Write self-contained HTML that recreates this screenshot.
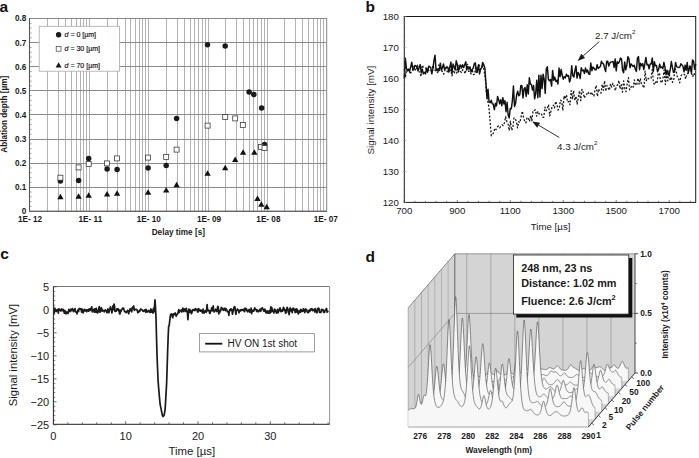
<!DOCTYPE html>
<html><head><meta charset="utf-8"><style>
html,body{margin:0;padding:0;background:#fff;overflow:hidden;}
svg{display:block;}
text{font-family:"Liberation Sans",sans-serif;}
</style></head><body>
<svg width="699" height="458" viewBox="0 0 699 458" font-family="Liberation Sans, sans-serif">
<rect width="699" height="458" fill="#fff"/>
<text x="-0.5" y="12.3" font-size="15.5" text-anchor="start" font-weight="bold" fill="#111" >a</text>
<text x="365.5" y="12.3" font-size="15.5" text-anchor="start" font-weight="bold" fill="#111" >b</text>
<text x="0.3" y="258.8" font-size="15.5" text-anchor="start" font-weight="bold" fill="#111" >c</text>
<text x="365.5" y="262.4" font-size="15.5" text-anchor="start" font-weight="bold" fill="#111" >d</text>
<line x1="47.5" y1="18.5" x2="47.5" y2="211.3" stroke="#b2b2b2" stroke-width="1" />
<line x1="58.5" y1="18.5" x2="58.5" y2="211.3" stroke="#b2b2b2" stroke-width="1" />
<line x1="65.5" y1="18.5" x2="65.5" y2="211.3" stroke="#b2b2b2" stroke-width="1" />
<line x1="71.5" y1="18.5" x2="71.5" y2="211.3" stroke="#b2b2b2" stroke-width="1" />
<line x1="76.5" y1="18.5" x2="76.5" y2="211.3" stroke="#b2b2b2" stroke-width="1" />
<line x1="80.5" y1="18.5" x2="80.5" y2="211.3" stroke="#b2b2b2" stroke-width="1" />
<line x1="83.5" y1="18.5" x2="83.5" y2="211.3" stroke="#b2b2b2" stroke-width="1" />
<line x1="86.5" y1="18.5" x2="86.5" y2="211.3" stroke="#b2b2b2" stroke-width="1" />
<line x1="107.5" y1="18.5" x2="107.5" y2="211.3" stroke="#b2b2b2" stroke-width="1" />
<line x1="117.5" y1="18.5" x2="117.5" y2="211.3" stroke="#b2b2b2" stroke-width="1" />
<line x1="125.5" y1="18.5" x2="125.5" y2="211.3" stroke="#b2b2b2" stroke-width="1" />
<line x1="130.5" y1="18.5" x2="130.5" y2="211.3" stroke="#b2b2b2" stroke-width="1" />
<line x1="135.5" y1="18.5" x2="135.5" y2="211.3" stroke="#b2b2b2" stroke-width="1" />
<line x1="139.5" y1="18.5" x2="139.5" y2="211.3" stroke="#b2b2b2" stroke-width="1" />
<line x1="142.5" y1="18.5" x2="142.5" y2="211.3" stroke="#b2b2b2" stroke-width="1" />
<line x1="145.5" y1="18.5" x2="145.5" y2="211.3" stroke="#b2b2b2" stroke-width="1" />
<line x1="89.5" y1="18.5" x2="89.5" y2="211.3" stroke="#b2b2b2" stroke-width="1" />
<line x1="166.5" y1="18.5" x2="166.5" y2="211.3" stroke="#b2b2b2" stroke-width="1" />
<line x1="177.5" y1="18.5" x2="177.5" y2="211.3" stroke="#b2b2b2" stroke-width="1" />
<line x1="184.5" y1="18.5" x2="184.5" y2="211.3" stroke="#b2b2b2" stroke-width="1" />
<line x1="190.5" y1="18.5" x2="190.5" y2="211.3" stroke="#b2b2b2" stroke-width="1" />
<line x1="194.5" y1="18.5" x2="194.5" y2="211.3" stroke="#b2b2b2" stroke-width="1" />
<line x1="198.5" y1="18.5" x2="198.5" y2="211.3" stroke="#b2b2b2" stroke-width="1" />
<line x1="202.5" y1="18.5" x2="202.5" y2="211.3" stroke="#b2b2b2" stroke-width="1" />
<line x1="205.5" y1="18.5" x2="205.5" y2="211.3" stroke="#b2b2b2" stroke-width="1" />
<line x1="148.5" y1="18.5" x2="148.5" y2="211.3" stroke="#b2b2b2" stroke-width="1" />
<line x1="225.5" y1="18.5" x2="225.5" y2="211.3" stroke="#b2b2b2" stroke-width="1" />
<line x1="236.5" y1="18.5" x2="236.5" y2="211.3" stroke="#b2b2b2" stroke-width="1" />
<line x1="243.5" y1="18.5" x2="243.5" y2="211.3" stroke="#b2b2b2" stroke-width="1" />
<line x1="249.5" y1="18.5" x2="249.5" y2="211.3" stroke="#b2b2b2" stroke-width="1" />
<line x1="253.5" y1="18.5" x2="253.5" y2="211.3" stroke="#b2b2b2" stroke-width="1" />
<line x1="257.5" y1="18.5" x2="257.5" y2="211.3" stroke="#b2b2b2" stroke-width="1" />
<line x1="261.5" y1="18.5" x2="261.5" y2="211.3" stroke="#b2b2b2" stroke-width="1" />
<line x1="264.5" y1="18.5" x2="264.5" y2="211.3" stroke="#b2b2b2" stroke-width="1" />
<line x1="208.5" y1="18.5" x2="208.5" y2="211.3" stroke="#b2b2b2" stroke-width="1" />
<line x1="284.5" y1="18.5" x2="284.5" y2="211.3" stroke="#b2b2b2" stroke-width="1" />
<line x1="295.5" y1="18.5" x2="295.5" y2="211.3" stroke="#b2b2b2" stroke-width="1" />
<line x1="302.5" y1="18.5" x2="302.5" y2="211.3" stroke="#b2b2b2" stroke-width="1" />
<line x1="308.5" y1="18.5" x2="308.5" y2="211.3" stroke="#b2b2b2" stroke-width="1" />
<line x1="313.5" y1="18.5" x2="313.5" y2="211.3" stroke="#b2b2b2" stroke-width="1" />
<line x1="317.5" y1="18.5" x2="317.5" y2="211.3" stroke="#b2b2b2" stroke-width="1" />
<line x1="320.5" y1="18.5" x2="320.5" y2="211.3" stroke="#b2b2b2" stroke-width="1" />
<line x1="323.5" y1="18.5" x2="323.5" y2="211.3" stroke="#b2b2b2" stroke-width="1" />
<line x1="267.5" y1="18.5" x2="267.5" y2="211.3" stroke="#b2b2b2" stroke-width="1" />
<line x1="29.5" y1="187.5" x2="326.7" y2="187.5" stroke="#8c8c8c" stroke-width="1" />
<line x1="29.5" y1="163.5" x2="326.7" y2="163.5" stroke="#8c8c8c" stroke-width="1" />
<line x1="29.5" y1="139.5" x2="326.7" y2="139.5" stroke="#8c8c8c" stroke-width="1" />
<line x1="29.5" y1="114.5" x2="326.7" y2="114.5" stroke="#8c8c8c" stroke-width="1" />
<line x1="29.5" y1="90.5" x2="326.7" y2="90.5" stroke="#8c8c8c" stroke-width="1" />
<line x1="29.5" y1="66.5" x2="326.7" y2="66.5" stroke="#8c8c8c" stroke-width="1" />
<line x1="29.5" y1="42.5" x2="326.7" y2="42.5" stroke="#8c8c8c" stroke-width="1" />
<line x1="29.5" y1="206.48" x2="31.7" y2="206.48" stroke="#888" stroke-width="0.7" />
<line x1="29.5" y1="201.66" x2="31.7" y2="201.66" stroke="#888" stroke-width="0.7" />
<line x1="29.5" y1="196.84" x2="31.7" y2="196.84" stroke="#888" stroke-width="0.7" />
<line x1="29.5" y1="192.02" x2="31.7" y2="192.02" stroke="#888" stroke-width="0.7" />
<line x1="29.5" y1="182.38" x2="31.7" y2="182.38" stroke="#888" stroke-width="0.7" />
<line x1="29.5" y1="177.56" x2="31.7" y2="177.56" stroke="#888" stroke-width="0.7" />
<line x1="29.5" y1="172.74" x2="31.7" y2="172.74" stroke="#888" stroke-width="0.7" />
<line x1="29.5" y1="167.92" x2="31.7" y2="167.92" stroke="#888" stroke-width="0.7" />
<line x1="29.5" y1="158.28" x2="31.7" y2="158.28" stroke="#888" stroke-width="0.7" />
<line x1="29.5" y1="153.46" x2="31.7" y2="153.46" stroke="#888" stroke-width="0.7" />
<line x1="29.5" y1="148.64" x2="31.7" y2="148.64" stroke="#888" stroke-width="0.7" />
<line x1="29.5" y1="143.82" x2="31.7" y2="143.82" stroke="#888" stroke-width="0.7" />
<line x1="29.5" y1="134.18" x2="31.7" y2="134.18" stroke="#888" stroke-width="0.7" />
<line x1="29.5" y1="129.36" x2="31.7" y2="129.36" stroke="#888" stroke-width="0.7" />
<line x1="29.5" y1="124.54" x2="31.7" y2="124.54" stroke="#888" stroke-width="0.7" />
<line x1="29.5" y1="119.72" x2="31.7" y2="119.72" stroke="#888" stroke-width="0.7" />
<line x1="29.5" y1="110.08" x2="31.7" y2="110.08" stroke="#888" stroke-width="0.7" />
<line x1="29.5" y1="105.26" x2="31.7" y2="105.26" stroke="#888" stroke-width="0.7" />
<line x1="29.5" y1="100.44" x2="31.7" y2="100.44" stroke="#888" stroke-width="0.7" />
<line x1="29.5" y1="95.62" x2="31.7" y2="95.62" stroke="#888" stroke-width="0.7" />
<line x1="29.5" y1="85.98" x2="31.7" y2="85.98" stroke="#888" stroke-width="0.7" />
<line x1="29.5" y1="81.16" x2="31.7" y2="81.16" stroke="#888" stroke-width="0.7" />
<line x1="29.5" y1="76.34" x2="31.7" y2="76.34" stroke="#888" stroke-width="0.7" />
<line x1="29.5" y1="71.52" x2="31.7" y2="71.52" stroke="#888" stroke-width="0.7" />
<line x1="29.5" y1="61.88" x2="31.7" y2="61.88" stroke="#888" stroke-width="0.7" />
<line x1="29.5" y1="57.06" x2="31.7" y2="57.06" stroke="#888" stroke-width="0.7" />
<line x1="29.5" y1="52.24" x2="31.7" y2="52.24" stroke="#888" stroke-width="0.7" />
<line x1="29.5" y1="47.42" x2="31.7" y2="47.42" stroke="#888" stroke-width="0.7" />
<line x1="29.5" y1="37.78" x2="31.7" y2="37.78" stroke="#888" stroke-width="0.7" />
<line x1="29.5" y1="32.96" x2="31.7" y2="32.96" stroke="#888" stroke-width="0.7" />
<line x1="29.5" y1="28.14" x2="31.7" y2="28.14" stroke="#888" stroke-width="0.7" />
<line x1="29.5" y1="23.32" x2="31.7" y2="23.32" stroke="#888" stroke-width="0.7" />
<rect x="29.5" y="18.5" width="297.2" height="192.8" fill="none" stroke="#888" stroke-width="1"/>
<line x1="29.5" y1="18.5" x2="29.5" y2="211.3" stroke="#555" stroke-width="1.1" />
<line x1="29.5" y1="211.3" x2="326.7" y2="211.3" stroke="#555" stroke-width="1.1" />
<rect x="39.2" y="26.3" width="80.3" height="44.9" fill="#fff" stroke="#aaa" stroke-width="0.8"/>
<circle cx="58.6" cy="34.7" r="2.7" fill="#1a1a1a"/>
<rect x="56.2" y="46.4" width="4.8" height="4.8" fill="#fff" stroke="#444" stroke-width="0.7"/>
<path d="M55.6,67.4 L61.6,67.4 L58.6,62.2 Z" fill="#1a1a1a"/>
<text x="64.6" y="37.2" font-size="7" fill="#111" stroke="#111" stroke-width="0.18"><tspan font-style="italic">d</tspan> = 0 [µm]</text>
<text x="64.6" y="51.3" font-size="7" fill="#111" stroke="#111" stroke-width="0.18"><tspan font-style="italic">d</tspan> = 30 [µm]</text>
<text x="64.6" y="67.5" font-size="7" fill="#111" stroke="#111" stroke-width="0.18"><tspan font-style="italic">d</tspan> = 70 [µm]</text>
<circle cx="60.4" cy="181.1" r="2.75" fill="#1a1a1a"/>
<circle cx="78.6" cy="180.5" r="2.75" fill="#1a1a1a"/>
<circle cx="88.7" cy="158.4" r="2.75" fill="#1a1a1a"/>
<circle cx="107.1" cy="169.0" r="2.75" fill="#1a1a1a"/>
<circle cx="117.1" cy="169.6" r="2.75" fill="#1a1a1a"/>
<circle cx="148.1" cy="168.0" r="2.75" fill="#1a1a1a"/>
<circle cx="166.2" cy="165.4" r="2.75" fill="#1a1a1a"/>
<circle cx="176.6" cy="118.4" r="2.75" fill="#1a1a1a"/>
<circle cx="207.5" cy="44.8" r="2.75" fill="#1a1a1a"/>
<circle cx="225.2" cy="45.9" r="2.75" fill="#1a1a1a"/>
<circle cx="249.1" cy="92.1" r="2.75" fill="#1a1a1a"/>
<circle cx="253.8" cy="94.6" r="2.75" fill="#1a1a1a"/>
<circle cx="261.6" cy="108" r="2.75" fill="#1a1a1a"/>
<circle cx="264.5" cy="144.6" r="2.75" fill="#1a1a1a"/>
<rect x="57.9" y="175.2" width="5" height="5" fill="#fff" stroke="#333" stroke-width="0.75"/>
<rect x="76.1" y="164.9" width="5" height="5" fill="#fff" stroke="#333" stroke-width="0.75"/>
<rect x="86.2" y="161.5" width="5" height="5" fill="#fff" stroke="#333" stroke-width="0.75"/>
<rect x="104.6" y="160.9" width="5" height="5" fill="#fff" stroke="#333" stroke-width="0.75"/>
<rect x="114.6" y="155.9" width="5" height="5" fill="#fff" stroke="#333" stroke-width="0.75"/>
<rect x="145.6" y="155.1" width="5" height="5" fill="#fff" stroke="#333" stroke-width="0.75"/>
<rect x="163.7" y="154.5" width="5" height="5" fill="#fff" stroke="#333" stroke-width="0.75"/>
<rect x="174.1" y="147.1" width="5" height="5" fill="#fff" stroke="#333" stroke-width="0.75"/>
<rect x="205.1" y="123.1" width="5" height="5" fill="#fff" stroke="#333" stroke-width="0.75"/>
<rect x="222.7" y="114.6" width="5" height="5" fill="#fff" stroke="#333" stroke-width="0.75"/>
<rect x="232.7" y="115.9" width="5" height="5" fill="#fff" stroke="#333" stroke-width="0.75"/>
<rect x="240.3" y="122.6" width="5" height="5" fill="#fff" stroke="#333" stroke-width="0.75"/>
<rect x="258.5" y="144.4" width="5" height="5" fill="#fff" stroke="#333" stroke-width="0.75"/>
<rect x="262" y="145.6" width="5" height="5" fill="#fff" stroke="#333" stroke-width="0.75"/>
<path d="M57.25,199.25 L63.55,199.25 L60.4,193.75 Z" fill="#111"/>
<path d="M75.45,198.85 L81.75,198.85 L78.6,193.35 Z" fill="#111"/>
<path d="M85.55,197.85 L91.85,197.85 L88.7,192.35 Z" fill="#111"/>
<path d="M103.95,196.45 L110.25,196.45 L107.1,190.95 Z" fill="#111"/>
<path d="M113.95,195.85 L120.25,195.85 L117.1,190.35 Z" fill="#111"/>
<path d="M144.95,194.85 L151.25,194.85 L148.1,189.35 Z" fill="#111"/>
<path d="M163.05,192.45 L169.35,192.45 L166.2,186.95 Z" fill="#111"/>
<path d="M173.45,187.25 L179.75,187.25 L176.6,181.75 Z" fill="#111"/>
<path d="M204.45,175.65 L210.75,175.65 L207.6,170.15 Z" fill="#111"/>
<path d="M222.05,170.15 L228.35,170.15 L225.2,164.65 Z" fill="#111"/>
<path d="M232.05,162.05 L238.35,162.05 L235.2,156.55 Z" fill="#111"/>
<path d="M239.95,154.85 L246.25,154.85 L243.1,149.35 Z" fill="#111"/>
<path d="M251.15,154.85 L257.45,154.85 L254.3,149.35 Z" fill="#111"/>
<path d="M254.35,200.95 L260.65,200.95 L257.5,195.45 Z" fill="#111"/>
<path d="M258.15,206.75 L264.45,206.75 L261.3,201.25 Z" fill="#111"/>
<path d="M263.55,209.35 L269.85,209.35 L266.7,203.85 Z" fill="#111"/>
<text x="26.4" y="214.2" font-size="8.2" text-anchor="end" font-weight="bold" fill="#1a1a1a" >0</text>
<text x="26.4" y="190.1" font-size="8.2" text-anchor="end" font-weight="bold" fill="#1a1a1a" >0.1</text>
<text x="26.4" y="166" font-size="8.2" text-anchor="end" font-weight="bold" fill="#1a1a1a" >0.2</text>
<text x="26.4" y="141.9" font-size="8.2" text-anchor="end" font-weight="bold" fill="#1a1a1a" >0.3</text>
<text x="26.4" y="117.8" font-size="8.2" text-anchor="end" font-weight="bold" fill="#1a1a1a" >0.4</text>
<text x="26.4" y="93.7" font-size="8.2" text-anchor="end" font-weight="bold" fill="#1a1a1a" >0.5</text>
<text x="26.4" y="69.6" font-size="8.2" text-anchor="end" font-weight="bold" fill="#1a1a1a" >0.6</text>
<text x="26.4" y="45.5" font-size="8.2" text-anchor="end" font-weight="bold" fill="#1a1a1a" >0.7</text>
<text x="26.4" y="21.4" font-size="8.2" text-anchor="end" font-weight="bold" fill="#1a1a1a" >0.8</text>
<text x="30" y="221.8" font-size="8.2" text-anchor="middle" font-weight="bold" fill="#1a1a1a" >1E- 12</text>
<text x="90.4" y="221.8" font-size="8.2" text-anchor="middle" font-weight="bold" fill="#1a1a1a" >1E- 11</text>
<text x="148.8" y="221.8" font-size="8.2" text-anchor="middle" font-weight="bold" fill="#1a1a1a" >1E- 10</text>
<text x="209" y="221.8" font-size="8.2" text-anchor="middle" font-weight="bold" fill="#1a1a1a" >1E- 09</text>
<text x="268.4" y="221.8" font-size="8.2" text-anchor="middle" font-weight="bold" fill="#1a1a1a" >1E- 08</text>
<text x="325.8" y="221.8" font-size="8.2" text-anchor="middle" font-weight="bold" fill="#1a1a1a" >1E- 07</text>
<text x="178.3" y="234.6" font-size="8.2" text-anchor="middle" font-weight="bold" fill="#1a1a1a" >Delay time [s]</text>
<text transform="translate(6.6,114.2) rotate(-90)" font-size="8.2" font-weight="bold" text-anchor="middle" fill="#1a1a1a">Ablation depth [µm]</text>
<path d="M404.3,69.12 L405.49,76.55 L406.68,69.56 L407.88,70.62 L409.07,70.13 L410.26,74.08 L411.45,71.33 L412.64,71.02 L413.84,66.36 L415.03,69.27 L416.22,70.43 L417.41,65.2 L418.61,72.3 L419.8,71.74 L420.99,76.55 L422.18,65.06 L423.37,67.12 L424.57,67.29 L425.76,68.13 L426.95,70.04 L428.14,69.68 L429.33,71.27 L430.53,71.1 L431.72,70.23 L432.91,65.26 L434.1,68.52 L435.29,70.61 L436.49,72.39 L437.68,72.58 L438.87,64.95 L440.06,68.68 L441.25,70.18 L442.45,71.59 L443.64,74.19 L444.83,70.64 L446.02,67.43 L447.22,71.75 L448.41,71.19 L449.6,71.16 L450.79,70.04 L451.98,75.84 L453.18,71.21 L454.37,73.32 L455.56,67.4 L456.75,73.04 L457.94,68.44 L459.14,65.22 L460.33,71.48 L461.52,72.46 L462.71,69.76 L463.9,70.42 L465.1,73.8 L466.29,68.84 L467.48,64.28 L468.67,71.29 L469.87,71.1 L471.06,73.97 L472.25,69.32 L473.44,74.66 L474.63,74.18 L475.83,66.05 L477.02,73.5 L478.21,66.73 L479.4,65.22 L480.59,69.53 L481.79,68.52 L482.98,64.28 L484.17,71.08 L485.36,78.59 L486.55,94.5 L487.75,101.06 L488.94,107.44 L490.13,122.3 L491.32,135.74 L492.51,134.63 L493.71,132.37 L494.9,128.18 L496.09,129.6 L497.28,127.04 L498.48,125.94 L499.67,127.79 L500.86,126.27 L502.05,124.8 L503.24,125.66 L504.44,122.71 L505.63,116.69 L506.82,121.53 L508.01,123.46 L509.2,130.62 L510.4,121.22 L511.59,130.32 L512.78,128.22 L513.97,118 L515.16,118.25 L516.36,121.56 L517.55,127.93 L518.74,121.73 L519.93,122.66 L521.12,116.56 L522.32,111.11 L523.51,117.58 L524.7,121.51 L525.89,122.8 L527.09,117.57 L528.28,117.7 L529.47,121.53 L530.66,115.63 L531.85,120.73 L533.05,110.51 L534.24,110.33 L535.43,109.83 L536.62,116.2 L537.81,111.4 L539.01,113.68 L540.2,114.27 L541.39,113.54 L542.58,117.18 L543.77,117.28 L544.97,107.05 L546.16,110.8 L547.35,108.51 L548.54,104.58 L549.74,115.92 L550.93,111.28 L552.12,106.6 L553.31,105.14 L554.5,107.95 L555.7,101.33 L556.89,104.35 L558.08,110.01 L559.27,108.26 L560.46,100.2 L561.66,101.16 L562.85,110.46 L564.04,95.87 L565.23,98.83 L566.42,94.84 L567.62,102.34 L568.81,101.41 L570,104.75 L571.19,90.63 L572.38,99.29 L573.58,90.57 L574.77,100.43 L575.96,96.14 L577.15,104.15 L578.35,97.64 L579.54,90.76 L580.73,100.63 L581.92,89.3 L583.11,92.2 L584.31,98.09 L585.5,95.05 L586.69,94.33 L587.88,91.9 L589.07,93.64 L590.27,94.6 L591.46,91.92 L592.65,95.03 L593.84,96.01 L595.03,89.99 L596.23,85.42 L597.42,96.39 L598.61,89.02 L599.8,91.81 L601,93.08 L602.19,84.33 L603.38,90.46 L604.57,80.84 L605.76,91.19 L606.96,85.52 L608.15,88.13 L609.34,90.33 L610.53,83.85 L611.72,87.05 L612.92,83.29 L614.11,86.06 L615.3,90.64 L616.49,85.83 L617.68,84.87 L618.88,80.41 L620.07,88.83 L621.26,84.55 L622.45,92.13 L623.64,80.85 L624.84,88.66 L626.03,91.75 L627.22,83.42 L628.41,77.76 L629.61,89.74 L630.8,87.46 L631.99,85.62 L633.18,87.17 L634.37,79.91 L635.57,85.18 L636.76,84.53 L637.95,78.22 L639.14,84.2 L640.33,78.43 L641.53,84.71 L642.72,85.59 L643.91,88.07 L645.1,71.1 L646.29,80.71 L647.49,77.84 L648.68,78.87 L649.87,77.74 L651.06,78.01 L652.25,69.63 L653.45,82.57 L654.64,84.74 L655.83,81.96 L657.02,83.31 L658.22,73.49 L659.41,73.01 L660.6,81.15 L661.79,83.01 L662.98,78.06 L664.18,69.8 L665.37,84.49 L666.56,73.54 L667.75,80.85 L668.94,70.87 L670.14,80.58 L671.33,76.76 L672.52,82.29 L673.71,79.69 L674.9,68.57 L676.1,71.06 L677.29,76.6 L678.48,78.64 L679.67,82.82 L680.87,76.14 L682.06,74.32 L683.25,74.43 L684.44,74.33 L685.63,78.97 L686.83,73.93 L688.02,73.66 L689.21,67.34 L690.4,64.83 L691.59,73.7 L692.79,76.48 L693.98,73.08 L695.17,75.47" stroke="#1a1a1a" stroke-width="1.3" fill="none" stroke-linejoin="round" stroke-dasharray="2 1.7"/>
<path d="M404.3,78.47 L405.36,58.33 L406.42,68.37 L407.48,70.76 L408.54,69.07 L409.6,71.15 L410.66,67.08 L411.72,62.12 L412.78,69.22 L413.84,69.72 L414.9,65.42 L415.96,65.93 L417.02,66.9 L418.08,70.92 L419.13,67.43 L420.19,64.62 L421.25,72.52 L422.31,69.08 L423.37,73.9 L424.43,72.31 L425.49,73.9 L426.55,68.22 L427.61,72.22 L428.67,66.26 L429.73,66.71 L430.79,68.04 L431.85,73.89 L432.91,68.82 L433.97,60.44 L435.03,55.23 L436.09,70.64 L437.15,69.08 L438.21,71.1 L439.27,70.45 L440.33,63.2 L441.39,70.44 L442.45,67.44 L443.51,63.89 L444.57,69.57 L445.63,67.75 L446.69,66.88 L447.75,67.07 L448.8,72.06 L449.86,67.02 L450.92,62.05 L451.98,73.3 L453.04,63.98 L454.1,66.85 L455.16,69.8 L456.22,60.73 L457.28,64.36 L458.34,71.96 L459.4,67.02 L460.46,65.08 L461.52,68.04 L462.58,64.67 L463.64,67.57 L464.7,64.73 L465.76,61.74 L466.82,69.93 L467.88,66.53 L468.94,69.11 L470,66.82 L471.06,71.91 L472.12,69.56 L473.18,68.07 L474.24,63.83 L475.3,62.88 L476.36,72.44 L477.41,70.39 L478.47,64.81 L479.53,73.9 L480.59,69.11 L481.65,67.69 L482.71,62.44 L483.77,64.64 L484.83,67.92 L485.89,82.71 L486.95,98.22 L488.01,89.16 L489.07,102.02 L490.13,102.67 L491.19,100.18 L492.25,103.7 L493.31,104.24 L494.37,109.72 L495.43,103.32 L496.49,105.95 L497.55,96.57 L498.61,99.67 L499.67,103.75 L500.73,99.76 L501.79,105.79 L502.85,97.68 L503.91,103.99 L504.97,100.62 L506.03,111.74 L507.08,102.21 L508.14,115.03 L509.2,117.9 L510.26,108.4 L511.32,108.68 L512.38,100.95 L513.44,85.88 L514.5,106.55 L515.56,103.46 L516.62,94.98 L517.68,91.19 L518.74,95.71 L519.8,94.68 L520.86,85.51 L521.92,85.8 L522.98,97.99 L524.04,88.87 L525.1,87.47 L526.16,96.52 L527.22,84.71 L528.28,94 L529.34,77.72 L530.4,84.07 L531.46,84.56 L532.52,90.06 L533.58,85.56 L534.64,98.87 L535.69,93.53 L536.75,80.16 L537.81,97.65 L538.87,75.16 L539.93,96.84 L540.99,75.12 L542.05,88.62 L543.11,74.12 L544.17,79.34 L545.23,93.4 L546.29,68.82 L547.35,66.75 L548.41,79.42 L549.47,80.82 L550.53,79.43 L551.59,86.09 L552.65,70.42 L553.71,80.36 L554.77,77.07 L555.83,81.44 L556.89,80.17 L557.95,83.97 L559.01,68.03 L560.07,76.54 L561.13,69.36 L562.19,75.03 L563.25,79.18 L564.31,76.67 L565.36,77.88 L566.42,74.13 L567.48,76.27 L568.54,75.56 L569.6,82.01 L570.66,78.24 L571.72,65.83 L572.78,75.68 L573.84,77.1 L574.9,70.83 L575.96,65.96 L577.02,78.13 L578.08,72.5 L579.14,74.1 L580.2,78.5 L581.26,67.7 L582.32,70.75 L583.38,70.11 L584.44,73.45 L585.5,67.98 L586.56,72.05 L587.62,70.1 L588.68,74.05 L589.74,74.28 L590.8,62.98 L591.86,70.74 L592.92,67.04 L593.97,68.22 L595.03,69.75 L596.09,69.8 L597.15,64.63 L598.21,68.44 L599.27,67.55 L600.33,66.56 L601.39,61.32 L602.45,63.24 L603.51,63.79 L604.57,67.9 L605.63,71.45 L606.69,61.33 L607.75,61.26 L608.81,66.06 L609.87,63.1 L610.93,62.06 L611.99,61.85 L613.05,61.46 L614.11,67.43 L615.17,58.88 L616.23,70.86 L617.29,61.72 L618.35,63.31 L619.41,61.66 L620.47,58.08 L621.53,59.01 L622.59,70.42 L623.64,72.78 L624.7,61.91 L625.76,69.85 L626.82,65.25 L627.88,56.68 L628.94,58.64 L630,67.7 L631.06,64.07 L632.12,65.26 L633.18,66.52 L634.24,65.29 L635.3,69.18 L636.36,71.37 L637.42,58.23 L638.48,56.57 L639.54,69.66 L640.6,63.17 L641.66,65.72 L642.72,63.69 L643.78,69.52 L644.84,63.75 L645.9,57.39 L646.96,64.74 L648.02,64.38 L649.08,68.85 L650.14,63.91 L651.2,63.98 L652.25,58.08 L653.31,71.5 L654.37,61.6 L655.43,65.84 L656.49,65.51 L657.55,71.74 L658.61,69.31 L659.67,64.09 L660.73,67.67 L661.79,66.96 L662.85,68.57 L663.91,62.3 L664.97,67.41 L666.03,74.69 L667.09,70.31 L668.15,74.69 L669.21,74.69 L670.27,69.61 L671.33,61.53 L672.39,67.11 L673.45,72.4 L674.51,71.39 L675.57,62.41 L676.63,66.63 L677.69,67.1 L678.75,67.54 L679.81,67.15 L680.87,63.82 L681.92,64.92 L682.98,66.38 L684.04,71.84 L685.1,65.1 L686.16,70.28 L687.22,62.57 L688.28,72.83 L689.34,67.91 L690.4,67.34 L691.46,73.06 L692.52,59.94 L693.58,60.98 L694.64,69.32 L695.7,63.97" stroke="#111" stroke-width="1.45" fill="none" stroke-linejoin="round" />
<rect x="404.3" y="16.5" width="291.4" height="185.9" fill="none" stroke="#1a1a1a" stroke-width="1"/>
<line x1="403.3" y1="202.4" x2="406.5" y2="202.4" stroke="#888" stroke-width="0.5" />
<line x1="403.3" y1="196.2" x2="405.5" y2="196.2" stroke="#888" stroke-width="0.5" />
<line x1="403.3" y1="190.01" x2="405.5" y2="190.01" stroke="#888" stroke-width="0.5" />
<line x1="403.3" y1="183.81" x2="405.5" y2="183.81" stroke="#888" stroke-width="0.5" />
<line x1="403.3" y1="177.61" x2="405.5" y2="177.61" stroke="#888" stroke-width="0.5" />
<line x1="403.3" y1="171.42" x2="406.5" y2="171.42" stroke="#888" stroke-width="0.5" />
<line x1="403.3" y1="165.22" x2="405.5" y2="165.22" stroke="#888" stroke-width="0.5" />
<line x1="403.3" y1="159.02" x2="405.5" y2="159.02" stroke="#888" stroke-width="0.5" />
<line x1="403.3" y1="152.83" x2="405.5" y2="152.83" stroke="#888" stroke-width="0.5" />
<line x1="403.3" y1="146.63" x2="405.5" y2="146.63" stroke="#888" stroke-width="0.5" />
<line x1="403.3" y1="140.43" x2="406.5" y2="140.43" stroke="#888" stroke-width="0.5" />
<line x1="403.3" y1="134.24" x2="405.5" y2="134.24" stroke="#888" stroke-width="0.5" />
<line x1="403.3" y1="128.04" x2="405.5" y2="128.04" stroke="#888" stroke-width="0.5" />
<line x1="403.3" y1="121.84" x2="405.5" y2="121.84" stroke="#888" stroke-width="0.5" />
<line x1="403.3" y1="115.65" x2="405.5" y2="115.65" stroke="#888" stroke-width="0.5" />
<line x1="403.3" y1="109.45" x2="406.5" y2="109.45" stroke="#888" stroke-width="0.5" />
<line x1="403.3" y1="103.25" x2="405.5" y2="103.25" stroke="#888" stroke-width="0.5" />
<line x1="403.3" y1="97.06" x2="405.5" y2="97.06" stroke="#888" stroke-width="0.5" />
<line x1="403.3" y1="90.86" x2="405.5" y2="90.86" stroke="#888" stroke-width="0.5" />
<line x1="403.3" y1="84.66" x2="405.5" y2="84.66" stroke="#888" stroke-width="0.5" />
<line x1="403.3" y1="78.47" x2="406.5" y2="78.47" stroke="#888" stroke-width="0.5" />
<line x1="403.3" y1="72.27" x2="405.5" y2="72.27" stroke="#888" stroke-width="0.5" />
<line x1="403.3" y1="66.07" x2="405.5" y2="66.07" stroke="#888" stroke-width="0.5" />
<line x1="403.3" y1="59.88" x2="405.5" y2="59.88" stroke="#888" stroke-width="0.5" />
<line x1="403.3" y1="53.68" x2="405.5" y2="53.68" stroke="#888" stroke-width="0.5" />
<line x1="403.3" y1="47.48" x2="406.5" y2="47.48" stroke="#888" stroke-width="0.5" />
<line x1="403.3" y1="41.29" x2="405.5" y2="41.29" stroke="#888" stroke-width="0.5" />
<line x1="403.3" y1="35.09" x2="405.5" y2="35.09" stroke="#888" stroke-width="0.5" />
<line x1="403.3" y1="28.89" x2="405.5" y2="28.89" stroke="#888" stroke-width="0.5" />
<line x1="403.3" y1="22.7" x2="405.5" y2="22.7" stroke="#888" stroke-width="0.5" />
<line x1="403.3" y1="16.5" x2="406.5" y2="16.5" stroke="#888" stroke-width="0.5" />
<line x1="404.3" y1="202.4" x2="404.3" y2="200" stroke="#333" stroke-width="0.6" />
<line x1="414.9" y1="202.4" x2="414.9" y2="200.8" stroke="#333" stroke-width="0.6" />
<line x1="425.49" y1="202.4" x2="425.49" y2="200.8" stroke="#333" stroke-width="0.6" />
<line x1="436.09" y1="202.4" x2="436.09" y2="200.8" stroke="#333" stroke-width="0.6" />
<line x1="446.69" y1="202.4" x2="446.69" y2="200.8" stroke="#333" stroke-width="0.6" />
<line x1="457.28" y1="202.4" x2="457.28" y2="200" stroke="#333" stroke-width="0.6" />
<line x1="467.88" y1="202.4" x2="467.88" y2="200.8" stroke="#333" stroke-width="0.6" />
<line x1="478.47" y1="202.4" x2="478.47" y2="200.8" stroke="#333" stroke-width="0.6" />
<line x1="489.07" y1="202.4" x2="489.07" y2="200.8" stroke="#333" stroke-width="0.6" />
<line x1="499.67" y1="202.4" x2="499.67" y2="200.8" stroke="#333" stroke-width="0.6" />
<line x1="510.26" y1="202.4" x2="510.26" y2="200" stroke="#333" stroke-width="0.6" />
<line x1="520.86" y1="202.4" x2="520.86" y2="200.8" stroke="#333" stroke-width="0.6" />
<line x1="531.46" y1="202.4" x2="531.46" y2="200.8" stroke="#333" stroke-width="0.6" />
<line x1="542.05" y1="202.4" x2="542.05" y2="200.8" stroke="#333" stroke-width="0.6" />
<line x1="552.65" y1="202.4" x2="552.65" y2="200.8" stroke="#333" stroke-width="0.6" />
<line x1="563.25" y1="202.4" x2="563.25" y2="200" stroke="#333" stroke-width="0.6" />
<line x1="573.84" y1="202.4" x2="573.84" y2="200.8" stroke="#333" stroke-width="0.6" />
<line x1="584.44" y1="202.4" x2="584.44" y2="200.8" stroke="#333" stroke-width="0.6" />
<line x1="595.03" y1="202.4" x2="595.03" y2="200.8" stroke="#333" stroke-width="0.6" />
<line x1="605.63" y1="202.4" x2="605.63" y2="200.8" stroke="#333" stroke-width="0.6" />
<line x1="616.23" y1="202.4" x2="616.23" y2="200" stroke="#333" stroke-width="0.6" />
<line x1="626.82" y1="202.4" x2="626.82" y2="200.8" stroke="#333" stroke-width="0.6" />
<line x1="637.42" y1="202.4" x2="637.42" y2="200.8" stroke="#333" stroke-width="0.6" />
<line x1="648.02" y1="202.4" x2="648.02" y2="200.8" stroke="#333" stroke-width="0.6" />
<line x1="658.61" y1="202.4" x2="658.61" y2="200.8" stroke="#333" stroke-width="0.6" />
<line x1="669.21" y1="202.4" x2="669.21" y2="200" stroke="#333" stroke-width="0.6" />
<line x1="679.81" y1="202.4" x2="679.81" y2="200.8" stroke="#333" stroke-width="0.6" />
<line x1="690.4" y1="202.4" x2="690.4" y2="200.8" stroke="#333" stroke-width="0.6" />
<text x="398.8" y="206" font-size="9.7" text-anchor="end" font-weight="normal" fill="#1a1a1a" >120</text>
<text x="398.8" y="175.02" font-size="9.7" text-anchor="end" font-weight="normal" fill="#1a1a1a" >130</text>
<text x="398.8" y="144.03" font-size="9.7" text-anchor="end" font-weight="normal" fill="#1a1a1a" >140</text>
<text x="398.8" y="113.05" font-size="9.7" text-anchor="end" font-weight="normal" fill="#1a1a1a" >150</text>
<text x="398.8" y="82.07" font-size="9.7" text-anchor="end" font-weight="normal" fill="#1a1a1a" >160</text>
<text x="398.8" y="51.08" font-size="9.7" text-anchor="end" font-weight="normal" fill="#1a1a1a" >170</text>
<text x="398.8" y="20.1" font-size="9.7" text-anchor="end" font-weight="normal" fill="#1a1a1a" >180</text>
<text x="404.3" y="214" font-size="9.7" text-anchor="middle" font-weight="normal" fill="#1a1a1a" >700</text>
<text x="457.28" y="214" font-size="9.7" text-anchor="middle" font-weight="normal" fill="#1a1a1a" >900</text>
<text x="510.26" y="214" font-size="9.7" text-anchor="middle" font-weight="normal" fill="#1a1a1a" >1100</text>
<text x="563.25" y="214" font-size="9.7" text-anchor="middle" font-weight="normal" fill="#1a1a1a" >1300</text>
<text x="616.23" y="214" font-size="9.7" text-anchor="middle" font-weight="normal" fill="#1a1a1a" >1500</text>
<text x="669.21" y="214" font-size="9.7" text-anchor="middle" font-weight="normal" fill="#1a1a1a" >1700</text>
<text x="550.6" y="229.7" font-size="9.7" text-anchor="middle" font-weight="normal" fill="#1a1a1a" >Time [µs]</text>
<text transform="translate(374.2,110.1) rotate(-90)" font-size="9.8" text-anchor="middle" fill="#1a1a1a">Signal intensity [mV]</text>
<text x="595" y="39.1" font-size="9.8" text-anchor="start" font-weight="normal" fill="#1a1a1a" >2.7 J/cm<tspan font-size="6.2" dy="-5.0">2</tspan></text>
<text x="557" y="150" font-size="9.8" text-anchor="start" font-weight="normal" fill="#1a1a1a" >4.3 J/cm<tspan font-size="6.2" dy="-5.0">2</tspan></text>
<line x1="599.3" y1="41.6" x2="583.2" y2="55.92" stroke="#1a1a1a" stroke-width="0.9" />
<path d="M577.6,60.9 L581.28,53.75 L585.13,58.08 Z" fill="#1a1a1a"/>
<line x1="559.3" y1="137.5" x2="538.65" y2="125.23" stroke="#1a1a1a" stroke-width="0.9" />
<path d="M532.2,121.4 L540.13,122.74 L537.17,127.72 Z" fill="#1a1a1a"/>
<line x1="53.4" y1="286.5" x2="329.6" y2="286.5" stroke="#555" stroke-width="0.8" />
<line x1="329.6" y1="286.5" x2="329.6" y2="424.3" stroke="#777" stroke-width="0.8" />
<line x1="53.4" y1="286.5" x2="53.4" y2="424.3" stroke="#222" stroke-width="1.0" />
<line x1="53.4" y1="424.3" x2="329.6" y2="424.3" stroke="#222" stroke-width="1.0" />
<line x1="53.4" y1="424.8" x2="56.6" y2="424.8" stroke="#333" stroke-width="0.7" />
<line x1="53.4" y1="420.2" x2="55.2" y2="420.2" stroke="#333" stroke-width="0.7" />
<line x1="53.4" y1="415.6" x2="55.2" y2="415.6" stroke="#333" stroke-width="0.7" />
<line x1="53.4" y1="411" x2="55.2" y2="411" stroke="#333" stroke-width="0.7" />
<line x1="53.4" y1="406.4" x2="55.2" y2="406.4" stroke="#333" stroke-width="0.7" />
<line x1="53.4" y1="401.8" x2="56.6" y2="401.8" stroke="#333" stroke-width="0.7" />
<line x1="53.4" y1="397.2" x2="55.2" y2="397.2" stroke="#333" stroke-width="0.7" />
<line x1="53.4" y1="392.6" x2="55.2" y2="392.6" stroke="#333" stroke-width="0.7" />
<line x1="53.4" y1="388" x2="55.2" y2="388" stroke="#333" stroke-width="0.7" />
<line x1="53.4" y1="383.4" x2="55.2" y2="383.4" stroke="#333" stroke-width="0.7" />
<line x1="53.4" y1="378.8" x2="56.6" y2="378.8" stroke="#333" stroke-width="0.7" />
<line x1="53.4" y1="374.2" x2="55.2" y2="374.2" stroke="#333" stroke-width="0.7" />
<line x1="53.4" y1="369.6" x2="55.2" y2="369.6" stroke="#333" stroke-width="0.7" />
<line x1="53.4" y1="365" x2="55.2" y2="365" stroke="#333" stroke-width="0.7" />
<line x1="53.4" y1="360.4" x2="55.2" y2="360.4" stroke="#333" stroke-width="0.7" />
<line x1="53.4" y1="355.8" x2="56.6" y2="355.8" stroke="#333" stroke-width="0.7" />
<line x1="53.4" y1="351.2" x2="55.2" y2="351.2" stroke="#333" stroke-width="0.7" />
<line x1="53.4" y1="346.6" x2="55.2" y2="346.6" stroke="#333" stroke-width="0.7" />
<line x1="53.4" y1="342" x2="55.2" y2="342" stroke="#333" stroke-width="0.7" />
<line x1="53.4" y1="337.4" x2="55.2" y2="337.4" stroke="#333" stroke-width="0.7" />
<line x1="53.4" y1="332.8" x2="56.6" y2="332.8" stroke="#333" stroke-width="0.7" />
<line x1="53.4" y1="328.2" x2="55.2" y2="328.2" stroke="#333" stroke-width="0.7" />
<line x1="53.4" y1="323.6" x2="55.2" y2="323.6" stroke="#333" stroke-width="0.7" />
<line x1="53.4" y1="319" x2="55.2" y2="319" stroke="#333" stroke-width="0.7" />
<line x1="53.4" y1="314.4" x2="55.2" y2="314.4" stroke="#333" stroke-width="0.7" />
<line x1="53.4" y1="309.8" x2="56.6" y2="309.8" stroke="#333" stroke-width="0.7" />
<line x1="53.4" y1="305.2" x2="55.2" y2="305.2" stroke="#333" stroke-width="0.7" />
<line x1="53.4" y1="300.6" x2="55.2" y2="300.6" stroke="#333" stroke-width="0.7" />
<line x1="53.4" y1="296" x2="55.2" y2="296" stroke="#333" stroke-width="0.7" />
<line x1="53.4" y1="291.4" x2="55.2" y2="291.4" stroke="#333" stroke-width="0.7" />
<line x1="53.4" y1="286.8" x2="56.6" y2="286.8" stroke="#333" stroke-width="0.7" />
<line x1="53.4" y1="424.3" x2="53.4" y2="421.1" stroke="#333" stroke-width="0.7" />
<line x1="67.86" y1="424.3" x2="67.86" y2="422.3" stroke="#333" stroke-width="0.7" />
<line x1="82.32" y1="424.3" x2="82.32" y2="422.3" stroke="#333" stroke-width="0.7" />
<line x1="96.78" y1="424.3" x2="96.78" y2="422.3" stroke="#333" stroke-width="0.7" />
<line x1="111.24" y1="424.3" x2="111.24" y2="422.3" stroke="#333" stroke-width="0.7" />
<line x1="125.7" y1="424.3" x2="125.7" y2="421.1" stroke="#333" stroke-width="0.7" />
<line x1="140.16" y1="424.3" x2="140.16" y2="422.3" stroke="#333" stroke-width="0.7" />
<line x1="154.62" y1="424.3" x2="154.62" y2="422.3" stroke="#333" stroke-width="0.7" />
<line x1="169.08" y1="424.3" x2="169.08" y2="422.3" stroke="#333" stroke-width="0.7" />
<line x1="183.54" y1="424.3" x2="183.54" y2="422.3" stroke="#333" stroke-width="0.7" />
<line x1="198" y1="424.3" x2="198" y2="421.1" stroke="#333" stroke-width="0.7" />
<line x1="212.46" y1="424.3" x2="212.46" y2="422.3" stroke="#333" stroke-width="0.7" />
<line x1="226.92" y1="424.3" x2="226.92" y2="422.3" stroke="#333" stroke-width="0.7" />
<line x1="241.38" y1="424.3" x2="241.38" y2="422.3" stroke="#333" stroke-width="0.7" />
<line x1="255.84" y1="424.3" x2="255.84" y2="422.3" stroke="#333" stroke-width="0.7" />
<line x1="270.3" y1="424.3" x2="270.3" y2="421.1" stroke="#333" stroke-width="0.7" />
<line x1="284.76" y1="424.3" x2="284.76" y2="422.3" stroke="#333" stroke-width="0.7" />
<line x1="299.22" y1="424.3" x2="299.22" y2="422.3" stroke="#333" stroke-width="0.7" />
<line x1="313.68" y1="424.3" x2="313.68" y2="422.3" stroke="#333" stroke-width="0.7" />
<line x1="328.14" y1="424.3" x2="328.14" y2="422.3" stroke="#333" stroke-width="0.7" />
<text x="49.2" y="290.6" font-size="11" text-anchor="end" font-weight="normal" fill="#1a1a1a" >5</text>
<text x="49.2" y="313.6" font-size="11" text-anchor="end" font-weight="normal" fill="#1a1a1a" >0</text>
<text x="49.2" y="336.6" font-size="11" text-anchor="end" font-weight="normal" fill="#1a1a1a" >−5</text>
<text x="49.2" y="359.6" font-size="11" text-anchor="end" font-weight="normal" fill="#1a1a1a" >−10</text>
<text x="49.2" y="382.6" font-size="11" text-anchor="end" font-weight="normal" fill="#1a1a1a" >−15</text>
<text x="49.2" y="405.6" font-size="11" text-anchor="end" font-weight="normal" fill="#1a1a1a" >−20</text>
<text x="49.2" y="428.6" font-size="11" text-anchor="end" font-weight="normal" fill="#1a1a1a" >−25</text>
<text x="53.4" y="439.5" font-size="11" text-anchor="middle" font-weight="normal" fill="#1a1a1a" >0</text>
<text x="125.7" y="439.5" font-size="11" text-anchor="middle" font-weight="normal" fill="#1a1a1a" >10</text>
<text x="198" y="439.5" font-size="11" text-anchor="middle" font-weight="normal" fill="#1a1a1a" >20</text>
<text x="270.3" y="439.5" font-size="11" text-anchor="middle" font-weight="normal" fill="#1a1a1a" >30</text>
<text x="191.8" y="455" font-size="11.4" text-anchor="middle" font-weight="normal" fill="#1a1a1a" >Time [µs]</text>
<text transform="translate(16.6,355) rotate(-90)" font-size="11.3" text-anchor="middle" fill="#1a1a1a">Signal intensity [mV]</text>
<rect x="199.5" y="333.6" width="114.9" height="18.3" fill="#fff" stroke="#888" stroke-width="0.8"/>
<line x1="205.2" y1="343.7" x2="222.3" y2="343.7" stroke="#111" stroke-width="1.8" />
<text x="227.6" y="347.4" font-size="10" text-anchor="start" font-weight="normal" fill="#1a1a1a" >HV ON 1st shot</text>
<path d="M53.76,312.47 L54.27,312.99 L54.77,308.07 L55.28,310.52 L55.79,310.98 L56.29,311.49 L56.8,309.87 L57.3,310.39 L57.81,309.26 L58.32,313.09 L58.82,308.75 L59.33,310.12 L59.83,309.28 L60.34,310.35 L60.85,311.06 L61.35,309.91 L61.86,308.99 L62.37,310.37 L62.87,310.7 L63.38,309.45 L63.88,311.58 L64.39,313.25 L64.9,310.68 L65.4,311.63 L65.91,313.92 L66.41,312.83 L66.92,311.94 L67.43,312.85 L67.93,313.6 L68.44,311.36 L68.94,309.31 L69.45,310.51 L69.96,311.69 L70.46,310.23 L70.97,309.26 L71.47,310.6 L71.98,309.65 L72.49,308.56 L72.99,310.24 L73.5,311.73 L74.01,310.3 L74.51,310.03 L75.02,308.58 L75.52,311.99 L76.03,312 L76.54,312.29 L77.04,313.82 L77.55,311.29 L78.05,309.88 L78.56,311.5 L79.07,308.56 L79.57,308.59 L80.08,308.91 L80.58,309.37 L81.09,308.62 L81.6,312.07 L82.1,309.98 L82.61,309.37 L83.12,313 L83.62,310.68 L84.13,310.95 L84.63,309.37 L85.14,310.86 L85.65,310.63 L86.15,309.98 L86.66,311.75 L87.16,309.9 L87.67,310.48 L88.18,309.7 L88.68,311.09 L89.19,308.92 L89.69,309.05 L90.2,310.34 L90.71,309.43 L91.21,308.14 L91.72,306.9 L92.23,311.95 L92.73,309.51 L93.24,309.45 L93.74,310.33 L94.25,312.06 L94.76,308.94 L95.26,312.06 L95.77,310.05 L96.27,308.26 L96.78,312.4 L97.29,311.55 L97.79,312.92 L98.3,310.82 L98.8,308.15 L99.31,306.53 L99.82,312.16 L100.32,311.92 L100.83,309.79 L101.33,307.74 L101.84,308.99 L102.35,311.24 L102.85,310.24 L103.36,310.44 L103.87,310.8 L104.37,311.77 L104.88,310.25 L105.38,309.92 L105.89,310.47 L106.4,310.84 L106.9,312.66 L107.41,311.92 L107.91,308.98 L108.42,310.34 L108.93,312.76 L109.43,309.02 L109.94,309.2 L110.44,306.71 L110.95,309.25 L111.46,310.86 L111.96,312.93 L112.47,309.09 L112.98,305.93 L113.48,309.57 L113.99,304.11 L114.49,305.7 L115,311.48 L115.51,311.27 L116.01,311.29 L116.52,310.42 L117.02,308.71 L117.53,309.92 L118.04,308.84 L118.54,310.67 L119.05,310.02 L119.55,313.79 L120.06,313.81 L120.57,310.21 L121.07,311.35 L121.58,309.82 L122.09,309.41 L122.59,308.04 L123.1,308.45 L123.6,308.24 L124.11,309.99 L124.62,311.47 L125.12,311.96 L125.63,311.72 L126.13,312.68 L126.64,312.03 L127.15,311.1 L127.65,310.27 L128.16,310.97 L128.66,313.73 L129.17,311.58 L129.68,310.45 L130.18,308.73 L130.69,309.03 L131.19,311.09 L131.7,311.83 L132.21,307.66 L132.71,308.42 L133.22,306.92 L133.73,305.99 L134.23,310.46 L134.74,309.86 L135.24,309.56 L135.75,309.31 L136.26,309.26 L136.76,309.8 L137.27,310 L137.77,312.76 L138.28,311.44 L138.79,311.98 L139.29,310.73 L139.8,311.32 L140.3,309.74 L140.81,308.95 L141.32,309.53 L141.82,309.69 L142.33,310.1 L142.84,311.09 L143.34,310.94 L143.85,311.42 L144.35,310.14 L144.86,310.36 L145.37,309.52 L145.87,312.34 L146.38,309.61 L146.88,311.46 L147.39,311.96 L147.9,311.25 L148.4,311.62 L148.91,310.36 L149.41,311.38 L149.92,312.48 L150.43,312.45 L150.93,308.97 L151.44,309.96 L151.94,312.21 L152.45,310.99 L152.96,313.15 L153.46,308.41 L153.97,311.86 L154.48,306.59 L154.98,299.89 L155.49,307.41 L155.99,317.28 L156.5,336.43 L157.01,354.69 L157.51,367.26 L158.02,379.61 L158.52,386.53 L159.03,392.36 L159.54,398.29 L160.04,403.49 L160.55,406.38 L161.05,408.62 L161.56,411.39 L162.07,414.15 L162.57,415.6 L163.08,416.58 L163.59,415.94 L164.09,415.32 L164.6,412.32 L165.1,409.73 L165.61,401.43 L166.12,392.17 L166.62,383.54 L167.13,367.77 L167.63,351.59 L168.14,337.34 L168.65,326.27 L169.15,325.95 L169.66,321.36 L170.16,317.21 L170.67,314.32 L171.18,315.74 L171.68,313.94 L172.19,315.16 L172.7,317.74 L173.2,315.17 L173.71,313.83 L174.21,314.73 L174.72,313.72 L175.23,312.87 L175.73,314.83 L176.24,316.29 L176.74,314.61 L177.25,313.98 L177.76,313.91 L178.26,311.63 L178.77,309.65 L179.27,312.4 L179.78,311.34 L180.29,310.53 L180.79,310.55 L181.3,309.92 L181.8,311.95 L182.31,310.64 L182.82,308.08 L183.32,309.18 L183.83,311.7 L184.34,310.38 L184.84,308.84 L185.35,309.71 L185.85,311.37 L186.36,308.38 L186.87,311.89 L187.37,311.37 L187.88,319.59 L188.38,313.68 L188.89,309.1 L189.4,309.51 L189.9,312.07 L190.41,310 L190.91,311.04 L191.42,313.72 L191.93,312.57 L192.43,310.69 L192.94,309.53 L193.45,309.93 L193.95,310.25 L194.46,309.66 L194.96,310.58 L195.47,308.62 L195.98,309.69 L196.48,309.78 L196.99,309.41 L197.49,311.87 L198,312.04 L198.51,308.5 L199.01,309.35 L199.52,310.6 L200.02,309.97 L200.53,311.11 L201.04,310.23 L201.54,311.48 L202.05,310.34 L202.55,312.99 L203.06,309.1 L203.57,310.9 L204.07,313.16 L204.58,311.65 L205.09,311.44 L205.59,310.53 L206.1,312.35 L206.6,310.41 L207.11,304.63 L207.62,310.79 L208.12,310.04 L208.63,310.85 L209.13,310.29 L209.64,313.35 L210.15,313.2 L210.65,310.56 L211.16,310.57 L211.66,307.88 L212.17,310.84 L212.68,310.31 L213.18,305.75 L213.69,310.3 L214.2,311.89 L214.7,310.97 L215.21,310.7 L215.71,309.2 L216.22,309.89 L216.73,311.53 L217.23,310.46 L217.74,306.23 L218.24,307.17 L218.75,313.97 L219.26,311.76 L219.76,312.28 L220.27,310.03 L220.77,310.63 L221.28,307.42 L221.79,308.07 L222.29,308.33 L222.8,309.54 L223.31,310.27 L223.81,309.88 L224.32,308.22 L224.82,308.95 L225.33,310.59 L225.84,308.47 L226.34,309.57 L226.85,310.34 L227.35,311.72 L227.86,311.77 L228.37,311.9 L228.87,315.41 L229.38,310.33 L229.88,309.53 L230.39,310.55 L230.9,308.82 L231.4,309.28 L231.91,309.53 L232.41,314.19 L232.92,311.97 L233.43,310.08 L233.93,307.77 L234.44,306.71 L234.95,307.06 L235.45,311.33 L235.96,314.28 L236.46,310.71 L236.97,310.51 L237.48,308.95 L237.98,310.23 L238.49,310.06 L238.99,312.78 L239.5,310.45 L240.01,311.2 L240.51,310.14 L241.02,309.64 L241.52,310.43 L242.03,309.96 L242.54,310.35 L243.04,309.23 L243.55,309.3 L244.06,311.01 L244.56,311.59 L245.07,308.01 L245.57,309.91 L246.08,308.72 L246.59,309.33 L247.09,311.05 L247.6,311.86 L248.1,310.71 L248.61,310.14 L249.12,309.4 L249.62,312.2 L250.13,311.96 L250.63,311.08 L251.14,308.09 L251.65,313.57 L252.15,310.71 L252.66,311.42 L253.16,310.08 L253.67,311.16 L254.18,310.1 L254.68,307.85 L255.19,309.13 L255.7,309.38 L256.2,309.56 L256.71,311.42 L257.21,309.89 L257.72,310.65 L258.23,311.84 L258.73,310.96 L259.24,311 L259.74,309.43 L260.25,310.24 L260.76,311.27 L261.26,308.38 L261.77,308.27 L262.27,307.78 L262.78,308.7 L263.29,310.13 L263.79,311.06 L264.3,311.11 L264.81,309.15 L265.31,309.91 L265.82,312.7 L266.32,311.22 L266.83,312.99 L267.34,310.97 L267.84,312.57 L268.35,313.15 L268.85,311.1 L269.36,310.8 L269.87,313.26 L270.37,310.12 L270.88,306.9 L271.38,311.8 L271.89,307.95 L272.4,310.84 L272.9,311.39 L273.41,311.05 L273.92,312.98 L274.42,309.15 L274.93,309.29 L275.43,311.34 L275.94,311.19 L276.45,313.14 L276.95,311.85 L277.46,309.39 L277.96,312.92 L278.47,311.92 L278.98,310.68 L279.48,308.86 L279.99,307.83 L280.49,310.43 L281,311.66 L281.51,310.12 L282.01,310.96 L282.52,311.13 L283.02,308.94 L283.53,307.31 L284.04,309.11 L284.54,310.38 L285.05,309.54 L285.56,313.24 L286.06,311.35 L286.57,312.45 L287.07,307.23 L287.58,308.35 L288.09,309.62 L288.59,310.54 L289.1,314.55 L289.6,310.56 L290.11,307.89 L290.62,310.88 L291.12,309.51 L291.63,309.03 L292.13,312.55 L292.64,309.6 L293.15,308.04 L293.65,309.39 L294.16,310.26 L294.67,309.15 L295.17,312.57 L295.68,310.96 L296.18,308.93 L296.69,312.02 L297.2,309.35 L297.7,310.82 L298.21,313.94 L298.71,311.7 L299.22,312.42 L299.73,310.55 L300.23,312.4 L300.74,309.37 L301.24,311.34 L301.75,310.17 L302.26,311.35 L302.76,311.27 L303.27,308.8 L303.77,309.64 L304.28,310.87 L304.79,312.62 L305.29,309.26 L305.8,308.94 L306.31,310.55 L306.81,310.12 L307.32,312.04 L307.82,312.59 L308.33,312.45 L308.84,310.51 L309.34,310.02 L309.85,311.55 L310.35,309.62 L310.86,308.97 L311.37,309.75 L311.87,308.6 L312.38,310.38 L312.88,310.64 L313.39,309.77 L313.9,310.33 L314.4,309.16 L314.91,312.11 L315.42,308.68 L315.92,311.2 L316.43,310.97 L316.93,312.85 L317.44,310.23 L317.95,308.36 L318.45,308.13 L318.96,308.44 L319.46,312.38 L319.97,312.32 L320.48,311.78 L320.98,312.38 L321.49,309.25 L321.99,309.82 L322.5,310.33 L323.01,309.66 L323.51,311.77 L324.02,312.34 L324.52,312.46 L325.03,310.28 L325.54,309.88 L326.04,309.38 L326.55,308.42 L327.06,312.05 L327.56,311.86 L328.07,310.66" stroke="#1a1a1a" stroke-width="1.7" fill="none" stroke-linejoin="round" />
<path d="M454.8,253.8 L408.2,307.8 L408.2,427 L454.8,373" stroke="none" stroke-width="0" fill="#d4d4d4" stroke-linejoin="round" />
<rect x="454.8" y="253.8" width="180.2" height="119.2" fill="#d4d4d4"/>
<path d="M408.2,427 L588.4,427 L635,373 L454.8,373" stroke="none" stroke-width="0" fill="#d4d4d4" stroke-linejoin="round" />
<line x1="466.81" y1="253.8" x2="466.81" y2="373" stroke="#a2a2a2" stroke-width="0.9" />
<line x1="490.84" y1="253.8" x2="490.84" y2="373" stroke="#a2a2a2" stroke-width="0.9" />
<line x1="514.87" y1="253.8" x2="514.87" y2="373" stroke="#a2a2a2" stroke-width="0.9" />
<line x1="538.89" y1="253.8" x2="538.89" y2="373" stroke="#a2a2a2" stroke-width="0.9" />
<line x1="562.92" y1="253.8" x2="562.92" y2="373" stroke="#a2a2a2" stroke-width="0.9" />
<line x1="586.95" y1="253.8" x2="586.95" y2="373" stroke="#a2a2a2" stroke-width="0.9" />
<line x1="610.97" y1="253.8" x2="610.97" y2="373" stroke="#a2a2a2" stroke-width="0.9" />
<line x1="414.86" y1="300.09" x2="414.86" y2="419.29" stroke="#a8a8a8" stroke-width="0.8" />
<line x1="421.51" y1="292.37" x2="421.51" y2="411.57" stroke="#a8a8a8" stroke-width="0.8" />
<line x1="428.17" y1="284.66" x2="428.17" y2="403.86" stroke="#a8a8a8" stroke-width="0.8" />
<line x1="434.83" y1="276.94" x2="434.83" y2="396.14" stroke="#a8a8a8" stroke-width="0.8" />
<line x1="441.49" y1="269.23" x2="441.49" y2="388.43" stroke="#a8a8a8" stroke-width="0.8" />
<line x1="448.14" y1="261.51" x2="448.14" y2="380.71" stroke="#a8a8a8" stroke-width="0.8" />
<line x1="454.8" y1="313.4" x2="635" y2="313.4" stroke="#777" stroke-width="0.6" />
<line x1="454.8" y1="313.4" x2="408.2" y2="367.4" stroke="#777" stroke-width="0.6" />
<line x1="454.8" y1="253.8" x2="635" y2="253.8" stroke="#808080" stroke-width="0.8" />
<line x1="454.8" y1="253.8" x2="408.2" y2="307.8" stroke="#707070" stroke-width="0.8" />
<line x1="408.2" y1="307.8" x2="408.2" y2="427" stroke="#888" stroke-width="0.6" />
<line x1="454.8" y1="253.8" x2="454.8" y2="373" stroke="#444" stroke-width="0.8" />
<line x1="635" y1="253.8" x2="635" y2="373" stroke="#333" stroke-width="0.9" />
<path d="M448.14,380.51 L448.44,380.38 L448.74,380.17 L449.04,379.87 L449.34,379.45 L449.64,378.94 L449.94,378.39 L450.25,377.91 L450.55,377.58 L450.85,377.49 L451.15,377.65 L451.45,378.01 L451.75,378.47 L452.05,378.94 L452.35,379.33 L452.65,379.61 L452.95,379.79 L453.25,379.87 L453.55,379.89 L453.85,379.87 L454.15,379.82 L454.45,379.76 L454.75,379.68 L455.05,379.59 L455.35,379.47 L455.65,379.32 L455.95,379.14 L456.25,378.93 L456.55,378.68 L456.85,378.39 L457.15,378.09 L457.45,377.77 L457.75,377.48 L458.05,377.26 L458.35,377.16 L458.65,377.18 L458.95,377.31 L459.26,377.5 L459.56,377.72 L459.86,377.93 L460.16,378.1 L460.46,378.23 L460.76,378.3 L461.06,378.3 L461.36,378.25 L461.66,378.12 L461.96,377.93 L462.26,377.69 L462.56,377.39 L462.86,377.08 L463.16,376.78 L463.46,376.54 L463.76,376.43 L464.06,376.45 L464.36,376.6 L464.66,376.81 L464.96,377.04 L465.26,377.24 L465.56,377.39 L465.86,377.48 L466.16,377.5 L466.46,377.46 L466.76,377.36 L467.06,377.21 L467.36,377.01 L467.66,376.75 L467.96,376.47 L468.27,376.15 L468.57,375.82 L468.87,375.48 L469.17,375.17 L469.47,374.91 L469.77,374.72 L470.07,374.62 L470.37,374.63 L470.67,374.72 L470.97,374.87 L471.27,375.06 L471.57,375.25 L471.87,375.44 L472.17,375.59 L472.47,375.71 L472.77,375.8 L473.07,375.84 L473.37,375.85 L473.67,375.82 L473.97,375.77 L474.27,375.69 L474.57,375.61 L474.87,375.53 L475.17,375.46 L475.47,375.42 L475.77,375.41 L476.07,375.43 L476.37,375.49 L476.67,375.57 L476.97,375.68 L477.28,375.81 L477.58,375.94 L477.88,376.08 L478.18,376.21 L478.48,376.34 L478.78,376.45 L479.08,376.56 L479.38,376.65 L479.68,376.73 L479.98,376.8 L480.28,376.85 L480.58,376.9 L480.88,376.93 L481.18,376.95 L481.48,376.95 L481.78,376.95 L482.08,376.94 L482.38,376.92 L482.68,376.89 L482.98,376.85 L483.28,376.8 L483.58,376.73 L483.88,376.65 L484.18,376.55 L484.48,376.43 L484.78,376.28 L485.08,376.09 L485.38,375.87 L485.68,375.6 L485.98,375.29 L486.29,374.93 L486.59,374.51 L486.89,374.05 L487.19,373.55 L487.49,373.02 L487.79,372.48 L488.09,371.97 L488.39,371.52 L488.69,371.18 L488.99,370.96 L489.29,370.9 L489.59,370.98 L489.89,371.18 L490.19,371.47 L490.49,371.81 L490.79,372.17 L491.09,372.53 L491.39,372.89 L491.69,373.23 L491.99,373.53 L492.29,373.8 L492.59,374.03 L492.89,374.21 L493.19,374.36 L493.49,374.45 L493.79,374.51 L494.09,374.51 L494.39,374.46 L494.69,374.33 L494.99,374.12 L495.3,373.78 L495.6,373.31 L495.9,372.72 L496.2,372.07 L496.5,371.45 L496.8,370.99 L497.1,370.78 L497.4,370.85 L497.7,371.15 L498,371.6 L498.3,372.09 L498.6,372.53 L498.9,372.89 L499.2,373.17 L499.5,373.39 L499.8,373.58 L500.1,373.76 L500.4,373.94 L500.7,374.12 L501,374.3 L501.3,374.46 L501.6,374.61 L501.9,374.74 L502.2,374.85 L502.5,374.92 L502.8,374.98 L503.1,375.01 L503.4,375.02 L503.7,375.01 L504,374.99 L504.31,374.95 L504.61,374.89 L504.91,374.81 L505.21,374.71 L505.51,374.59 L505.81,374.45 L506.11,374.27 L506.41,374.07 L506.71,373.83 L507.01,373.57 L507.31,373.28 L507.61,372.96 L507.91,372.63 L508.21,372.31 L508.51,372.01 L508.81,371.76 L509.11,371.58 L509.41,371.5 L509.71,371.53 L510.01,371.66 L510.31,371.87 L510.61,372.12 L510.91,372.4 L511.21,372.68 L511.51,372.95 L511.81,373.2 L512.11,373.42 L512.41,373.61 L512.71,373.77 L513.01,373.9 L513.32,374.01 L513.62,374.09 L513.92,374.15 L514.22,374.2 L514.52,374.23 L514.82,374.24 L515.12,374.25 L515.42,374.25 L515.72,374.25 L516.02,374.23 L516.32,374.22 L516.62,374.2 L516.92,374.18 L517.22,374.15 L517.52,374.12 L517.82,374.09 L518.12,374.05 L518.42,374 L518.72,373.95 L519.02,373.88 L519.32,373.79 L519.62,373.68 L519.92,373.52 L520.22,373.3 L520.52,373.03 L520.82,372.71 L521.12,372.36 L521.42,371.99 L521.72,371.65 L522.02,371.34 L522.33,371.07 L522.63,370.8 L522.93,370.53 L523.23,370.24 L523.53,369.96 L523.83,369.69 L524.13,369.45 L524.43,369.24 L524.73,369.07 L525.03,368.92 L525.33,368.79 L525.63,368.68 L525.93,368.61 L526.23,368.59 L526.53,368.62 L526.83,368.73 L527.13,368.91 L527.43,369.15 L527.73,369.45 L528.03,369.79 L528.33,370.14 L528.63,370.49 L528.93,370.82 L529.23,371.12 L529.53,371.38 L529.83,371.6 L530.13,371.77 L530.43,371.9 L530.73,371.99 L531.03,372.03 L531.34,372.03 L531.64,371.99 L531.94,371.91 L532.24,371.78 L532.54,371.61 L532.84,371.4 L533.14,371.16 L533.44,370.87 L533.74,370.56 L534.04,370.22 L534.34,369.89 L534.64,369.56 L534.94,369.28 L535.24,369.06 L535.54,368.93 L535.84,368.89 L536.14,368.95 L536.44,369.06 L536.74,369.19 L537.04,369.31 L537.34,369.38 L537.64,369.39 L537.94,369.33 L538.24,369.21 L538.54,369.04 L538.84,368.86 L539.14,368.71 L539.44,368.6 L539.74,368.56 L540.04,368.59 L540.35,368.68 L540.65,368.79 L540.95,368.91 L541.25,369.01 L541.55,369.08 L541.85,369.13 L542.15,369.16 L542.45,369.18 L542.75,369.21 L543.05,369.25 L543.35,369.3 L543.65,369.36 L543.95,369.42 L544.25,369.47 L544.55,369.52 L544.85,369.55 L545.15,369.56 L545.45,369.55 L545.75,369.51 L546.05,369.44 L546.35,369.34 L546.65,369.21 L546.95,369.05 L547.25,368.88 L547.55,368.68 L547.85,368.47 L548.15,368.26 L548.45,368.06 L548.75,367.87 L549.05,367.72 L549.36,367.62 L549.66,367.57 L549.96,367.58 L550.26,367.64 L550.56,367.74 L550.86,367.88 L551.16,368.05 L551.46,368.22 L551.76,368.38 L552.06,368.54 L552.36,368.67 L552.66,368.77 L552.96,368.84 L553.26,368.87 L553.56,368.86 L553.86,368.79 L554.16,368.68 L554.46,368.52 L554.76,368.3 L555.06,368.03 L555.36,367.73 L555.66,367.39 L555.96,367.03 L556.26,366.67 L556.56,366.36 L556.86,366.11 L557.16,365.96 L557.46,365.92 L557.76,366 L558.06,366.21 L558.37,366.5 L558.67,366.86 L558.97,367.25 L559.27,367.65 L559.57,368.04 L559.87,368.4 L560.17,368.74 L560.47,369.04 L560.77,369.3 L561.07,369.52 L561.37,369.71 L561.67,369.87 L561.97,369.99 L562.27,370.1 L562.57,370.18 L562.87,370.24 L563.17,370.29 L563.47,370.33 L563.77,370.35 L564.07,370.36 L564.37,370.36 L564.67,370.35 L564.97,370.33 L565.27,370.29 L565.57,370.24 L565.87,370.17 L566.17,370.09 L566.47,369.97 L566.77,369.83 L567.07,369.66 L567.38,369.44 L567.68,369.16 L567.98,368.81 L568.28,368.39 L568.58,367.88 L568.88,367.31 L569.18,366.69 L569.48,366.06 L569.78,365.49 L570.08,365.03 L570.38,364.74 L570.68,364.65 L570.98,364.75 L571.28,365.02 L571.58,365.4 L571.88,365.83 L572.18,366.26 L572.48,366.65 L572.78,366.98 L573.08,367.23 L573.38,367.43 L573.68,367.58 L573.98,367.71 L574.28,367.83 L574.58,367.95 L574.88,368.09 L575.18,368.24 L575.48,368.41 L575.78,368.61 L576.08,368.81 L576.39,369.03 L576.69,369.25 L576.99,369.46 L577.29,369.66 L577.59,369.84 L577.89,369.99 L578.19,370.12 L578.49,370.23 L578.79,370.3 L579.09,370.34 L579.39,370.35 L579.69,370.33 L579.99,370.28 L580.29,370.21 L580.59,370.11 L580.89,369.98 L581.19,369.82 L581.49,369.64 L581.79,369.44 L582.09,369.23 L582.39,369.02 L582.69,368.83 L582.99,368.67 L583.29,368.57 L583.59,368.55 L583.89,368.61 L584.19,368.73 L584.49,368.91 L584.79,369.11 L585.09,369.33 L585.4,369.54 L585.7,369.73 L586,369.91 L586.3,370.07 L586.6,370.2 L586.9,370.31 L587.2,370.4 L587.5,370.47 L587.8,370.52 L588.1,370.55 L588.4,370.56 L588.7,370.55 L589,370.52 L589.3,370.46 L589.6,370.37 L589.9,370.24 L590.2,370.07 L590.5,369.85 L590.8,369.57 L591.1,369.23 L591.4,368.83 L591.7,368.37 L592,367.88 L592.3,367.38 L592.6,366.91 L592.9,366.53 L593.2,366.27 L593.5,366.17 L593.8,366.22 L594.1,366.41 L594.41,366.67 L594.71,366.97 L595.01,367.25 L595.31,367.47 L595.61,367.63 L595.91,367.71 L596.21,367.73 L596.51,367.69 L596.81,367.62 L597.11,367.52 L597.41,367.41 L597.71,367.29 L598.01,367.17 L598.31,367.04 L598.61,366.93 L598.91,366.82 L599.21,366.75 L599.51,366.71 L599.81,366.71 L600.11,366.77 L600.41,366.88 L600.71,367.06 L601.01,367.29 L601.31,367.56 L601.61,367.86 L601.91,368.18 L602.21,368.5 L602.51,368.81 L602.81,369.1 L603.11,369.36 L603.42,369.59 L603.72,369.79 L604.02,369.96 L604.32,370.1 L604.62,370.21 L604.92,370.3 L605.22,370.37 L605.52,370.42 L605.82,370.45 L606.12,370.48 L606.42,370.48 L606.72,370.47 L607.02,370.43 L607.32,370.33 L607.62,370.16 L607.92,369.86 L608.22,369.41 L608.52,368.84 L608.82,368.22 L609.12,367.66 L609.42,367.31 L609.72,367.23 L610.02,367.38 L610.32,367.67 L610.62,367.94 L610.92,368.08 L611.22,368.04 L611.52,367.82 L611.82,367.46 L612.12,367 L612.43,366.5 L612.73,365.98 L613.03,365.5 L613.33,365.1 L613.63,364.82 L613.93,364.71 L614.23,364.77 L614.53,364.99 L614.83,365.34 L615.13,365.76 L615.43,366.22 L615.73,366.67 L616.03,367.1 L616.33,367.47 L616.63,367.79 L616.93,368.03 L617.23,368.2 L617.53,368.29 L617.83,368.29 L618.13,368.22 L618.43,368.05 L618.73,367.79 L619.03,367.45 L619.33,367.01 L619.63,366.49 L619.93,365.89 L620.23,365.22 L620.53,364.5 L620.83,363.75 L621.13,363.02 L621.44,362.35 L621.74,361.81 L622.04,361.46 L622.34,361.35 L622.64,361.5 L622.94,361.88 L623.24,362.46 L623.54,363.16 L623.84,363.93 L624.14,364.71 L624.44,365.47 L624.74,366.17 L625.04,366.79 L625.34,367.32 L625.64,367.74 L625.94,368.03 L626.24,368.21 L626.54,368.27 L626.84,368.24 L627.14,368.15 L627.44,368.05 L627.74,367.98 L628.04,367.98 L628.34,368.08 L628.34,380.71 L448.14,380.71" stroke="none" stroke-width="0" fill="#f7f7f7" stroke-linejoin="round" />
<line x1="628.34" y1="368.08" x2="628.34" y2="380.71" stroke="#777" stroke-width="0.5" />
<path d="M448.14,380.51 L448.44,380.38 L448.74,380.17 L449.04,379.87 L449.34,379.45 L449.64,378.94 L449.94,378.39 L450.25,377.91 L450.55,377.58 L450.85,377.49 L451.15,377.65 L451.45,378.01 L451.75,378.47 L452.05,378.94 L452.35,379.33 L452.65,379.61 L452.95,379.79 L453.25,379.87 L453.55,379.89 L453.85,379.87 L454.15,379.82 L454.45,379.76 L454.75,379.68 L455.05,379.59 L455.35,379.47 L455.65,379.32 L455.95,379.14 L456.25,378.93 L456.55,378.68 L456.85,378.39 L457.15,378.09 L457.45,377.77 L457.75,377.48 L458.05,377.26 L458.35,377.16 L458.65,377.18 L458.95,377.31 L459.26,377.5 L459.56,377.72 L459.86,377.93 L460.16,378.1 L460.46,378.23 L460.76,378.3 L461.06,378.3 L461.36,378.25 L461.66,378.12 L461.96,377.93 L462.26,377.69 L462.56,377.39 L462.86,377.08 L463.16,376.78 L463.46,376.54 L463.76,376.43 L464.06,376.45 L464.36,376.6 L464.66,376.81 L464.96,377.04 L465.26,377.24 L465.56,377.39 L465.86,377.48 L466.16,377.5 L466.46,377.46 L466.76,377.36 L467.06,377.21 L467.36,377.01 L467.66,376.75 L467.96,376.47 L468.27,376.15 L468.57,375.82 L468.87,375.48 L469.17,375.17 L469.47,374.91 L469.77,374.72 L470.07,374.62 L470.37,374.63 L470.67,374.72 L470.97,374.87 L471.27,375.06 L471.57,375.25 L471.87,375.44 L472.17,375.59 L472.47,375.71 L472.77,375.8 L473.07,375.84 L473.37,375.85 L473.67,375.82 L473.97,375.77 L474.27,375.69 L474.57,375.61 L474.87,375.53 L475.17,375.46 L475.47,375.42 L475.77,375.41 L476.07,375.43 L476.37,375.49 L476.67,375.57 L476.97,375.68 L477.28,375.81 L477.58,375.94 L477.88,376.08 L478.18,376.21 L478.48,376.34 L478.78,376.45 L479.08,376.56 L479.38,376.65 L479.68,376.73 L479.98,376.8 L480.28,376.85 L480.58,376.9 L480.88,376.93 L481.18,376.95 L481.48,376.95 L481.78,376.95 L482.08,376.94 L482.38,376.92 L482.68,376.89 L482.98,376.85 L483.28,376.8 L483.58,376.73 L483.88,376.65 L484.18,376.55 L484.48,376.43 L484.78,376.28 L485.08,376.09 L485.38,375.87 L485.68,375.6 L485.98,375.29 L486.29,374.93 L486.59,374.51 L486.89,374.05 L487.19,373.55 L487.49,373.02 L487.79,372.48 L488.09,371.97 L488.39,371.52 L488.69,371.18 L488.99,370.96 L489.29,370.9 L489.59,370.98 L489.89,371.18 L490.19,371.47 L490.49,371.81 L490.79,372.17 L491.09,372.53 L491.39,372.89 L491.69,373.23 L491.99,373.53 L492.29,373.8 L492.59,374.03 L492.89,374.21 L493.19,374.36 L493.49,374.45 L493.79,374.51 L494.09,374.51 L494.39,374.46 L494.69,374.33 L494.99,374.12 L495.3,373.78 L495.6,373.31 L495.9,372.72 L496.2,372.07 L496.5,371.45 L496.8,370.99 L497.1,370.78 L497.4,370.85 L497.7,371.15 L498,371.6 L498.3,372.09 L498.6,372.53 L498.9,372.89 L499.2,373.17 L499.5,373.39 L499.8,373.58 L500.1,373.76 L500.4,373.94 L500.7,374.12 L501,374.3 L501.3,374.46 L501.6,374.61 L501.9,374.74 L502.2,374.85 L502.5,374.92 L502.8,374.98 L503.1,375.01 L503.4,375.02 L503.7,375.01 L504,374.99 L504.31,374.95 L504.61,374.89 L504.91,374.81 L505.21,374.71 L505.51,374.59 L505.81,374.45 L506.11,374.27 L506.41,374.07 L506.71,373.83 L507.01,373.57 L507.31,373.28 L507.61,372.96 L507.91,372.63 L508.21,372.31 L508.51,372.01 L508.81,371.76 L509.11,371.58 L509.41,371.5 L509.71,371.53 L510.01,371.66 L510.31,371.87 L510.61,372.12 L510.91,372.4 L511.21,372.68 L511.51,372.95 L511.81,373.2 L512.11,373.42 L512.41,373.61 L512.71,373.77 L513.01,373.9 L513.32,374.01 L513.62,374.09 L513.92,374.15 L514.22,374.2 L514.52,374.23 L514.82,374.24 L515.12,374.25 L515.42,374.25 L515.72,374.25 L516.02,374.23 L516.32,374.22 L516.62,374.2 L516.92,374.18 L517.22,374.15 L517.52,374.12 L517.82,374.09 L518.12,374.05 L518.42,374 L518.72,373.95 L519.02,373.88 L519.32,373.79 L519.62,373.68 L519.92,373.52 L520.22,373.3 L520.52,373.03 L520.82,372.71 L521.12,372.36 L521.42,371.99 L521.72,371.65 L522.02,371.34 L522.33,371.07 L522.63,370.8 L522.93,370.53 L523.23,370.24 L523.53,369.96 L523.83,369.69 L524.13,369.45 L524.43,369.24 L524.73,369.07 L525.03,368.92 L525.33,368.79 L525.63,368.68 L525.93,368.61 L526.23,368.59 L526.53,368.62 L526.83,368.73 L527.13,368.91 L527.43,369.15 L527.73,369.45 L528.03,369.79 L528.33,370.14 L528.63,370.49 L528.93,370.82 L529.23,371.12 L529.53,371.38 L529.83,371.6 L530.13,371.77 L530.43,371.9 L530.73,371.99 L531.03,372.03 L531.34,372.03 L531.64,371.99 L531.94,371.91 L532.24,371.78 L532.54,371.61 L532.84,371.4 L533.14,371.16 L533.44,370.87 L533.74,370.56 L534.04,370.22 L534.34,369.89 L534.64,369.56 L534.94,369.28 L535.24,369.06 L535.54,368.93 L535.84,368.89 L536.14,368.95 L536.44,369.06 L536.74,369.19 L537.04,369.31 L537.34,369.38 L537.64,369.39 L537.94,369.33 L538.24,369.21 L538.54,369.04 L538.84,368.86 L539.14,368.71 L539.44,368.6 L539.74,368.56 L540.04,368.59 L540.35,368.68 L540.65,368.79 L540.95,368.91 L541.25,369.01 L541.55,369.08 L541.85,369.13 L542.15,369.16 L542.45,369.18 L542.75,369.21 L543.05,369.25 L543.35,369.3 L543.65,369.36 L543.95,369.42 L544.25,369.47 L544.55,369.52 L544.85,369.55 L545.15,369.56 L545.45,369.55 L545.75,369.51 L546.05,369.44 L546.35,369.34 L546.65,369.21 L546.95,369.05 L547.25,368.88 L547.55,368.68 L547.85,368.47 L548.15,368.26 L548.45,368.06 L548.75,367.87 L549.05,367.72 L549.36,367.62 L549.66,367.57 L549.96,367.58 L550.26,367.64 L550.56,367.74 L550.86,367.88 L551.16,368.05 L551.46,368.22 L551.76,368.38 L552.06,368.54 L552.36,368.67 L552.66,368.77 L552.96,368.84 L553.26,368.87 L553.56,368.86 L553.86,368.79 L554.16,368.68 L554.46,368.52 L554.76,368.3 L555.06,368.03 L555.36,367.73 L555.66,367.39 L555.96,367.03 L556.26,366.67 L556.56,366.36 L556.86,366.11 L557.16,365.96 L557.46,365.92 L557.76,366 L558.06,366.21 L558.37,366.5 L558.67,366.86 L558.97,367.25 L559.27,367.65 L559.57,368.04 L559.87,368.4 L560.17,368.74 L560.47,369.04 L560.77,369.3 L561.07,369.52 L561.37,369.71 L561.67,369.87 L561.97,369.99 L562.27,370.1 L562.57,370.18 L562.87,370.24 L563.17,370.29 L563.47,370.33 L563.77,370.35 L564.07,370.36 L564.37,370.36 L564.67,370.35 L564.97,370.33 L565.27,370.29 L565.57,370.24 L565.87,370.17 L566.17,370.09 L566.47,369.97 L566.77,369.83 L567.07,369.66 L567.38,369.44 L567.68,369.16 L567.98,368.81 L568.28,368.39 L568.58,367.88 L568.88,367.31 L569.18,366.69 L569.48,366.06 L569.78,365.49 L570.08,365.03 L570.38,364.74 L570.68,364.65 L570.98,364.75 L571.28,365.02 L571.58,365.4 L571.88,365.83 L572.18,366.26 L572.48,366.65 L572.78,366.98 L573.08,367.23 L573.38,367.43 L573.68,367.58 L573.98,367.71 L574.28,367.83 L574.58,367.95 L574.88,368.09 L575.18,368.24 L575.48,368.41 L575.78,368.61 L576.08,368.81 L576.39,369.03 L576.69,369.25 L576.99,369.46 L577.29,369.66 L577.59,369.84 L577.89,369.99 L578.19,370.12 L578.49,370.23 L578.79,370.3 L579.09,370.34 L579.39,370.35 L579.69,370.33 L579.99,370.28 L580.29,370.21 L580.59,370.11 L580.89,369.98 L581.19,369.82 L581.49,369.64 L581.79,369.44 L582.09,369.23 L582.39,369.02 L582.69,368.83 L582.99,368.67 L583.29,368.57 L583.59,368.55 L583.89,368.61 L584.19,368.73 L584.49,368.91 L584.79,369.11 L585.09,369.33 L585.4,369.54 L585.7,369.73 L586,369.91 L586.3,370.07 L586.6,370.2 L586.9,370.31 L587.2,370.4 L587.5,370.47 L587.8,370.52 L588.1,370.55 L588.4,370.56 L588.7,370.55 L589,370.52 L589.3,370.46 L589.6,370.37 L589.9,370.24 L590.2,370.07 L590.5,369.85 L590.8,369.57 L591.1,369.23 L591.4,368.83 L591.7,368.37 L592,367.88 L592.3,367.38 L592.6,366.91 L592.9,366.53 L593.2,366.27 L593.5,366.17 L593.8,366.22 L594.1,366.41 L594.41,366.67 L594.71,366.97 L595.01,367.25 L595.31,367.47 L595.61,367.63 L595.91,367.71 L596.21,367.73 L596.51,367.69 L596.81,367.62 L597.11,367.52 L597.41,367.41 L597.71,367.29 L598.01,367.17 L598.31,367.04 L598.61,366.93 L598.91,366.82 L599.21,366.75 L599.51,366.71 L599.81,366.71 L600.11,366.77 L600.41,366.88 L600.71,367.06 L601.01,367.29 L601.31,367.56 L601.61,367.86 L601.91,368.18 L602.21,368.5 L602.51,368.81 L602.81,369.1 L603.11,369.36 L603.42,369.59 L603.72,369.79 L604.02,369.96 L604.32,370.1 L604.62,370.21 L604.92,370.3 L605.22,370.37 L605.52,370.42 L605.82,370.45 L606.12,370.48 L606.42,370.48 L606.72,370.47 L607.02,370.43 L607.32,370.33 L607.62,370.16 L607.92,369.86 L608.22,369.41 L608.52,368.84 L608.82,368.22 L609.12,367.66 L609.42,367.31 L609.72,367.23 L610.02,367.38 L610.32,367.67 L610.62,367.94 L610.92,368.08 L611.22,368.04 L611.52,367.82 L611.82,367.46 L612.12,367 L612.43,366.5 L612.73,365.98 L613.03,365.5 L613.33,365.1 L613.63,364.82 L613.93,364.71 L614.23,364.77 L614.53,364.99 L614.83,365.34 L615.13,365.76 L615.43,366.22 L615.73,366.67 L616.03,367.1 L616.33,367.47 L616.63,367.79 L616.93,368.03 L617.23,368.2 L617.53,368.29 L617.83,368.29 L618.13,368.22 L618.43,368.05 L618.73,367.79 L619.03,367.45 L619.33,367.01 L619.63,366.49 L619.93,365.89 L620.23,365.22 L620.53,364.5 L620.83,363.75 L621.13,363.02 L621.44,362.35 L621.74,361.81 L622.04,361.46 L622.34,361.35 L622.64,361.5 L622.94,361.88 L623.24,362.46 L623.54,363.16 L623.84,363.93 L624.14,364.71 L624.44,365.47 L624.74,366.17 L625.04,366.79 L625.34,367.32 L625.64,367.74 L625.94,368.03 L626.24,368.21 L626.54,368.27 L626.84,368.24 L627.14,368.15 L627.44,368.05 L627.74,367.98 L628.04,367.98 L628.34,368.08" stroke="#444" stroke-width="0.6" fill="none" stroke-linejoin="round" />
<path d="M441.49,388.3 L441.79,388.27 L442.09,388.24 L442.39,388.2 L442.69,388.17 L442.99,388.14 L443.29,388.1 L443.59,388.07 L443.89,388.03 L444.19,388 L444.49,387.96 L444.79,387.92 L445.09,387.89 L445.39,387.85 L445.69,387.8 L445.99,387.76 L446.29,387.72 L446.59,387.67 L446.89,387.62 L447.19,387.56 L447.49,387.49 L447.79,387.41 L448.09,387.32 L448.39,387.2 L448.69,387.06 L448.99,386.88 L449.29,386.66 L449.59,386.39 L449.9,386.07 L450.2,385.7 L450.5,385.28 L450.8,384.84 L451.1,384.41 L451.4,384.02 L451.7,383.73 L452,383.55 L452.3,383.47 L452.6,383.45 L452.9,383.46 L453.2,383.47 L453.5,383.46 L453.8,383.44 L454.1,383.39 L454.4,383.32 L454.7,383.23 L455,383.13 L455.3,383 L455.6,382.86 L455.9,382.71 L456.2,382.57 L456.5,382.46 L456.8,382.43 L457.1,382.53 L457.4,382.76 L457.7,383.11 L458,383.5 L458.3,383.9 L458.6,384.24 L458.91,384.51 L459.21,384.71 L459.51,384.82 L459.81,384.85 L460.11,384.81 L460.41,384.69 L460.71,384.52 L461.01,384.29 L461.31,384.02 L461.61,383.71 L461.91,383.38 L462.21,383.05 L462.51,382.73 L462.81,382.46 L463.11,382.25 L463.41,382.12 L463.71,382.07 L464.01,382.07 L464.31,382.1 L464.61,382.11 L464.91,382.09 L465.21,382.03 L465.51,381.92 L465.81,381.79 L466.11,381.67 L466.41,381.58 L466.71,381.55 L467.01,381.58 L467.31,381.67 L467.61,381.82 L467.92,381.99 L468.22,382.16 L468.52,382.33 L468.82,382.49 L469.12,382.63 L469.42,382.76 L469.72,382.88 L470.02,383.01 L470.32,383.14 L470.62,383.26 L470.92,383.38 L471.22,383.49 L471.52,383.59 L471.82,383.67 L472.12,383.73 L472.42,383.77 L472.72,383.78 L473.02,383.77 L473.32,383.73 L473.62,383.66 L473.92,383.58 L474.22,383.48 L474.52,383.37 L474.82,383.25 L475.12,383.13 L475.42,383.02 L475.72,382.91 L476.02,382.82 L476.32,382.75 L476.62,382.69 L476.93,382.64 L477.23,382.6 L477.53,382.56 L477.83,382.52 L478.13,382.46 L478.43,382.37 L478.73,382.24 L479.03,382.06 L479.33,381.82 L479.63,381.51 L479.93,381.14 L480.23,380.69 L480.53,380.17 L480.83,379.6 L481.13,379.01 L481.43,378.41 L481.73,377.87 L482.03,377.42 L482.33,377.12 L482.63,376.97 L482.93,376.98 L483.23,377.12 L483.53,377.35 L483.83,377.64 L484.13,377.98 L484.43,378.33 L484.73,378.69 L485.03,379.06 L485.33,379.42 L485.63,379.76 L485.94,380.1 L486.24,380.4 L486.54,380.68 L486.84,380.91 L487.14,381.11 L487.44,381.26 L487.74,381.36 L488.04,381.42 L488.34,381.43 L488.64,381.41 L488.94,381.35 L489.24,381.28 L489.54,381.19 L489.84,381.1 L490.14,381.03 L490.44,380.98 L490.74,380.95 L491.04,380.97 L491.34,381.02 L491.64,381.09 L491.94,381.19 L492.24,381.31 L492.54,381.44 L492.84,381.57 L493.14,381.7 L493.44,381.82 L493.74,381.93 L494.04,382.03 L494.34,382.11 L494.64,382.19 L494.95,382.25 L495.25,382.29 L495.55,382.33 L495.85,382.35 L496.15,382.35 L496.45,382.34 L496.75,382.31 L497.05,382.26 L497.35,382.17 L497.65,382.03 L497.95,381.82 L498.25,381.52 L498.55,381.11 L498.85,380.59 L499.15,379.97 L499.45,379.28 L499.75,378.59 L500.05,377.95 L500.35,377.43 L500.65,377.06 L500.95,376.85 L501.25,376.77 L501.55,376.77 L501.85,376.83 L502.15,376.92 L502.45,377.04 L502.75,377.21 L503.05,377.44 L503.35,377.73 L503.65,378.07 L503.96,378.45 L504.26,378.84 L504.56,379.22 L504.86,379.57 L505.16,379.88 L505.46,380.14 L505.76,380.34 L506.06,380.49 L506.36,380.58 L506.66,380.61 L506.96,380.58 L507.26,380.49 L507.56,380.36 L507.86,380.18 L508.16,379.98 L508.46,379.75 L508.76,379.52 L509.06,379.28 L509.36,379.06 L509.66,378.85 L509.96,378.65 L510.26,378.47 L510.56,378.3 L510.86,378.14 L511.16,377.97 L511.46,377.79 L511.76,377.61 L512.06,377.43 L512.36,377.25 L512.66,377.08 L512.97,376.94 L513.27,376.83 L513.57,376.77 L513.87,376.75 L514.17,376.77 L514.47,376.82 L514.77,376.89 L515.07,376.95 L515.37,377 L515.67,377.02 L515.97,377 L516.27,376.97 L516.57,376.95 L516.87,376.96 L517.17,377.04 L517.47,377.19 L517.77,377.42 L518.07,377.7 L518.37,378.02 L518.67,378.34 L518.97,378.64 L519.27,378.92 L519.57,379.17 L519.87,379.38 L520.17,379.56 L520.47,379.7 L520.77,379.81 L521.07,379.9 L521.37,379.95 L521.67,379.99 L521.98,380 L522.28,380 L522.58,379.99 L522.88,379.96 L523.18,379.92 L523.48,379.86 L523.78,379.78 L524.08,379.68 L524.38,379.53 L524.68,379.34 L524.98,379.09 L525.28,378.76 L525.58,378.35 L525.88,377.84 L526.18,377.26 L526.48,376.61 L526.78,375.92 L527.08,375.24 L527.38,374.59 L527.68,374.02 L527.98,373.55 L528.28,373.2 L528.58,372.95 L528.88,372.82 L529.18,372.81 L529.48,372.93 L529.78,373.19 L530.08,373.59 L530.38,374.1 L530.68,374.7 L530.99,375.31 L531.29,375.87 L531.59,376.33 L531.89,376.66 L532.19,376.85 L532.49,376.93 L532.79,376.9 L533.09,376.8 L533.39,376.65 L533.69,376.46 L533.99,376.25 L534.29,376.03 L534.59,375.81 L534.89,375.62 L535.19,375.45 L535.49,375.33 L535.79,375.26 L536.09,375.24 L536.39,375.27 L536.69,375.35 L536.99,375.46 L537.29,375.58 L537.59,375.71 L537.89,375.83 L538.19,375.94 L538.49,376.02 L538.79,376.08 L539.09,376.1 L539.39,376.08 L539.69,376.04 L540,375.95 L540.3,375.84 L540.6,375.69 L540.9,375.53 L541.2,375.34 L541.5,375.15 L541.8,374.97 L542.1,374.8 L542.4,374.66 L542.7,374.56 L543,374.52 L543.3,374.53 L543.6,374.59 L543.9,374.69 L544.2,374.83 L544.5,374.99 L544.8,375.15 L545.1,375.3 L545.4,375.45 L545.7,375.56 L546,375.64 L546.3,375.69 L546.6,375.68 L546.9,375.62 L547.2,375.51 L547.5,375.33 L547.8,375.09 L548.1,374.79 L548.4,374.43 L548.7,374 L549.01,373.54 L549.31,373.04 L549.61,372.52 L549.91,372.06 L550.21,371.65 L550.51,371.34 L550.81,371.15 L551.11,371.08 L551.41,371.13 L551.71,371.27 L552.01,371.45 L552.31,371.64 L552.61,371.81 L552.91,371.95 L553.21,372.04 L553.51,372.09 L553.81,372.09 L554.11,372.07 L554.41,372.02 L554.71,371.98 L555.01,371.94 L555.31,371.94 L555.61,371.98 L555.91,372.06 L556.21,372.2 L556.51,372.4 L556.81,372.64 L557.11,372.94 L557.41,373.27 L557.71,373.62 L558.02,373.98 L558.32,374.34 L558.62,374.68 L558.92,374.98 L559.22,375.25 L559.52,375.46 L559.82,375.62 L560.12,375.73 L560.42,375.77 L560.72,375.77 L561.02,375.7 L561.32,375.59 L561.62,375.43 L561.92,375.21 L562.22,374.95 L562.52,374.65 L562.82,374.3 L563.12,373.93 L563.42,373.57 L563.72,373.24 L564.02,372.98 L564.32,372.84 L564.62,372.83 L564.92,372.97 L565.22,373.26 L565.52,373.65 L565.82,374.1 L566.12,374.59 L566.42,375.06 L566.72,375.49 L567.03,375.87 L567.33,376.19 L567.63,376.45 L567.93,376.66 L568.23,376.83 L568.53,376.97 L568.83,377.09 L569.13,377.19 L569.43,377.26 L569.73,377.33 L570.03,377.38 L570.33,377.41 L570.63,377.44 L570.93,377.46 L571.23,377.46 L571.53,377.46 L571.83,377.44 L572.13,377.41 L572.43,377.36 L572.73,377.29 L573.03,377.2 L573.33,377.08 L573.63,376.94 L573.93,376.76 L574.23,376.55 L574.53,376.3 L574.83,376.02 L575.13,375.72 L575.43,375.4 L575.73,375.08 L576.04,374.79 L576.34,374.56 L576.64,374.41 L576.94,374.38 L577.24,374.46 L577.54,374.65 L577.84,374.91 L578.14,375.22 L578.44,375.54 L578.74,375.85 L579.04,376.15 L579.34,376.42 L579.64,376.65 L579.94,376.85 L580.24,377.02 L580.54,377.15 L580.84,377.26 L581.14,377.34 L581.44,377.4 L581.74,377.44 L582.04,377.46 L582.34,377.46 L582.64,377.45 L582.94,377.43 L583.24,377.38 L583.54,377.32 L583.84,377.24 L584.14,377.15 L584.44,377.03 L584.74,376.9 L585.05,376.75 L585.35,376.58 L585.65,376.39 L585.95,376.19 L586.25,375.97 L586.55,375.74 L586.85,375.49 L587.15,375.23 L587.45,374.96 L587.75,374.68 L588.05,374.39 L588.35,374.1 L588.65,373.82 L588.95,373.56 L589.25,373.34 L589.55,373.17 L589.85,373.07 L590.15,373.03 L590.45,373.07 L590.75,373.17 L591.05,373.33 L591.35,373.52 L591.65,373.72 L591.95,373.92 L592.25,374.1 L592.55,374.27 L592.85,374.41 L593.15,374.54 L593.45,374.67 L593.75,374.8 L594.06,374.95 L594.36,375.11 L594.66,375.3 L594.96,375.5 L595.26,375.72 L595.56,375.94 L595.86,376.17 L596.16,376.39 L596.46,376.59 L596.76,376.76 L597.06,376.92 L597.36,377.04 L597.66,377.14 L597.96,377.21 L598.26,377.26 L598.56,377.29 L598.86,377.3 L599.16,377.3 L599.46,377.28 L599.76,377.25 L600.06,377.21 L600.36,377.16 L600.66,377.1 L600.96,377.03 L601.26,376.93 L601.56,376.82 L601.86,376.68 L602.16,376.5 L602.46,376.29 L602.76,376.02 L603.07,375.69 L603.37,375.28 L603.67,374.79 L603.97,374.19 L604.27,373.49 L604.57,372.68 L604.87,371.76 L605.17,370.73 L605.47,369.61 L605.77,368.44 L606.07,367.27 L606.37,366.16 L606.67,365.22 L606.97,364.53 L607.27,364.19 L607.57,364.2 L607.87,364.55 L608.17,365.15 L608.47,365.9 L608.77,366.73 L609.07,367.55 L609.37,368.33 L609.67,369.04 L609.97,369.66 L610.27,370.2 L610.57,370.66 L610.87,371.04 L611.17,371.36 L611.47,371.63 L611.77,371.83 L612.08,371.98 L612.38,372.07 L612.68,372.1 L612.98,372.05 L613.28,371.94 L613.58,371.76 L613.88,371.51 L614.18,371.22 L614.48,370.91 L614.78,370.61 L615.08,370.38 L615.38,370.26 L615.68,370.29 L615.98,370.5 L616.28,370.86 L616.58,371.35 L616.88,371.92 L617.18,372.54 L617.48,373.16 L617.78,373.76 L618.08,374.32 L618.38,374.83 L618.68,375.29 L618.98,375.7 L619.28,376.05 L619.58,376.35 L619.88,376.6 L620.18,376.81 L620.48,376.98 L620.78,377.13 L621.09,377.25 L621.39,377.35 L621.69,377.43 L621.69,388.43 L441.49,388.43" stroke="none" stroke-width="0" fill="#f7f7f7" stroke-linejoin="round" />
<line x1="621.69" y1="377.43" x2="621.69" y2="388.43" stroke="#777" stroke-width="0.5" />
<path d="M441.49,388.3 L441.79,388.27 L442.09,388.24 L442.39,388.2 L442.69,388.17 L442.99,388.14 L443.29,388.1 L443.59,388.07 L443.89,388.03 L444.19,388 L444.49,387.96 L444.79,387.92 L445.09,387.89 L445.39,387.85 L445.69,387.8 L445.99,387.76 L446.29,387.72 L446.59,387.67 L446.89,387.62 L447.19,387.56 L447.49,387.49 L447.79,387.41 L448.09,387.32 L448.39,387.2 L448.69,387.06 L448.99,386.88 L449.29,386.66 L449.59,386.39 L449.9,386.07 L450.2,385.7 L450.5,385.28 L450.8,384.84 L451.1,384.41 L451.4,384.02 L451.7,383.73 L452,383.55 L452.3,383.47 L452.6,383.45 L452.9,383.46 L453.2,383.47 L453.5,383.46 L453.8,383.44 L454.1,383.39 L454.4,383.32 L454.7,383.23 L455,383.13 L455.3,383 L455.6,382.86 L455.9,382.71 L456.2,382.57 L456.5,382.46 L456.8,382.43 L457.1,382.53 L457.4,382.76 L457.7,383.11 L458,383.5 L458.3,383.9 L458.6,384.24 L458.91,384.51 L459.21,384.71 L459.51,384.82 L459.81,384.85 L460.11,384.81 L460.41,384.69 L460.71,384.52 L461.01,384.29 L461.31,384.02 L461.61,383.71 L461.91,383.38 L462.21,383.05 L462.51,382.73 L462.81,382.46 L463.11,382.25 L463.41,382.12 L463.71,382.07 L464.01,382.07 L464.31,382.1 L464.61,382.11 L464.91,382.09 L465.21,382.03 L465.51,381.92 L465.81,381.79 L466.11,381.67 L466.41,381.58 L466.71,381.55 L467.01,381.58 L467.31,381.67 L467.61,381.82 L467.92,381.99 L468.22,382.16 L468.52,382.33 L468.82,382.49 L469.12,382.63 L469.42,382.76 L469.72,382.88 L470.02,383.01 L470.32,383.14 L470.62,383.26 L470.92,383.38 L471.22,383.49 L471.52,383.59 L471.82,383.67 L472.12,383.73 L472.42,383.77 L472.72,383.78 L473.02,383.77 L473.32,383.73 L473.62,383.66 L473.92,383.58 L474.22,383.48 L474.52,383.37 L474.82,383.25 L475.12,383.13 L475.42,383.02 L475.72,382.91 L476.02,382.82 L476.32,382.75 L476.62,382.69 L476.93,382.64 L477.23,382.6 L477.53,382.56 L477.83,382.52 L478.13,382.46 L478.43,382.37 L478.73,382.24 L479.03,382.06 L479.33,381.82 L479.63,381.51 L479.93,381.14 L480.23,380.69 L480.53,380.17 L480.83,379.6 L481.13,379.01 L481.43,378.41 L481.73,377.87 L482.03,377.42 L482.33,377.12 L482.63,376.97 L482.93,376.98 L483.23,377.12 L483.53,377.35 L483.83,377.64 L484.13,377.98 L484.43,378.33 L484.73,378.69 L485.03,379.06 L485.33,379.42 L485.63,379.76 L485.94,380.1 L486.24,380.4 L486.54,380.68 L486.84,380.91 L487.14,381.11 L487.44,381.26 L487.74,381.36 L488.04,381.42 L488.34,381.43 L488.64,381.41 L488.94,381.35 L489.24,381.28 L489.54,381.19 L489.84,381.1 L490.14,381.03 L490.44,380.98 L490.74,380.95 L491.04,380.97 L491.34,381.02 L491.64,381.09 L491.94,381.19 L492.24,381.31 L492.54,381.44 L492.84,381.57 L493.14,381.7 L493.44,381.82 L493.74,381.93 L494.04,382.03 L494.34,382.11 L494.64,382.19 L494.95,382.25 L495.25,382.29 L495.55,382.33 L495.85,382.35 L496.15,382.35 L496.45,382.34 L496.75,382.31 L497.05,382.26 L497.35,382.17 L497.65,382.03 L497.95,381.82 L498.25,381.52 L498.55,381.11 L498.85,380.59 L499.15,379.97 L499.45,379.28 L499.75,378.59 L500.05,377.95 L500.35,377.43 L500.65,377.06 L500.95,376.85 L501.25,376.77 L501.55,376.77 L501.85,376.83 L502.15,376.92 L502.45,377.04 L502.75,377.21 L503.05,377.44 L503.35,377.73 L503.65,378.07 L503.96,378.45 L504.26,378.84 L504.56,379.22 L504.86,379.57 L505.16,379.88 L505.46,380.14 L505.76,380.34 L506.06,380.49 L506.36,380.58 L506.66,380.61 L506.96,380.58 L507.26,380.49 L507.56,380.36 L507.86,380.18 L508.16,379.98 L508.46,379.75 L508.76,379.52 L509.06,379.28 L509.36,379.06 L509.66,378.85 L509.96,378.65 L510.26,378.47 L510.56,378.3 L510.86,378.14 L511.16,377.97 L511.46,377.79 L511.76,377.61 L512.06,377.43 L512.36,377.25 L512.66,377.08 L512.97,376.94 L513.27,376.83 L513.57,376.77 L513.87,376.75 L514.17,376.77 L514.47,376.82 L514.77,376.89 L515.07,376.95 L515.37,377 L515.67,377.02 L515.97,377 L516.27,376.97 L516.57,376.95 L516.87,376.96 L517.17,377.04 L517.47,377.19 L517.77,377.42 L518.07,377.7 L518.37,378.02 L518.67,378.34 L518.97,378.64 L519.27,378.92 L519.57,379.17 L519.87,379.38 L520.17,379.56 L520.47,379.7 L520.77,379.81 L521.07,379.9 L521.37,379.95 L521.67,379.99 L521.98,380 L522.28,380 L522.58,379.99 L522.88,379.96 L523.18,379.92 L523.48,379.86 L523.78,379.78 L524.08,379.68 L524.38,379.53 L524.68,379.34 L524.98,379.09 L525.28,378.76 L525.58,378.35 L525.88,377.84 L526.18,377.26 L526.48,376.61 L526.78,375.92 L527.08,375.24 L527.38,374.59 L527.68,374.02 L527.98,373.55 L528.28,373.2 L528.58,372.95 L528.88,372.82 L529.18,372.81 L529.48,372.93 L529.78,373.19 L530.08,373.59 L530.38,374.1 L530.68,374.7 L530.99,375.31 L531.29,375.87 L531.59,376.33 L531.89,376.66 L532.19,376.85 L532.49,376.93 L532.79,376.9 L533.09,376.8 L533.39,376.65 L533.69,376.46 L533.99,376.25 L534.29,376.03 L534.59,375.81 L534.89,375.62 L535.19,375.45 L535.49,375.33 L535.79,375.26 L536.09,375.24 L536.39,375.27 L536.69,375.35 L536.99,375.46 L537.29,375.58 L537.59,375.71 L537.89,375.83 L538.19,375.94 L538.49,376.02 L538.79,376.08 L539.09,376.1 L539.39,376.08 L539.69,376.04 L540,375.95 L540.3,375.84 L540.6,375.69 L540.9,375.53 L541.2,375.34 L541.5,375.15 L541.8,374.97 L542.1,374.8 L542.4,374.66 L542.7,374.56 L543,374.52 L543.3,374.53 L543.6,374.59 L543.9,374.69 L544.2,374.83 L544.5,374.99 L544.8,375.15 L545.1,375.3 L545.4,375.45 L545.7,375.56 L546,375.64 L546.3,375.69 L546.6,375.68 L546.9,375.62 L547.2,375.51 L547.5,375.33 L547.8,375.09 L548.1,374.79 L548.4,374.43 L548.7,374 L549.01,373.54 L549.31,373.04 L549.61,372.52 L549.91,372.06 L550.21,371.65 L550.51,371.34 L550.81,371.15 L551.11,371.08 L551.41,371.13 L551.71,371.27 L552.01,371.45 L552.31,371.64 L552.61,371.81 L552.91,371.95 L553.21,372.04 L553.51,372.09 L553.81,372.09 L554.11,372.07 L554.41,372.02 L554.71,371.98 L555.01,371.94 L555.31,371.94 L555.61,371.98 L555.91,372.06 L556.21,372.2 L556.51,372.4 L556.81,372.64 L557.11,372.94 L557.41,373.27 L557.71,373.62 L558.02,373.98 L558.32,374.34 L558.62,374.68 L558.92,374.98 L559.22,375.25 L559.52,375.46 L559.82,375.62 L560.12,375.73 L560.42,375.77 L560.72,375.77 L561.02,375.7 L561.32,375.59 L561.62,375.43 L561.92,375.21 L562.22,374.95 L562.52,374.65 L562.82,374.3 L563.12,373.93 L563.42,373.57 L563.72,373.24 L564.02,372.98 L564.32,372.84 L564.62,372.83 L564.92,372.97 L565.22,373.26 L565.52,373.65 L565.82,374.1 L566.12,374.59 L566.42,375.06 L566.72,375.49 L567.03,375.87 L567.33,376.19 L567.63,376.45 L567.93,376.66 L568.23,376.83 L568.53,376.97 L568.83,377.09 L569.13,377.19 L569.43,377.26 L569.73,377.33 L570.03,377.38 L570.33,377.41 L570.63,377.44 L570.93,377.46 L571.23,377.46 L571.53,377.46 L571.83,377.44 L572.13,377.41 L572.43,377.36 L572.73,377.29 L573.03,377.2 L573.33,377.08 L573.63,376.94 L573.93,376.76 L574.23,376.55 L574.53,376.3 L574.83,376.02 L575.13,375.72 L575.43,375.4 L575.73,375.08 L576.04,374.79 L576.34,374.56 L576.64,374.41 L576.94,374.38 L577.24,374.46 L577.54,374.65 L577.84,374.91 L578.14,375.22 L578.44,375.54 L578.74,375.85 L579.04,376.15 L579.34,376.42 L579.64,376.65 L579.94,376.85 L580.24,377.02 L580.54,377.15 L580.84,377.26 L581.14,377.34 L581.44,377.4 L581.74,377.44 L582.04,377.46 L582.34,377.46 L582.64,377.45 L582.94,377.43 L583.24,377.38 L583.54,377.32 L583.84,377.24 L584.14,377.15 L584.44,377.03 L584.74,376.9 L585.05,376.75 L585.35,376.58 L585.65,376.39 L585.95,376.19 L586.25,375.97 L586.55,375.74 L586.85,375.49 L587.15,375.23 L587.45,374.96 L587.75,374.68 L588.05,374.39 L588.35,374.1 L588.65,373.82 L588.95,373.56 L589.25,373.34 L589.55,373.17 L589.85,373.07 L590.15,373.03 L590.45,373.07 L590.75,373.17 L591.05,373.33 L591.35,373.52 L591.65,373.72 L591.95,373.92 L592.25,374.1 L592.55,374.27 L592.85,374.41 L593.15,374.54 L593.45,374.67 L593.75,374.8 L594.06,374.95 L594.36,375.11 L594.66,375.3 L594.96,375.5 L595.26,375.72 L595.56,375.94 L595.86,376.17 L596.16,376.39 L596.46,376.59 L596.76,376.76 L597.06,376.92 L597.36,377.04 L597.66,377.14 L597.96,377.21 L598.26,377.26 L598.56,377.29 L598.86,377.3 L599.16,377.3 L599.46,377.28 L599.76,377.25 L600.06,377.21 L600.36,377.16 L600.66,377.1 L600.96,377.03 L601.26,376.93 L601.56,376.82 L601.86,376.68 L602.16,376.5 L602.46,376.29 L602.76,376.02 L603.07,375.69 L603.37,375.28 L603.67,374.79 L603.97,374.19 L604.27,373.49 L604.57,372.68 L604.87,371.76 L605.17,370.73 L605.47,369.61 L605.77,368.44 L606.07,367.27 L606.37,366.16 L606.67,365.22 L606.97,364.53 L607.27,364.19 L607.57,364.2 L607.87,364.55 L608.17,365.15 L608.47,365.9 L608.77,366.73 L609.07,367.55 L609.37,368.33 L609.67,369.04 L609.97,369.66 L610.27,370.2 L610.57,370.66 L610.87,371.04 L611.17,371.36 L611.47,371.63 L611.77,371.83 L612.08,371.98 L612.38,372.07 L612.68,372.1 L612.98,372.05 L613.28,371.94 L613.58,371.76 L613.88,371.51 L614.18,371.22 L614.48,370.91 L614.78,370.61 L615.08,370.38 L615.38,370.26 L615.68,370.29 L615.98,370.5 L616.28,370.86 L616.58,371.35 L616.88,371.92 L617.18,372.54 L617.48,373.16 L617.78,373.76 L618.08,374.32 L618.38,374.83 L618.68,375.29 L618.98,375.7 L619.28,376.05 L619.58,376.35 L619.88,376.6 L620.18,376.81 L620.48,376.98 L620.78,377.13 L621.09,377.25 L621.39,377.35 L621.69,377.43" stroke="#444" stroke-width="0.6" fill="none" stroke-linejoin="round" />
<path d="M434.83,395.56 L435.13,395.42 L435.43,395.3 L435.73,395.22 L436.03,395.19 L436.33,395.21 L436.63,395.26 L436.93,395.33 L437.23,395.41 L437.53,395.46 L437.83,395.49 L438.13,395.49 L438.43,395.46 L438.73,395.39 L439.03,395.3 L439.33,395.18 L439.63,395.03 L439.93,394.84 L440.23,394.63 L440.53,394.39 L440.84,394.13 L441.14,393.85 L441.44,393.57 L441.74,393.3 L442.04,393.04 L442.34,392.8 L442.64,392.57 L442.94,392.36 L443.24,392.15 L443.54,391.93 L443.84,391.71 L444.14,391.5 L444.44,391.32 L444.74,391.23 L445.04,391.27 L445.34,391.44 L445.64,391.74 L445.94,392.1 L446.24,392.48 L446.54,392.83 L446.84,393.13 L447.14,393.34 L447.44,393.48 L447.74,393.53 L448.04,393.5 L448.34,393.39 L448.64,393.2 L448.94,392.96 L449.24,392.66 L449.54,392.34 L449.85,392.03 L450.15,391.78 L450.45,391.66 L450.75,391.68 L451.05,391.81 L451.35,392.01 L451.65,392.21 L451.95,392.39 L452.25,392.51 L452.55,392.57 L452.85,392.55 L453.15,392.47 L453.45,392.31 L453.75,392.09 L454.05,391.81 L454.35,391.47 L454.65,391.09 L454.95,390.67 L455.25,390.23 L455.55,389.79 L455.85,389.39 L456.15,389.05 L456.45,388.81 L456.75,388.71 L457.05,388.73 L457.35,388.88 L457.65,389.11 L457.95,389.39 L458.25,389.68 L458.55,389.97 L458.86,390.22 L459.16,390.42 L459.46,390.59 L459.76,390.7 L460.06,390.76 L460.36,390.78 L460.66,390.77 L460.96,390.73 L461.26,390.67 L461.56,390.61 L461.86,390.56 L462.16,390.53 L462.46,390.53 L462.76,390.55 L463.06,390.61 L463.36,390.7 L463.66,390.82 L463.96,390.94 L464.26,391.08 L464.56,391.21 L464.86,391.34 L465.16,391.47 L465.46,391.58 L465.76,391.68 L466.06,391.77 L466.36,391.84 L466.66,391.9 L466.96,391.94 L467.26,391.96 L467.56,391.97 L467.87,391.96 L468.17,391.93 L468.47,391.89 L468.77,391.82 L469.07,391.73 L469.37,391.62 L469.67,391.48 L469.97,391.31 L470.27,391.1 L470.57,390.86 L470.87,390.57 L471.17,390.22 L471.47,389.79 L471.77,389.27 L472.07,388.66 L472.37,387.97 L472.67,387.23 L472.97,386.49 L473.27,385.81 L473.57,385.21 L473.87,384.7 L474.17,384.26 L474.47,383.87 L474.77,383.53 L475.07,383.27 L475.37,383.14 L475.67,383.18 L475.97,383.43 L476.27,383.86 L476.57,384.44 L476.88,385.1 L477.18,385.81 L477.48,386.5 L477.78,387.15 L478.08,387.74 L478.38,388.26 L478.68,388.69 L478.98,389.05 L479.28,389.32 L479.58,389.52 L479.88,389.66 L480.18,389.74 L480.48,389.76 L480.78,389.74 L481.08,389.68 L481.38,389.6 L481.68,389.49 L481.98,389.36 L482.28,389.22 L482.58,389.08 L482.88,388.94 L483.18,388.81 L483.48,388.71 L483.78,388.64 L484.08,388.61 L484.38,388.61 L484.68,388.66 L484.98,388.73 L485.28,388.83 L485.58,388.95 L485.89,389.08 L486.19,389.2 L486.49,389.33 L486.79,389.45 L487.09,389.56 L487.39,389.66 L487.69,389.74 L487.99,389.81 L488.29,389.86 L488.59,389.9 L488.89,389.91 L489.19,389.9 L489.49,389.84 L489.79,389.72 L490.09,389.51 L490.39,389.2 L490.69,388.79 L490.99,388.31 L491.29,387.83 L491.59,387.43 L491.89,387.13 L492.19,386.96 L492.49,386.86 L492.79,386.75 L493.09,386.56 L493.39,386.24 L493.69,385.77 L493.99,385.16 L494.29,384.45 L494.59,383.68 L494.9,382.89 L495.2,382.12 L495.5,381.45 L495.8,380.91 L496.1,380.56 L496.4,380.43 L496.7,380.52 L497,380.8 L497.3,381.23 L497.6,381.79 L497.9,382.42 L498.2,383.11 L498.5,383.82 L498.8,384.52 L499.1,385.17 L499.4,385.75 L499.7,386.24 L500,386.6 L500.3,386.85 L500.6,386.97 L500.9,386.98 L501.2,386.9 L501.5,386.77 L501.8,386.62 L502.1,386.48 L502.4,386.39 L502.7,386.36 L503,386.39 L503.3,386.47 L503.6,386.58 L503.91,386.7 L504.21,386.8 L504.51,386.87 L504.81,386.89 L505.11,386.86 L505.41,386.8 L505.71,386.7 L506.01,386.58 L506.31,386.45 L506.61,386.33 L506.91,386.2 L507.21,386.08 L507.51,385.97 L507.81,385.85 L508.11,385.72 L508.41,385.57 L508.71,385.41 L509.01,385.24 L509.31,385.06 L509.61,384.88 L509.91,384.75 L510.21,384.68 L510.51,384.7 L510.81,384.82 L511.11,385.03 L511.41,385.31 L511.71,385.62 L512.01,385.95 L512.31,386.26 L512.61,386.54 L512.92,386.79 L513.22,387.01 L513.52,387.19 L513.82,387.33 L514.12,387.44 L514.42,387.52 L514.72,387.57 L515.02,387.59 L515.32,387.6 L515.62,387.58 L515.92,387.55 L516.22,387.5 L516.52,387.42 L516.82,387.33 L517.12,387.2 L517.42,387.05 L517.72,386.86 L518.02,386.62 L518.32,386.34 L518.62,386.01 L518.92,385.63 L519.22,385.19 L519.52,384.7 L519.82,384.17 L520.12,383.59 L520.42,382.99 L520.72,382.37 L521.02,381.75 L521.32,381.16 L521.62,380.63 L521.93,380.19 L522.23,379.87 L522.53,379.66 L522.83,379.56 L523.13,379.54 L523.43,379.56 L523.73,379.59 L524.03,379.62 L524.33,379.63 L524.63,379.63 L524.93,379.64 L525.23,379.67 L525.53,379.72 L525.83,379.82 L526.13,379.95 L526.43,380.13 L526.73,380.34 L527.03,380.57 L527.33,380.81 L527.63,381.04 L527.93,381.26 L528.23,381.47 L528.53,381.66 L528.83,381.84 L529.13,382.01 L529.43,382.19 L529.73,382.38 L530.03,382.56 L530.33,382.74 L530.63,382.91 L530.94,383.06 L531.24,383.18 L531.54,383.27 L531.84,383.33 L532.14,383.35 L532.44,383.32 L532.74,383.26 L533.04,383.15 L533.34,383 L533.64,382.82 L533.94,382.6 L534.24,382.35 L534.54,382.09 L534.84,381.82 L535.14,381.56 L535.44,381.33 L535.74,381.14 L536.04,381.01 L536.34,380.95 L536.64,380.97 L536.94,381.06 L537.24,381.2 L537.54,381.39 L537.84,381.61 L538.14,381.84 L538.44,382.06 L538.74,382.27 L539.04,382.44 L539.34,382.57 L539.64,382.66 L539.95,382.68 L540.25,382.64 L540.55,382.53 L540.85,382.35 L541.15,382.1 L541.45,381.77 L541.75,381.37 L542.05,380.9 L542.35,380.39 L542.65,379.85 L542.95,379.32 L543.25,378.85 L543.55,378.48 L543.85,378.24 L544.15,378.18 L544.45,378.3 L544.75,378.6 L545.05,379.04 L545.35,379.58 L545.65,380.16 L545.95,380.76 L546.25,381.34 L546.55,381.88 L546.85,382.38 L547.15,382.83 L547.45,383.22 L547.75,383.55 L548.05,383.83 L548.35,384.07 L548.65,384.26 L548.96,384.41 L549.26,384.53 L549.56,384.62 L549.86,384.68 L550.16,384.73 L550.46,384.75 L550.76,384.75 L551.06,384.73 L551.36,384.68 L551.66,384.62 L551.96,384.52 L552.26,384.4 L552.56,384.25 L552.86,384.07 L553.16,383.85 L553.46,383.6 L553.76,383.31 L554.06,382.99 L554.36,382.64 L554.66,382.26 L554.96,381.86 L555.26,381.46 L555.56,381.06 L555.86,380.68 L556.16,380.33 L556.46,380.03 L556.76,379.8 L557.06,379.65 L557.36,379.6 L557.66,379.64 L557.97,379.79 L558.27,380.01 L558.57,380.31 L558.87,380.66 L559.17,381.05 L559.47,381.46 L559.77,381.87 L560.07,382.28 L560.37,382.67 L560.67,383.04 L560.97,383.38 L561.27,383.68 L561.57,383.96 L561.87,384.2 L562.17,384.4 L562.47,384.58 L562.77,384.72 L563.07,384.84 L563.37,384.94 L563.67,385.01 L563.97,385.06 L564.27,385.1 L564.57,385.12 L564.87,385.12 L565.17,385.11 L565.47,385.08 L565.77,385.04 L566.07,384.97 L566.37,384.89 L566.67,384.77 L566.98,384.63 L567.28,384.45 L567.58,384.24 L567.88,383.99 L568.18,383.72 L568.48,383.41 L568.78,383.09 L569.08,382.78 L569.38,382.49 L569.68,382.25 L569.98,382.11 L570.28,382.07 L570.58,382.15 L570.88,382.34 L571.18,382.61 L571.48,382.91 L571.78,383.23 L572.08,383.55 L572.38,383.85 L572.68,384.11 L572.98,384.35 L573.28,384.55 L573.58,384.72 L573.88,384.85 L574.18,384.96 L574.48,385.05 L574.78,385.11 L575.08,385.16 L575.38,385.19 L575.68,385.21 L575.99,385.22 L576.29,385.22 L576.59,385.21 L576.89,385.18 L577.19,385.15 L577.49,385.1 L577.79,385.04 L578.09,384.96 L578.39,384.87 L578.69,384.75 L578.99,384.61 L579.29,384.45 L579.59,384.26 L579.89,384.04 L580.19,383.79 L580.49,383.52 L580.79,383.22 L581.09,382.9 L581.39,382.56 L581.69,382.21 L581.99,381.86 L582.29,381.51 L582.59,381.19 L582.89,380.9 L583.19,380.67 L583.49,380.51 L583.79,380.42 L584.09,380.42 L584.39,380.49 L584.69,380.64 L585,380.85 L585.3,381.09 L585.6,381.37 L585.9,381.64 L586.2,381.91 L586.5,382.16 L586.8,382.37 L587.1,382.54 L587.4,382.66 L587.7,382.73 L588,382.75 L588.3,382.73 L588.6,382.68 L588.9,382.6 L589.2,382.52 L589.5,382.45 L589.8,382.41 L590.1,382.4 L590.4,382.44 L590.7,382.53 L591,382.67 L591.3,382.85 L591.6,383.07 L591.9,383.3 L592.2,383.53 L592.5,383.75 L592.8,383.95 L593.1,384.11 L593.4,384.24 L593.7,384.32 L594.01,384.36 L594.31,384.36 L594.61,384.32 L594.91,384.23 L595.21,384.1 L595.51,383.92 L595.81,383.68 L596.11,383.38 L596.41,382.99 L596.71,382.52 L597.01,381.94 L597.31,381.25 L597.61,380.43 L597.91,379.49 L598.21,378.41 L598.51,377.22 L598.81,375.94 L599.11,374.6 L599.41,373.28 L599.71,372.06 L600.01,371.05 L600.31,370.38 L600.61,370.13 L600.91,370.35 L601.21,370.99 L601.51,371.96 L601.81,373.15 L602.11,374.43 L602.41,375.73 L602.71,376.97 L603.02,378.1 L603.32,379.12 L603.62,379.99 L603.92,380.71 L604.22,381.3 L604.52,381.74 L604.82,382.05 L605.12,382.25 L605.42,382.33 L605.72,382.31 L606.02,382.2 L606.32,382 L606.62,381.73 L606.92,381.4 L607.22,381.03 L607.52,380.62 L607.82,380.22 L608.12,379.85 L608.42,379.56 L608.72,379.38 L609.02,379.35 L609.32,379.47 L609.62,379.74 L609.92,380.12 L610.22,380.59 L610.52,381.09 L610.82,381.61 L611.12,382.11 L611.42,382.58 L611.72,383.01 L612.03,383.39 L612.33,383.73 L612.63,384.03 L612.93,384.28 L613.23,384.5 L613.53,384.68 L613.83,384.83 L614.13,384.95 L614.43,385.05 L614.73,385.14 L615.03,385.21 L615.03,396.14 L434.83,396.14" stroke="none" stroke-width="0" fill="#f7f7f7" stroke-linejoin="round" />
<line x1="615.03" y1="385.21" x2="615.03" y2="396.14" stroke="#777" stroke-width="0.5" />
<path d="M434.83,395.56 L435.13,395.42 L435.43,395.3 L435.73,395.22 L436.03,395.19 L436.33,395.21 L436.63,395.26 L436.93,395.33 L437.23,395.41 L437.53,395.46 L437.83,395.49 L438.13,395.49 L438.43,395.46 L438.73,395.39 L439.03,395.3 L439.33,395.18 L439.63,395.03 L439.93,394.84 L440.23,394.63 L440.53,394.39 L440.84,394.13 L441.14,393.85 L441.44,393.57 L441.74,393.3 L442.04,393.04 L442.34,392.8 L442.64,392.57 L442.94,392.36 L443.24,392.15 L443.54,391.93 L443.84,391.71 L444.14,391.5 L444.44,391.32 L444.74,391.23 L445.04,391.27 L445.34,391.44 L445.64,391.74 L445.94,392.1 L446.24,392.48 L446.54,392.83 L446.84,393.13 L447.14,393.34 L447.44,393.48 L447.74,393.53 L448.04,393.5 L448.34,393.39 L448.64,393.2 L448.94,392.96 L449.24,392.66 L449.54,392.34 L449.85,392.03 L450.15,391.78 L450.45,391.66 L450.75,391.68 L451.05,391.81 L451.35,392.01 L451.65,392.21 L451.95,392.39 L452.25,392.51 L452.55,392.57 L452.85,392.55 L453.15,392.47 L453.45,392.31 L453.75,392.09 L454.05,391.81 L454.35,391.47 L454.65,391.09 L454.95,390.67 L455.25,390.23 L455.55,389.79 L455.85,389.39 L456.15,389.05 L456.45,388.81 L456.75,388.71 L457.05,388.73 L457.35,388.88 L457.65,389.11 L457.95,389.39 L458.25,389.68 L458.55,389.97 L458.86,390.22 L459.16,390.42 L459.46,390.59 L459.76,390.7 L460.06,390.76 L460.36,390.78 L460.66,390.77 L460.96,390.73 L461.26,390.67 L461.56,390.61 L461.86,390.56 L462.16,390.53 L462.46,390.53 L462.76,390.55 L463.06,390.61 L463.36,390.7 L463.66,390.82 L463.96,390.94 L464.26,391.08 L464.56,391.21 L464.86,391.34 L465.16,391.47 L465.46,391.58 L465.76,391.68 L466.06,391.77 L466.36,391.84 L466.66,391.9 L466.96,391.94 L467.26,391.96 L467.56,391.97 L467.87,391.96 L468.17,391.93 L468.47,391.89 L468.77,391.82 L469.07,391.73 L469.37,391.62 L469.67,391.48 L469.97,391.31 L470.27,391.1 L470.57,390.86 L470.87,390.57 L471.17,390.22 L471.47,389.79 L471.77,389.27 L472.07,388.66 L472.37,387.97 L472.67,387.23 L472.97,386.49 L473.27,385.81 L473.57,385.21 L473.87,384.7 L474.17,384.26 L474.47,383.87 L474.77,383.53 L475.07,383.27 L475.37,383.14 L475.67,383.18 L475.97,383.43 L476.27,383.86 L476.57,384.44 L476.88,385.1 L477.18,385.81 L477.48,386.5 L477.78,387.15 L478.08,387.74 L478.38,388.26 L478.68,388.69 L478.98,389.05 L479.28,389.32 L479.58,389.52 L479.88,389.66 L480.18,389.74 L480.48,389.76 L480.78,389.74 L481.08,389.68 L481.38,389.6 L481.68,389.49 L481.98,389.36 L482.28,389.22 L482.58,389.08 L482.88,388.94 L483.18,388.81 L483.48,388.71 L483.78,388.64 L484.08,388.61 L484.38,388.61 L484.68,388.66 L484.98,388.73 L485.28,388.83 L485.58,388.95 L485.89,389.08 L486.19,389.2 L486.49,389.33 L486.79,389.45 L487.09,389.56 L487.39,389.66 L487.69,389.74 L487.99,389.81 L488.29,389.86 L488.59,389.9 L488.89,389.91 L489.19,389.9 L489.49,389.84 L489.79,389.72 L490.09,389.51 L490.39,389.2 L490.69,388.79 L490.99,388.31 L491.29,387.83 L491.59,387.43 L491.89,387.13 L492.19,386.96 L492.49,386.86 L492.79,386.75 L493.09,386.56 L493.39,386.24 L493.69,385.77 L493.99,385.16 L494.29,384.45 L494.59,383.68 L494.9,382.89 L495.2,382.12 L495.5,381.45 L495.8,380.91 L496.1,380.56 L496.4,380.43 L496.7,380.52 L497,380.8 L497.3,381.23 L497.6,381.79 L497.9,382.42 L498.2,383.11 L498.5,383.82 L498.8,384.52 L499.1,385.17 L499.4,385.75 L499.7,386.24 L500,386.6 L500.3,386.85 L500.6,386.97 L500.9,386.98 L501.2,386.9 L501.5,386.77 L501.8,386.62 L502.1,386.48 L502.4,386.39 L502.7,386.36 L503,386.39 L503.3,386.47 L503.6,386.58 L503.91,386.7 L504.21,386.8 L504.51,386.87 L504.81,386.89 L505.11,386.86 L505.41,386.8 L505.71,386.7 L506.01,386.58 L506.31,386.45 L506.61,386.33 L506.91,386.2 L507.21,386.08 L507.51,385.97 L507.81,385.85 L508.11,385.72 L508.41,385.57 L508.71,385.41 L509.01,385.24 L509.31,385.06 L509.61,384.88 L509.91,384.75 L510.21,384.68 L510.51,384.7 L510.81,384.82 L511.11,385.03 L511.41,385.31 L511.71,385.62 L512.01,385.95 L512.31,386.26 L512.61,386.54 L512.92,386.79 L513.22,387.01 L513.52,387.19 L513.82,387.33 L514.12,387.44 L514.42,387.52 L514.72,387.57 L515.02,387.59 L515.32,387.6 L515.62,387.58 L515.92,387.55 L516.22,387.5 L516.52,387.42 L516.82,387.33 L517.12,387.2 L517.42,387.05 L517.72,386.86 L518.02,386.62 L518.32,386.34 L518.62,386.01 L518.92,385.63 L519.22,385.19 L519.52,384.7 L519.82,384.17 L520.12,383.59 L520.42,382.99 L520.72,382.37 L521.02,381.75 L521.32,381.16 L521.62,380.63 L521.93,380.19 L522.23,379.87 L522.53,379.66 L522.83,379.56 L523.13,379.54 L523.43,379.56 L523.73,379.59 L524.03,379.62 L524.33,379.63 L524.63,379.63 L524.93,379.64 L525.23,379.67 L525.53,379.72 L525.83,379.82 L526.13,379.95 L526.43,380.13 L526.73,380.34 L527.03,380.57 L527.33,380.81 L527.63,381.04 L527.93,381.26 L528.23,381.47 L528.53,381.66 L528.83,381.84 L529.13,382.01 L529.43,382.19 L529.73,382.38 L530.03,382.56 L530.33,382.74 L530.63,382.91 L530.94,383.06 L531.24,383.18 L531.54,383.27 L531.84,383.33 L532.14,383.35 L532.44,383.32 L532.74,383.26 L533.04,383.15 L533.34,383 L533.64,382.82 L533.94,382.6 L534.24,382.35 L534.54,382.09 L534.84,381.82 L535.14,381.56 L535.44,381.33 L535.74,381.14 L536.04,381.01 L536.34,380.95 L536.64,380.97 L536.94,381.06 L537.24,381.2 L537.54,381.39 L537.84,381.61 L538.14,381.84 L538.44,382.06 L538.74,382.27 L539.04,382.44 L539.34,382.57 L539.64,382.66 L539.95,382.68 L540.25,382.64 L540.55,382.53 L540.85,382.35 L541.15,382.1 L541.45,381.77 L541.75,381.37 L542.05,380.9 L542.35,380.39 L542.65,379.85 L542.95,379.32 L543.25,378.85 L543.55,378.48 L543.85,378.24 L544.15,378.18 L544.45,378.3 L544.75,378.6 L545.05,379.04 L545.35,379.58 L545.65,380.16 L545.95,380.76 L546.25,381.34 L546.55,381.88 L546.85,382.38 L547.15,382.83 L547.45,383.22 L547.75,383.55 L548.05,383.83 L548.35,384.07 L548.65,384.26 L548.96,384.41 L549.26,384.53 L549.56,384.62 L549.86,384.68 L550.16,384.73 L550.46,384.75 L550.76,384.75 L551.06,384.73 L551.36,384.68 L551.66,384.62 L551.96,384.52 L552.26,384.4 L552.56,384.25 L552.86,384.07 L553.16,383.85 L553.46,383.6 L553.76,383.31 L554.06,382.99 L554.36,382.64 L554.66,382.26 L554.96,381.86 L555.26,381.46 L555.56,381.06 L555.86,380.68 L556.16,380.33 L556.46,380.03 L556.76,379.8 L557.06,379.65 L557.36,379.6 L557.66,379.64 L557.97,379.79 L558.27,380.01 L558.57,380.31 L558.87,380.66 L559.17,381.05 L559.47,381.46 L559.77,381.87 L560.07,382.28 L560.37,382.67 L560.67,383.04 L560.97,383.38 L561.27,383.68 L561.57,383.96 L561.87,384.2 L562.17,384.4 L562.47,384.58 L562.77,384.72 L563.07,384.84 L563.37,384.94 L563.67,385.01 L563.97,385.06 L564.27,385.1 L564.57,385.12 L564.87,385.12 L565.17,385.11 L565.47,385.08 L565.77,385.04 L566.07,384.97 L566.37,384.89 L566.67,384.77 L566.98,384.63 L567.28,384.45 L567.58,384.24 L567.88,383.99 L568.18,383.72 L568.48,383.41 L568.78,383.09 L569.08,382.78 L569.38,382.49 L569.68,382.25 L569.98,382.11 L570.28,382.07 L570.58,382.15 L570.88,382.34 L571.18,382.61 L571.48,382.91 L571.78,383.23 L572.08,383.55 L572.38,383.85 L572.68,384.11 L572.98,384.35 L573.28,384.55 L573.58,384.72 L573.88,384.85 L574.18,384.96 L574.48,385.05 L574.78,385.11 L575.08,385.16 L575.38,385.19 L575.68,385.21 L575.99,385.22 L576.29,385.22 L576.59,385.21 L576.89,385.18 L577.19,385.15 L577.49,385.1 L577.79,385.04 L578.09,384.96 L578.39,384.87 L578.69,384.75 L578.99,384.61 L579.29,384.45 L579.59,384.26 L579.89,384.04 L580.19,383.79 L580.49,383.52 L580.79,383.22 L581.09,382.9 L581.39,382.56 L581.69,382.21 L581.99,381.86 L582.29,381.51 L582.59,381.19 L582.89,380.9 L583.19,380.67 L583.49,380.51 L583.79,380.42 L584.09,380.42 L584.39,380.49 L584.69,380.64 L585,380.85 L585.3,381.09 L585.6,381.37 L585.9,381.64 L586.2,381.91 L586.5,382.16 L586.8,382.37 L587.1,382.54 L587.4,382.66 L587.7,382.73 L588,382.75 L588.3,382.73 L588.6,382.68 L588.9,382.6 L589.2,382.52 L589.5,382.45 L589.8,382.41 L590.1,382.4 L590.4,382.44 L590.7,382.53 L591,382.67 L591.3,382.85 L591.6,383.07 L591.9,383.3 L592.2,383.53 L592.5,383.75 L592.8,383.95 L593.1,384.11 L593.4,384.24 L593.7,384.32 L594.01,384.36 L594.31,384.36 L594.61,384.32 L594.91,384.23 L595.21,384.1 L595.51,383.92 L595.81,383.68 L596.11,383.38 L596.41,382.99 L596.71,382.52 L597.01,381.94 L597.31,381.25 L597.61,380.43 L597.91,379.49 L598.21,378.41 L598.51,377.22 L598.81,375.94 L599.11,374.6 L599.41,373.28 L599.71,372.06 L600.01,371.05 L600.31,370.38 L600.61,370.13 L600.91,370.35 L601.21,370.99 L601.51,371.96 L601.81,373.15 L602.11,374.43 L602.41,375.73 L602.71,376.97 L603.02,378.1 L603.32,379.12 L603.62,379.99 L603.92,380.71 L604.22,381.3 L604.52,381.74 L604.82,382.05 L605.12,382.25 L605.42,382.33 L605.72,382.31 L606.02,382.2 L606.32,382 L606.62,381.73 L606.92,381.4 L607.22,381.03 L607.52,380.62 L607.82,380.22 L608.12,379.85 L608.42,379.56 L608.72,379.38 L609.02,379.35 L609.32,379.47 L609.62,379.74 L609.92,380.12 L610.22,380.59 L610.52,381.09 L610.82,381.61 L611.12,382.11 L611.42,382.58 L611.72,383.01 L612.03,383.39 L612.33,383.73 L612.63,384.03 L612.93,384.28 L613.23,384.5 L613.53,384.68 L613.83,384.83 L614.13,384.95 L614.43,385.05 L614.73,385.14 L615.03,385.21" stroke="#444" stroke-width="0.6" fill="none" stroke-linejoin="round" />
<path d="M428.17,401.83 L428.47,401.72 L428.77,401.65 L429.07,401.6 L429.37,401.57 L429.67,401.55 L429.97,401.52 L430.27,401.49 L430.57,401.45 L430.87,401.41 L431.17,401.38 L431.48,401.34 L431.78,401.32 L432.08,401.31 L432.38,401.31 L432.68,401.32 L432.98,401.33 L433.28,401.34 L433.58,401.34 L433.88,401.34 L434.18,401.31 L434.48,401.26 L434.78,401.17 L435.08,401.03 L435.38,400.83 L435.68,400.57 L435.98,400.22 L436.28,399.78 L436.58,399.25 L436.88,398.63 L437.18,397.95 L437.48,397.25 L437.78,396.58 L438.08,396.05 L438.38,395.74 L438.68,395.68 L438.98,395.86 L439.28,396.18 L439.58,396.56 L439.88,396.94 L440.18,397.27 L440.49,397.52 L440.79,397.68 L441.09,397.72 L441.39,397.65 L441.69,397.45 L441.99,397.12 L442.29,396.67 L442.59,396.11 L442.89,395.49 L443.19,394.87 L443.49,394.37 L443.79,394.07 L444.09,394.02 L444.39,394.18 L444.69,394.41 L444.99,394.61 L445.29,394.69 L445.59,394.59 L445.89,394.27 L446.19,393.71 L446.49,392.9 L446.79,391.81 L447.09,390.46 L447.39,388.84 L447.69,386.98 L447.99,384.9 L448.29,382.66 L448.59,380.33 L448.89,378.03 L449.19,375.93 L449.5,374.22 L449.8,373.09 L450.1,372.69 L450.4,373.05 L450.7,374.08 L451,375.62 L451.3,377.45 L451.6,379.39 L451.9,381.3 L452.2,383.08 L452.5,384.65 L452.8,385.99 L453.1,387.09 L453.4,387.94 L453.7,388.57 L454,388.99 L454.3,389.24 L454.6,389.34 L454.9,389.33 L455.2,389.24 L455.5,389.09 L455.8,388.93 L456.1,388.76 L456.4,388.61 L456.7,388.52 L457,388.49 L457.3,388.57 L457.6,388.75 L457.9,389.04 L458.2,389.42 L458.51,389.86 L458.81,390.32 L459.11,390.74 L459.41,391.09 L459.71,391.34 L460.01,391.47 L460.31,391.48 L460.61,391.35 L460.91,391.08 L461.21,390.65 L461.51,390.07 L461.81,389.31 L462.11,388.4 L462.41,387.36 L462.71,386.22 L463.01,385.03 L463.31,383.8 L463.61,382.52 L463.91,381.16 L464.21,379.66 L464.51,377.95 L464.81,375.97 L465.11,373.63 L465.41,370.85 L465.71,367.54 L466.01,363.65 L466.31,359.13 L466.61,353.98 L466.91,348.26 L467.21,342.08 L467.52,335.67 L467.82,329.33 L468.12,323.5 L468.42,318.71 L468.72,315.53 L469.02,314.38 L469.32,315.43 L469.62,318.53 L469.92,323.22 L470.22,328.98 L470.52,335.26 L470.82,341.63 L471.12,347.81 L471.42,353.57 L471.72,358.8 L472.02,363.43 L472.32,367.44 L472.62,370.85 L472.92,373.7 L473.22,376.03 L473.52,377.9 L473.82,379.37 L474.12,380.51 L474.42,381.37 L474.72,381.99 L475.02,382.43 L475.32,382.72 L475.62,382.91 L475.92,383.03 L476.22,383.12 L476.53,383.21 L476.83,383.34 L477.13,383.53 L477.43,383.8 L477.73,384.17 L478.03,384.63 L478.33,385.18 L478.63,385.79 L478.93,386.44 L479.23,387.11 L479.53,387.78 L479.83,388.43 L480.13,389.05 L480.43,389.64 L480.73,390.17 L481.03,390.65 L481.33,391.07 L481.63,391.43 L481.93,391.73 L482.23,391.96 L482.53,392.13 L482.83,392.24 L483.13,392.28 L483.43,392.24 L483.73,392.13 L484.03,391.93 L484.33,391.62 L484.63,391.19 L484.93,390.61 L485.23,389.86 L485.54,388.92 L485.84,387.74 L486.14,386.32 L486.44,384.62 L486.74,382.63 L487.04,380.37 L487.34,377.86 L487.64,375.14 L487.94,372.31 L488.24,369.5 L488.54,366.91 L488.84,364.79 L489.14,363.39 L489.44,362.9 L489.74,363.41 L490.04,364.84 L490.34,366.99 L490.64,369.61 L490.94,372.44 L491.24,375.3 L491.54,378.05 L491.84,380.6 L492.14,382.9 L492.44,384.92 L492.74,386.66 L493.04,388.14 L493.34,389.36 L493.64,390.37 L493.94,391.19 L494.24,391.84 L494.55,392.36 L494.85,392.77 L495.15,393.1 L495.45,393.35 L495.75,393.55 L496.05,393.71 L496.35,393.82 L496.65,393.9 L496.95,393.95 L497.25,393.97 L497.55,393.96 L497.85,393.91 L498.15,393.83 L498.45,393.71 L498.75,393.55 L499.05,393.33 L499.35,393.05 L499.65,392.7 L499.95,392.26 L500.25,391.73 L500.55,391.1 L500.85,390.35 L501.15,389.5 L501.45,388.53 L501.75,387.46 L502.05,386.32 L502.35,385.13 L502.65,383.95 L502.95,382.86 L503.25,381.97 L503.56,381.37 L503.86,381.17 L504.16,381.38 L504.46,381.98 L504.76,382.87 L505.06,383.94 L505.36,385.09 L505.66,386.22 L505.96,387.26 L506.26,388.18 L506.56,388.93 L506.86,389.49 L507.16,389.9 L507.46,390.18 L507.76,390.4 L508.06,390.63 L508.36,390.88 L508.66,391.17 L508.96,391.44 L509.26,391.65 L509.56,391.76 L509.86,391.74 L510.16,391.6 L510.46,391.32 L510.76,390.92 L511.06,390.37 L511.36,389.67 L511.66,388.79 L511.96,387.7 L512.26,386.4 L512.57,384.84 L512.87,383.03 L513.17,380.95 L513.47,378.62 L513.77,376.1 L514.07,373.43 L514.37,370.73 L514.67,368.17 L514.97,365.95 L515.27,364.28 L515.57,363.35 L515.87,363.28 L516.17,364 L516.47,365.39 L516.77,367.22 L517.07,369.29 L517.37,371.44 L517.67,373.54 L517.97,375.52 L518.27,377.32 L518.57,378.92 L518.87,380.31 L519.17,381.47 L519.47,382.41 L519.77,383.13 L520.07,383.64 L520.37,383.95 L520.67,384.1 L520.97,384.1 L521.27,384.01 L521.58,383.87 L521.88,383.73 L522.18,383.64 L522.48,383.63 L522.78,383.73 L523.08,383.95 L523.38,384.26 L523.68,384.66 L523.98,385.1 L524.28,385.56 L524.58,386 L524.88,386.4 L525.18,386.74 L525.48,386.99 L525.78,387.16 L526.08,387.23 L526.38,387.21 L526.68,387.1 L526.98,386.91 L527.28,386.65 L527.58,386.32 L527.88,385.96 L528.18,385.56 L528.48,385.15 L528.78,384.76 L529.08,384.39 L529.38,384.08 L529.68,383.83 L529.98,383.64 L530.28,383.5 L530.59,383.39 L530.89,383.28 L531.19,383.14 L531.49,382.93 L531.79,382.6 L532.09,382.11 L532.39,381.41 L532.69,380.44 L532.99,379.17 L533.29,377.51 L533.59,375.43 L533.89,372.87 L534.19,369.78 L534.49,366.14 L534.79,361.94 L535.09,357.2 L535.39,351.99 L535.69,346.41 L535.99,340.67 L536.29,335.03 L536.59,329.9 L536.89,325.71 L537.19,322.93 L537.49,321.9 L537.79,322.78 L538.09,325.44 L538.39,329.53 L538.69,334.6 L538.99,340.22 L539.29,346 L539.6,351.66 L539.9,357.03 L540.2,361.98 L540.5,366.43 L540.8,370.36 L541.1,373.77 L541.4,376.68 L541.7,379.13 L542,381.16 L542.3,382.82 L542.6,384.18 L542.9,385.28 L543.2,386.16 L543.5,386.87 L543.8,387.44 L544.1,387.89 L544.4,388.24 L544.7,388.51 L545,388.71 L545.3,388.85 L545.6,388.93 L545.9,388.97 L546.2,388.95 L546.5,388.89 L546.8,388.79 L547.1,388.65 L547.4,388.48 L547.7,388.27 L548,388.05 L548.3,387.81 L548.61,387.56 L548.91,387.31 L549.21,387.08 L549.51,386.88 L549.81,386.73 L550.11,386.63 L550.41,386.62 L550.71,386.69 L551.01,386.84 L551.31,387.08 L551.61,387.39 L551.91,387.75 L552.21,388.14 L552.51,388.55 L552.81,388.96 L553.11,389.36 L553.41,389.74 L553.71,390.1 L554.01,390.42 L554.31,390.72 L554.61,390.98 L554.91,391.21 L555.21,391.41 L555.51,391.58 L555.81,391.72 L556.11,391.83 L556.41,391.92 L556.71,391.99 L557.01,392.03 L557.31,392.05 L557.62,392.05 L557.92,392.03 L558.22,391.97 L558.52,391.88 L558.82,391.73 L559.12,391.53 L559.42,391.25 L559.72,390.86 L560.02,390.35 L560.32,389.7 L560.62,388.89 L560.92,387.92 L561.22,386.81 L561.52,385.59 L561.82,384.32 L562.12,383.08 L562.42,381.94 L562.72,381.02 L563.02,380.41 L563.32,380.19 L563.62,380.4 L563.92,381.03 L564.22,381.99 L564.52,383.15 L564.82,384.4 L565.12,385.63 L565.42,386.78 L565.72,387.82 L566.02,388.73 L566.32,389.51 L566.63,390.16 L566.93,390.7 L567.23,391.14 L567.53,391.49 L567.83,391.77 L568.13,391.99 L568.43,392.17 L568.73,392.3 L569.03,392.4 L569.33,392.47 L569.63,392.52 L569.93,392.55 L570.23,392.57 L570.53,392.57 L570.83,392.55 L571.13,392.52 L571.43,392.47 L571.73,392.4 L572.03,392.32 L572.33,392.21 L572.63,392.08 L572.93,391.92 L573.23,391.74 L573.53,391.54 L573.83,391.31 L574.13,391.06 L574.43,390.78 L574.73,390.49 L575.03,390.19 L575.33,389.89 L575.64,389.59 L575.94,389.32 L576.24,389.08 L576.54,388.89 L576.84,388.77 L577.14,388.73 L577.44,388.77 L577.74,388.89 L578.04,389.07 L578.34,389.31 L578.64,389.59 L578.94,389.88 L579.24,390.19 L579.54,390.49 L579.84,390.77 L580.14,391.05 L580.44,391.3 L580.74,391.52 L581.04,391.73 L581.34,391.91 L581.64,392.06 L581.94,392.19 L582.24,392.3 L582.54,392.38 L582.84,392.45 L583.14,392.49 L583.44,392.52 L583.74,392.53 L584.04,392.51 L584.34,392.48 L584.65,392.43 L584.95,392.35 L585.25,392.26 L585.55,392.13 L585.85,391.99 L586.15,391.82 L586.45,391.62 L586.75,391.41 L587.05,391.18 L587.35,390.93 L587.65,390.66 L587.95,390.37 L588.25,390.07 L588.55,389.73 L588.85,389.34 L589.15,388.89 L589.45,388.35 L589.75,387.69 L590.05,386.87 L590.35,385.88 L590.65,384.66 L590.95,383.22 L591.25,381.52 L591.55,379.57 L591.85,377.39 L592.15,375.03 L592.45,372.56 L592.75,370.11 L593.05,367.84 L593.35,365.96 L593.66,364.69 L593.96,364.21 L594.26,364.56 L594.56,365.67 L594.86,367.37 L595.16,369.44 L595.46,371.67 L595.76,373.91 L596.06,376.09 L596.36,378.14 L596.66,380.05 L596.96,381.82 L597.26,383.42 L597.56,384.84 L597.86,386.05 L598.16,387.05 L598.46,387.82 L598.76,388.37 L599.06,388.71 L599.36,388.88 L599.66,388.9 L599.96,388.79 L600.26,388.59 L600.56,388.31 L600.86,387.99 L601.16,387.66 L601.46,387.35 L601.76,387.1 L602.06,386.97 L602.36,386.98 L602.67,387.14 L602.97,387.44 L603.27,387.85 L603.57,388.34 L603.87,388.87 L604.17,389.41 L604.47,389.93 L604.77,390.42 L605.07,390.87 L605.37,391.27 L605.67,391.63 L605.97,391.94 L606.27,392.21 L606.57,392.43 L606.87,392.63 L607.17,392.79 L607.47,392.92 L607.77,393.03 L608.07,393.13 L608.37,393.21 L608.37,403.86 L428.17,403.86" stroke="none" stroke-width="0" fill="#f7f7f7" stroke-linejoin="round" />
<line x1="608.37" y1="393.21" x2="608.37" y2="403.86" stroke="#777" stroke-width="0.5" />
<path d="M428.17,401.83 L428.47,401.72 L428.77,401.65 L429.07,401.6 L429.37,401.57 L429.67,401.55 L429.97,401.52 L430.27,401.49 L430.57,401.45 L430.87,401.41 L431.17,401.38 L431.48,401.34 L431.78,401.32 L432.08,401.31 L432.38,401.31 L432.68,401.32 L432.98,401.33 L433.28,401.34 L433.58,401.34 L433.88,401.34 L434.18,401.31 L434.48,401.26 L434.78,401.17 L435.08,401.03 L435.38,400.83 L435.68,400.57 L435.98,400.22 L436.28,399.78 L436.58,399.25 L436.88,398.63 L437.18,397.95 L437.48,397.25 L437.78,396.58 L438.08,396.05 L438.38,395.74 L438.68,395.68 L438.98,395.86 L439.28,396.18 L439.58,396.56 L439.88,396.94 L440.18,397.27 L440.49,397.52 L440.79,397.68 L441.09,397.72 L441.39,397.65 L441.69,397.45 L441.99,397.12 L442.29,396.67 L442.59,396.11 L442.89,395.49 L443.19,394.87 L443.49,394.37 L443.79,394.07 L444.09,394.02 L444.39,394.18 L444.69,394.41 L444.99,394.61 L445.29,394.69 L445.59,394.59 L445.89,394.27 L446.19,393.71 L446.49,392.9 L446.79,391.81 L447.09,390.46 L447.39,388.84 L447.69,386.98 L447.99,384.9 L448.29,382.66 L448.59,380.33 L448.89,378.03 L449.19,375.93 L449.5,374.22 L449.8,373.09 L450.1,372.69 L450.4,373.05 L450.7,374.08 L451,375.62 L451.3,377.45 L451.6,379.39 L451.9,381.3 L452.2,383.08 L452.5,384.65 L452.8,385.99 L453.1,387.09 L453.4,387.94 L453.7,388.57 L454,388.99 L454.3,389.24 L454.6,389.34 L454.9,389.33 L455.2,389.24 L455.5,389.09 L455.8,388.93 L456.1,388.76 L456.4,388.61 L456.7,388.52 L457,388.49 L457.3,388.57 L457.6,388.75 L457.9,389.04 L458.2,389.42 L458.51,389.86 L458.81,390.32 L459.11,390.74 L459.41,391.09 L459.71,391.34 L460.01,391.47 L460.31,391.48 L460.61,391.35 L460.91,391.08 L461.21,390.65 L461.51,390.07 L461.81,389.31 L462.11,388.4 L462.41,387.36 L462.71,386.22 L463.01,385.03 L463.31,383.8 L463.61,382.52 L463.91,381.16 L464.21,379.66 L464.51,377.95 L464.81,375.97 L465.11,373.63 L465.41,370.85 L465.71,367.54 L466.01,363.65 L466.31,359.13 L466.61,353.98 L466.91,348.26 L467.21,342.08 L467.52,335.67 L467.82,329.33 L468.12,323.5 L468.42,318.71 L468.72,315.53 L469.02,314.38 L469.32,315.43 L469.62,318.53 L469.92,323.22 L470.22,328.98 L470.52,335.26 L470.82,341.63 L471.12,347.81 L471.42,353.57 L471.72,358.8 L472.02,363.43 L472.32,367.44 L472.62,370.85 L472.92,373.7 L473.22,376.03 L473.52,377.9 L473.82,379.37 L474.12,380.51 L474.42,381.37 L474.72,381.99 L475.02,382.43 L475.32,382.72 L475.62,382.91 L475.92,383.03 L476.22,383.12 L476.53,383.21 L476.83,383.34 L477.13,383.53 L477.43,383.8 L477.73,384.17 L478.03,384.63 L478.33,385.18 L478.63,385.79 L478.93,386.44 L479.23,387.11 L479.53,387.78 L479.83,388.43 L480.13,389.05 L480.43,389.64 L480.73,390.17 L481.03,390.65 L481.33,391.07 L481.63,391.43 L481.93,391.73 L482.23,391.96 L482.53,392.13 L482.83,392.24 L483.13,392.28 L483.43,392.24 L483.73,392.13 L484.03,391.93 L484.33,391.62 L484.63,391.19 L484.93,390.61 L485.23,389.86 L485.54,388.92 L485.84,387.74 L486.14,386.32 L486.44,384.62 L486.74,382.63 L487.04,380.37 L487.34,377.86 L487.64,375.14 L487.94,372.31 L488.24,369.5 L488.54,366.91 L488.84,364.79 L489.14,363.39 L489.44,362.9 L489.74,363.41 L490.04,364.84 L490.34,366.99 L490.64,369.61 L490.94,372.44 L491.24,375.3 L491.54,378.05 L491.84,380.6 L492.14,382.9 L492.44,384.92 L492.74,386.66 L493.04,388.14 L493.34,389.36 L493.64,390.37 L493.94,391.19 L494.24,391.84 L494.55,392.36 L494.85,392.77 L495.15,393.1 L495.45,393.35 L495.75,393.55 L496.05,393.71 L496.35,393.82 L496.65,393.9 L496.95,393.95 L497.25,393.97 L497.55,393.96 L497.85,393.91 L498.15,393.83 L498.45,393.71 L498.75,393.55 L499.05,393.33 L499.35,393.05 L499.65,392.7 L499.95,392.26 L500.25,391.73 L500.55,391.1 L500.85,390.35 L501.15,389.5 L501.45,388.53 L501.75,387.46 L502.05,386.32 L502.35,385.13 L502.65,383.95 L502.95,382.86 L503.25,381.97 L503.56,381.37 L503.86,381.17 L504.16,381.38 L504.46,381.98 L504.76,382.87 L505.06,383.94 L505.36,385.09 L505.66,386.22 L505.96,387.26 L506.26,388.18 L506.56,388.93 L506.86,389.49 L507.16,389.9 L507.46,390.18 L507.76,390.4 L508.06,390.63 L508.36,390.88 L508.66,391.17 L508.96,391.44 L509.26,391.65 L509.56,391.76 L509.86,391.74 L510.16,391.6 L510.46,391.32 L510.76,390.92 L511.06,390.37 L511.36,389.67 L511.66,388.79 L511.96,387.7 L512.26,386.4 L512.57,384.84 L512.87,383.03 L513.17,380.95 L513.47,378.62 L513.77,376.1 L514.07,373.43 L514.37,370.73 L514.67,368.17 L514.97,365.95 L515.27,364.28 L515.57,363.35 L515.87,363.28 L516.17,364 L516.47,365.39 L516.77,367.22 L517.07,369.29 L517.37,371.44 L517.67,373.54 L517.97,375.52 L518.27,377.32 L518.57,378.92 L518.87,380.31 L519.17,381.47 L519.47,382.41 L519.77,383.13 L520.07,383.64 L520.37,383.95 L520.67,384.1 L520.97,384.1 L521.27,384.01 L521.58,383.87 L521.88,383.73 L522.18,383.64 L522.48,383.63 L522.78,383.73 L523.08,383.95 L523.38,384.26 L523.68,384.66 L523.98,385.1 L524.28,385.56 L524.58,386 L524.88,386.4 L525.18,386.74 L525.48,386.99 L525.78,387.16 L526.08,387.23 L526.38,387.21 L526.68,387.1 L526.98,386.91 L527.28,386.65 L527.58,386.32 L527.88,385.96 L528.18,385.56 L528.48,385.15 L528.78,384.76 L529.08,384.39 L529.38,384.08 L529.68,383.83 L529.98,383.64 L530.28,383.5 L530.59,383.39 L530.89,383.28 L531.19,383.14 L531.49,382.93 L531.79,382.6 L532.09,382.11 L532.39,381.41 L532.69,380.44 L532.99,379.17 L533.29,377.51 L533.59,375.43 L533.89,372.87 L534.19,369.78 L534.49,366.14 L534.79,361.94 L535.09,357.2 L535.39,351.99 L535.69,346.41 L535.99,340.67 L536.29,335.03 L536.59,329.9 L536.89,325.71 L537.19,322.93 L537.49,321.9 L537.79,322.78 L538.09,325.44 L538.39,329.53 L538.69,334.6 L538.99,340.22 L539.29,346 L539.6,351.66 L539.9,357.03 L540.2,361.98 L540.5,366.43 L540.8,370.36 L541.1,373.77 L541.4,376.68 L541.7,379.13 L542,381.16 L542.3,382.82 L542.6,384.18 L542.9,385.28 L543.2,386.16 L543.5,386.87 L543.8,387.44 L544.1,387.89 L544.4,388.24 L544.7,388.51 L545,388.71 L545.3,388.85 L545.6,388.93 L545.9,388.97 L546.2,388.95 L546.5,388.89 L546.8,388.79 L547.1,388.65 L547.4,388.48 L547.7,388.27 L548,388.05 L548.3,387.81 L548.61,387.56 L548.91,387.31 L549.21,387.08 L549.51,386.88 L549.81,386.73 L550.11,386.63 L550.41,386.62 L550.71,386.69 L551.01,386.84 L551.31,387.08 L551.61,387.39 L551.91,387.75 L552.21,388.14 L552.51,388.55 L552.81,388.96 L553.11,389.36 L553.41,389.74 L553.71,390.1 L554.01,390.42 L554.31,390.72 L554.61,390.98 L554.91,391.21 L555.21,391.41 L555.51,391.58 L555.81,391.72 L556.11,391.83 L556.41,391.92 L556.71,391.99 L557.01,392.03 L557.31,392.05 L557.62,392.05 L557.92,392.03 L558.22,391.97 L558.52,391.88 L558.82,391.73 L559.12,391.53 L559.42,391.25 L559.72,390.86 L560.02,390.35 L560.32,389.7 L560.62,388.89 L560.92,387.92 L561.22,386.81 L561.52,385.59 L561.82,384.32 L562.12,383.08 L562.42,381.94 L562.72,381.02 L563.02,380.41 L563.32,380.19 L563.62,380.4 L563.92,381.03 L564.22,381.99 L564.52,383.15 L564.82,384.4 L565.12,385.63 L565.42,386.78 L565.72,387.82 L566.02,388.73 L566.32,389.51 L566.63,390.16 L566.93,390.7 L567.23,391.14 L567.53,391.49 L567.83,391.77 L568.13,391.99 L568.43,392.17 L568.73,392.3 L569.03,392.4 L569.33,392.47 L569.63,392.52 L569.93,392.55 L570.23,392.57 L570.53,392.57 L570.83,392.55 L571.13,392.52 L571.43,392.47 L571.73,392.4 L572.03,392.32 L572.33,392.21 L572.63,392.08 L572.93,391.92 L573.23,391.74 L573.53,391.54 L573.83,391.31 L574.13,391.06 L574.43,390.78 L574.73,390.49 L575.03,390.19 L575.33,389.89 L575.64,389.59 L575.94,389.32 L576.24,389.08 L576.54,388.89 L576.84,388.77 L577.14,388.73 L577.44,388.77 L577.74,388.89 L578.04,389.07 L578.34,389.31 L578.64,389.59 L578.94,389.88 L579.24,390.19 L579.54,390.49 L579.84,390.77 L580.14,391.05 L580.44,391.3 L580.74,391.52 L581.04,391.73 L581.34,391.91 L581.64,392.06 L581.94,392.19 L582.24,392.3 L582.54,392.38 L582.84,392.45 L583.14,392.49 L583.44,392.52 L583.74,392.53 L584.04,392.51 L584.34,392.48 L584.65,392.43 L584.95,392.35 L585.25,392.26 L585.55,392.13 L585.85,391.99 L586.15,391.82 L586.45,391.62 L586.75,391.41 L587.05,391.18 L587.35,390.93 L587.65,390.66 L587.95,390.37 L588.25,390.07 L588.55,389.73 L588.85,389.34 L589.15,388.89 L589.45,388.35 L589.75,387.69 L590.05,386.87 L590.35,385.88 L590.65,384.66 L590.95,383.22 L591.25,381.52 L591.55,379.57 L591.85,377.39 L592.15,375.03 L592.45,372.56 L592.75,370.11 L593.05,367.84 L593.35,365.96 L593.66,364.69 L593.96,364.21 L594.26,364.56 L594.56,365.67 L594.86,367.37 L595.16,369.44 L595.46,371.67 L595.76,373.91 L596.06,376.09 L596.36,378.14 L596.66,380.05 L596.96,381.82 L597.26,383.42 L597.56,384.84 L597.86,386.05 L598.16,387.05 L598.46,387.82 L598.76,388.37 L599.06,388.71 L599.36,388.88 L599.66,388.9 L599.96,388.79 L600.26,388.59 L600.56,388.31 L600.86,387.99 L601.16,387.66 L601.46,387.35 L601.76,387.1 L602.06,386.97 L602.36,386.98 L602.67,387.14 L602.97,387.44 L603.27,387.85 L603.57,388.34 L603.87,388.87 L604.17,389.41 L604.47,389.93 L604.77,390.42 L605.07,390.87 L605.37,391.27 L605.67,391.63 L605.97,391.94 L606.27,392.21 L606.57,392.43 L606.87,392.63 L607.17,392.79 L607.47,392.92 L607.77,393.03 L608.07,393.13 L608.37,393.21" stroke="#444" stroke-width="0.6" fill="none" stroke-linejoin="round" />
<path d="M421.51,409 L421.81,408.95 L422.11,408.9 L422.42,408.84 L422.72,408.78 L423.02,408.72 L423.32,408.66 L423.62,408.6 L423.92,408.53 L424.22,408.46 L424.52,408.39 L424.82,408.31 L425.12,408.24 L425.42,408.15 L425.72,408.07 L426.02,407.97 L426.32,407.87 L426.62,407.77 L426.92,407.65 L427.22,407.52 L427.52,407.37 L427.82,407.2 L428.12,406.99 L428.42,406.74 L428.72,406.44 L429.02,406.06 L429.32,405.6 L429.62,405.05 L429.92,404.4 L430.22,403.67 L430.52,402.87 L430.82,402.05 L431.12,401.3 L431.43,400.71 L431.73,400.39 L432.03,400.39 L432.33,400.66 L432.63,401.09 L432.93,401.56 L433.23,402 L433.53,402.35 L433.83,402.57 L434.13,402.64 L434.43,402.54 L434.73,402.26 L435.03,401.81 L435.33,401.19 L435.63,400.4 L435.93,399.48 L436.23,398.48 L436.53,397.48 L436.83,396.63 L437.13,396.04 L437.43,395.76 L437.73,395.74 L438.03,395.81 L438.33,395.83 L438.63,395.68 L438.93,395.3 L439.23,394.64 L439.53,393.65 L439.83,392.32 L440.13,390.64 L440.44,388.61 L440.74,386.23 L441.04,383.53 L441.34,380.56 L441.64,377.39 L441.94,374.13 L442.24,370.94 L442.54,368.05 L442.84,365.72 L443.14,364.22 L443.44,363.73 L443.74,364.31 L444.04,365.83 L444.34,368.07 L444.64,370.75 L444.94,373.62 L445.24,376.48 L445.54,379.19 L445.84,381.66 L446.14,383.83 L446.44,385.69 L446.74,387.24 L447.04,388.5 L447.34,389.48 L447.64,390.25 L447.94,390.83 L448.24,391.28 L448.54,391.65 L448.84,391.99 L449.14,392.31 L449.45,392.65 L449.75,393.01 L450.05,393.39 L450.35,393.77 L450.65,394.15 L450.95,394.5 L451.25,394.81 L451.55,395.06 L451.85,395.26 L452.15,395.4 L452.45,395.48 L452.75,395.49 L453.05,395.44 L453.35,395.34 L453.65,395.18 L453.95,394.99 L454.25,394.75 L454.55,394.47 L454.85,394.16 L455.15,393.8 L455.45,393.39 L455.75,392.91 L456.05,392.35 L456.35,391.69 L456.65,390.89 L456.95,389.93 L457.25,388.74 L457.55,387.3 L457.85,385.53 L458.15,383.38 L458.46,380.79 L458.76,377.68 L459.06,374.01 L459.36,369.74 L459.66,364.85 L459.96,359.36 L460.26,353.33 L460.56,346.88 L460.86,340.23 L461.16,333.68 L461.46,327.66 L461.76,322.73 L462.06,319.43 L462.36,318.22 L462.66,319.26 L462.96,322.4 L463.26,327.18 L463.56,333.05 L463.86,339.47 L464.16,346.01 L464.46,352.35 L464.76,358.27 L465.06,363.66 L465.36,368.45 L465.66,372.6 L465.96,376.15 L466.26,379.12 L466.56,381.56 L466.86,383.55 L467.16,385.13 L467.47,386.38 L467.77,387.34 L468.07,388.07 L468.37,388.62 L468.67,389.02 L468.97,389.3 L469.27,389.51 L469.57,389.66 L469.87,389.8 L470.17,389.95 L470.47,390.13 L470.77,390.37 L471.07,390.67 L471.37,391.03 L471.67,391.44 L471.97,391.88 L472.27,392.34 L472.57,392.79 L472.87,393.22 L473.17,393.62 L473.47,393.98 L473.77,394.28 L474.07,394.53 L474.37,394.72 L474.67,394.85 L474.97,394.91 L475.27,394.9 L475.57,394.82 L475.87,394.67 L476.17,394.44 L476.48,394.12 L476.78,393.71 L477.08,393.18 L477.38,392.52 L477.68,391.71 L477.98,390.71 L478.28,389.49 L478.58,388 L478.88,386.22 L479.18,384.08 L479.48,381.57 L479.78,378.65 L480.08,375.31 L480.38,371.56 L480.68,367.45 L480.98,363.06 L481.28,358.52 L481.58,354.07 L481.88,349.99 L482.18,346.65 L482.48,344.44 L482.78,343.67 L483.08,344.45 L483.38,346.67 L483.68,350 L483.98,354.07 L484.28,358.5 L484.58,362.99 L484.88,367.33 L485.18,371.38 L485.49,375.06 L485.79,378.33 L486.09,381.21 L486.39,383.72 L486.69,385.87 L486.99,387.72 L487.29,389.3 L487.59,390.63 L487.89,391.73 L488.19,392.63 L488.49,393.34 L488.79,393.86 L489.09,394.2 L489.39,394.38 L489.69,394.42 L489.99,394.33 L490.29,394.14 L490.59,393.89 L490.89,393.61 L491.19,393.34 L491.49,393.1 L491.79,392.94 L492.09,392.85 L492.39,392.86 L492.69,392.94 L492.99,393.06 L493.29,393.19 L493.59,393.27 L493.89,393.25 L494.19,393.08 L494.5,392.7 L494.8,392.11 L495.1,391.28 L495.4,390.25 L495.7,389.06 L496,387.79 L496.3,386.54 L496.6,385.45 L496.9,384.67 L497.2,384.32 L497.5,384.45 L497.8,385.02 L498.1,385.94 L498.4,387.08 L498.7,388.31 L499,389.53 L499.3,390.68 L499.6,391.71 L499.9,392.59 L500.2,393.32 L500.5,393.91 L500.8,394.38 L501.1,394.74 L501.4,395.02 L501.7,395.22 L502,395.34 L502.3,395.38 L502.6,395.31 L502.9,395.14 L503.2,394.84 L503.51,394.41 L503.81,393.84 L504.11,393.11 L504.41,392.21 L504.71,391.12 L505.01,389.81 L505.31,388.25 L505.61,386.42 L505.91,384.31 L506.21,381.91 L506.51,379.22 L506.81,376.27 L507.11,373.12 L507.41,369.86 L507.71,366.64 L508.01,363.64 L508.31,361.12 L508.61,359.36 L508.91,358.58 L509.21,358.89 L509.51,360.23 L509.81,362.42 L510.11,365.17 L510.41,368.22 L510.71,371.33 L511.01,374.36 L511.31,377.17 L511.61,379.7 L511.91,381.92 L512.21,383.81 L512.52,385.37 L512.82,386.63 L513.12,387.62 L513.42,388.36 L513.72,388.9 L514.02,389.28 L514.32,389.53 L514.62,389.7 L514.92,389.82 L515.22,389.94 L515.52,390.07 L515.82,390.25 L516.12,390.49 L516.42,390.78 L516.72,391.11 L517.02,391.47 L517.32,391.84 L517.62,392.19 L517.92,392.5 L518.22,392.77 L518.52,392.98 L518.82,393.12 L519.12,393.19 L519.42,393.18 L519.72,393.1 L520.02,392.93 L520.32,392.7 L520.62,392.4 L520.92,392.04 L521.22,391.64 L521.53,391.21 L521.83,390.78 L522.13,390.37 L522.43,390.01 L522.73,389.7 L523.03,389.48 L523.33,389.34 L523.63,389.27 L523.93,389.24 L524.23,389.22 L524.53,389.18 L524.83,389.06 L525.13,388.83 L525.43,388.43 L525.73,387.82 L526.03,386.94 L526.33,385.73 L526.63,384.13 L526.93,382.09 L527.23,379.57 L527.53,376.5 L527.83,372.87 L528.13,368.68 L528.43,363.94 L528.73,358.73 L529.03,353.16 L529.33,347.42 L529.63,341.81 L529.93,336.73 L530.23,332.6 L530.54,329.91 L530.84,329 L531.14,330.02 L531.44,332.81 L531.74,337.02 L532.04,342.17 L532.34,347.77 L532.64,353.44 L532.94,358.91 L533.24,363.99 L533.54,368.62 L533.84,372.79 L534.14,376.54 L534.44,379.9 L534.74,382.9 L535.04,385.56 L535.34,387.85 L535.64,389.79 L535.94,391.38 L536.24,392.65 L536.54,393.65 L536.84,394.44 L537.14,395.06 L537.44,395.54 L537.74,395.93 L538.04,396.23 L538.34,396.47 L538.64,396.64 L538.94,396.76 L539.24,396.83 L539.55,396.86 L539.85,396.83 L540.15,396.76 L540.45,396.65 L540.75,396.49 L541.05,396.3 L541.35,396.07 L541.65,395.81 L541.95,395.52 L542.25,395.23 L542.55,394.94 L542.85,394.67 L543.15,394.44 L543.45,394.28 L543.75,394.19 L544.05,394.2 L544.35,394.3 L544.65,394.5 L544.95,394.78 L545.25,395.12 L545.55,395.51 L545.85,395.91 L546.15,396.32 L546.45,396.71 L546.75,397.08 L547.05,397.41 L547.35,397.69 L547.65,397.92 L547.95,398.1 L548.25,398.23 L548.56,398.31 L548.86,398.36 L549.16,398.38 L549.46,398.4 L549.76,398.43 L550.06,398.47 L550.36,398.54 L550.66,398.62 L550.96,398.71 L551.26,398.79 L551.56,398.85 L551.86,398.86 L552.16,398.81 L552.46,398.68 L552.76,398.46 L553.06,398.13 L553.36,397.68 L553.66,397.09 L553.96,396.36 L554.26,395.47 L554.56,394.42 L554.86,393.22 L555.16,391.89 L555.46,390.47 L555.76,389.01 L556.06,387.62 L556.36,386.43 L556.66,385.57 L556.96,385.16 L557.26,385.23 L557.57,385.76 L557.87,386.64 L558.17,387.76 L558.47,389.02 L558.77,390.34 L559.07,391.65 L559.37,392.91 L559.67,394.08 L559.97,395.13 L560.27,396.04 L560.57,396.81 L560.87,397.42 L561.17,397.89 L561.47,398.22 L561.77,398.44 L562.07,398.56 L562.37,398.62 L562.67,398.63 L562.97,398.63 L563.27,398.62 L563.57,398.61 L563.87,398.62 L564.17,398.62 L564.47,398.62 L564.77,398.6 L565.07,398.57 L565.37,398.53 L565.67,398.5 L565.97,398.49 L566.27,398.5 L566.58,398.5 L566.88,398.48 L567.18,398.42 L567.48,398.29 L567.78,398.1 L568.08,397.86 L568.38,397.58 L568.68,397.28 L568.98,396.98 L569.28,396.69 L569.58,396.43 L569.88,396.22 L570.18,396.08 L570.48,396.02 L570.78,396.03 L571.08,396.12 L571.38,396.28 L571.68,396.49 L571.98,396.73 L572.28,397 L572.58,397.27 L572.88,397.53 L573.18,397.78 L573.48,398.01 L573.78,398.21 L574.08,398.39 L574.38,398.54 L574.68,398.67 L574.98,398.76 L575.28,398.83 L575.59,398.86 L575.89,398.87 L576.19,398.84 L576.49,398.77 L576.79,398.67 L577.09,398.52 L577.39,398.33 L577.69,398.09 L577.99,397.8 L578.29,397.47 L578.59,397.11 L578.89,396.74 L579.19,396.36 L579.49,395.99 L579.79,395.66 L580.09,395.35 L580.39,395.07 L580.69,394.82 L580.99,394.56 L581.29,394.27 L581.59,393.92 L581.89,393.47 L582.19,392.89 L582.49,392.15 L582.79,391.21 L583.09,390.04 L583.39,388.6 L583.69,386.85 L583.99,384.79 L584.29,382.37 L584.6,379.6 L584.9,376.48 L585.2,373.04 L585.5,369.37 L585.8,365.56 L586.1,361.8 L586.4,358.32 L586.7,355.41 L587,353.4 L587.3,352.52 L587.6,352.88 L587.9,354.39 L588.2,356.84 L588.5,359.94 L588.8,363.42 L589.1,367.04 L589.4,370.64 L589.7,374.08 L590,377.27 L590.3,380.13 L590.6,382.61 L590.9,384.71 L591.2,386.42 L591.5,387.78 L591.8,388.84 L592.1,389.63 L592.4,390.23 L592.7,390.66 L593,390.98 L593.3,391.21 L593.61,391.37 L593.91,391.48 L594.21,391.55 L594.51,391.6 L594.81,391.65 L595.11,391.74 L595.41,391.91 L595.71,392.19 L596.01,392.58 L596.31,393.08 L596.61,393.67 L596.91,394.31 L597.21,394.97 L597.51,395.62 L597.81,396.25 L598.11,396.83 L598.41,397.37 L598.71,397.85 L599.01,398.28 L599.31,398.66 L599.61,398.99 L599.91,399.27 L600.21,399.52 L600.51,399.74 L600.81,399.92 L601.11,400.08 L601.41,400.22 L601.71,400.34 L601.71,411.57 L421.51,411.57" stroke="none" stroke-width="0" fill="#f7f7f7" stroke-linejoin="round" />
<line x1="601.71" y1="400.34" x2="601.71" y2="411.57" stroke="#777" stroke-width="0.5" />
<path d="M421.51,409 L421.81,408.95 L422.11,408.9 L422.42,408.84 L422.72,408.78 L423.02,408.72 L423.32,408.66 L423.62,408.6 L423.92,408.53 L424.22,408.46 L424.52,408.39 L424.82,408.31 L425.12,408.24 L425.42,408.15 L425.72,408.07 L426.02,407.97 L426.32,407.87 L426.62,407.77 L426.92,407.65 L427.22,407.52 L427.52,407.37 L427.82,407.2 L428.12,406.99 L428.42,406.74 L428.72,406.44 L429.02,406.06 L429.32,405.6 L429.62,405.05 L429.92,404.4 L430.22,403.67 L430.52,402.87 L430.82,402.05 L431.12,401.3 L431.43,400.71 L431.73,400.39 L432.03,400.39 L432.33,400.66 L432.63,401.09 L432.93,401.56 L433.23,402 L433.53,402.35 L433.83,402.57 L434.13,402.64 L434.43,402.54 L434.73,402.26 L435.03,401.81 L435.33,401.19 L435.63,400.4 L435.93,399.48 L436.23,398.48 L436.53,397.48 L436.83,396.63 L437.13,396.04 L437.43,395.76 L437.73,395.74 L438.03,395.81 L438.33,395.83 L438.63,395.68 L438.93,395.3 L439.23,394.64 L439.53,393.65 L439.83,392.32 L440.13,390.64 L440.44,388.61 L440.74,386.23 L441.04,383.53 L441.34,380.56 L441.64,377.39 L441.94,374.13 L442.24,370.94 L442.54,368.05 L442.84,365.72 L443.14,364.22 L443.44,363.73 L443.74,364.31 L444.04,365.83 L444.34,368.07 L444.64,370.75 L444.94,373.62 L445.24,376.48 L445.54,379.19 L445.84,381.66 L446.14,383.83 L446.44,385.69 L446.74,387.24 L447.04,388.5 L447.34,389.48 L447.64,390.25 L447.94,390.83 L448.24,391.28 L448.54,391.65 L448.84,391.99 L449.14,392.31 L449.45,392.65 L449.75,393.01 L450.05,393.39 L450.35,393.77 L450.65,394.15 L450.95,394.5 L451.25,394.81 L451.55,395.06 L451.85,395.26 L452.15,395.4 L452.45,395.48 L452.75,395.49 L453.05,395.44 L453.35,395.34 L453.65,395.18 L453.95,394.99 L454.25,394.75 L454.55,394.47 L454.85,394.16 L455.15,393.8 L455.45,393.39 L455.75,392.91 L456.05,392.35 L456.35,391.69 L456.65,390.89 L456.95,389.93 L457.25,388.74 L457.55,387.3 L457.85,385.53 L458.15,383.38 L458.46,380.79 L458.76,377.68 L459.06,374.01 L459.36,369.74 L459.66,364.85 L459.96,359.36 L460.26,353.33 L460.56,346.88 L460.86,340.23 L461.16,333.68 L461.46,327.66 L461.76,322.73 L462.06,319.43 L462.36,318.22 L462.66,319.26 L462.96,322.4 L463.26,327.18 L463.56,333.05 L463.86,339.47 L464.16,346.01 L464.46,352.35 L464.76,358.27 L465.06,363.66 L465.36,368.45 L465.66,372.6 L465.96,376.15 L466.26,379.12 L466.56,381.56 L466.86,383.55 L467.16,385.13 L467.47,386.38 L467.77,387.34 L468.07,388.07 L468.37,388.62 L468.67,389.02 L468.97,389.3 L469.27,389.51 L469.57,389.66 L469.87,389.8 L470.17,389.95 L470.47,390.13 L470.77,390.37 L471.07,390.67 L471.37,391.03 L471.67,391.44 L471.97,391.88 L472.27,392.34 L472.57,392.79 L472.87,393.22 L473.17,393.62 L473.47,393.98 L473.77,394.28 L474.07,394.53 L474.37,394.72 L474.67,394.85 L474.97,394.91 L475.27,394.9 L475.57,394.82 L475.87,394.67 L476.17,394.44 L476.48,394.12 L476.78,393.71 L477.08,393.18 L477.38,392.52 L477.68,391.71 L477.98,390.71 L478.28,389.49 L478.58,388 L478.88,386.22 L479.18,384.08 L479.48,381.57 L479.78,378.65 L480.08,375.31 L480.38,371.56 L480.68,367.45 L480.98,363.06 L481.28,358.52 L481.58,354.07 L481.88,349.99 L482.18,346.65 L482.48,344.44 L482.78,343.67 L483.08,344.45 L483.38,346.67 L483.68,350 L483.98,354.07 L484.28,358.5 L484.58,362.99 L484.88,367.33 L485.18,371.38 L485.49,375.06 L485.79,378.33 L486.09,381.21 L486.39,383.72 L486.69,385.87 L486.99,387.72 L487.29,389.3 L487.59,390.63 L487.89,391.73 L488.19,392.63 L488.49,393.34 L488.79,393.86 L489.09,394.2 L489.39,394.38 L489.69,394.42 L489.99,394.33 L490.29,394.14 L490.59,393.89 L490.89,393.61 L491.19,393.34 L491.49,393.1 L491.79,392.94 L492.09,392.85 L492.39,392.86 L492.69,392.94 L492.99,393.06 L493.29,393.19 L493.59,393.27 L493.89,393.25 L494.19,393.08 L494.5,392.7 L494.8,392.11 L495.1,391.28 L495.4,390.25 L495.7,389.06 L496,387.79 L496.3,386.54 L496.6,385.45 L496.9,384.67 L497.2,384.32 L497.5,384.45 L497.8,385.02 L498.1,385.94 L498.4,387.08 L498.7,388.31 L499,389.53 L499.3,390.68 L499.6,391.71 L499.9,392.59 L500.2,393.32 L500.5,393.91 L500.8,394.38 L501.1,394.74 L501.4,395.02 L501.7,395.22 L502,395.34 L502.3,395.38 L502.6,395.31 L502.9,395.14 L503.2,394.84 L503.51,394.41 L503.81,393.84 L504.11,393.11 L504.41,392.21 L504.71,391.12 L505.01,389.81 L505.31,388.25 L505.61,386.42 L505.91,384.31 L506.21,381.91 L506.51,379.22 L506.81,376.27 L507.11,373.12 L507.41,369.86 L507.71,366.64 L508.01,363.64 L508.31,361.12 L508.61,359.36 L508.91,358.58 L509.21,358.89 L509.51,360.23 L509.81,362.42 L510.11,365.17 L510.41,368.22 L510.71,371.33 L511.01,374.36 L511.31,377.17 L511.61,379.7 L511.91,381.92 L512.21,383.81 L512.52,385.37 L512.82,386.63 L513.12,387.62 L513.42,388.36 L513.72,388.9 L514.02,389.28 L514.32,389.53 L514.62,389.7 L514.92,389.82 L515.22,389.94 L515.52,390.07 L515.82,390.25 L516.12,390.49 L516.42,390.78 L516.72,391.11 L517.02,391.47 L517.32,391.84 L517.62,392.19 L517.92,392.5 L518.22,392.77 L518.52,392.98 L518.82,393.12 L519.12,393.19 L519.42,393.18 L519.72,393.1 L520.02,392.93 L520.32,392.7 L520.62,392.4 L520.92,392.04 L521.22,391.64 L521.53,391.21 L521.83,390.78 L522.13,390.37 L522.43,390.01 L522.73,389.7 L523.03,389.48 L523.33,389.34 L523.63,389.27 L523.93,389.24 L524.23,389.22 L524.53,389.18 L524.83,389.06 L525.13,388.83 L525.43,388.43 L525.73,387.82 L526.03,386.94 L526.33,385.73 L526.63,384.13 L526.93,382.09 L527.23,379.57 L527.53,376.5 L527.83,372.87 L528.13,368.68 L528.43,363.94 L528.73,358.73 L529.03,353.16 L529.33,347.42 L529.63,341.81 L529.93,336.73 L530.23,332.6 L530.54,329.91 L530.84,329 L531.14,330.02 L531.44,332.81 L531.74,337.02 L532.04,342.17 L532.34,347.77 L532.64,353.44 L532.94,358.91 L533.24,363.99 L533.54,368.62 L533.84,372.79 L534.14,376.54 L534.44,379.9 L534.74,382.9 L535.04,385.56 L535.34,387.85 L535.64,389.79 L535.94,391.38 L536.24,392.65 L536.54,393.65 L536.84,394.44 L537.14,395.06 L537.44,395.54 L537.74,395.93 L538.04,396.23 L538.34,396.47 L538.64,396.64 L538.94,396.76 L539.24,396.83 L539.55,396.86 L539.85,396.83 L540.15,396.76 L540.45,396.65 L540.75,396.49 L541.05,396.3 L541.35,396.07 L541.65,395.81 L541.95,395.52 L542.25,395.23 L542.55,394.94 L542.85,394.67 L543.15,394.44 L543.45,394.28 L543.75,394.19 L544.05,394.2 L544.35,394.3 L544.65,394.5 L544.95,394.78 L545.25,395.12 L545.55,395.51 L545.85,395.91 L546.15,396.32 L546.45,396.71 L546.75,397.08 L547.05,397.41 L547.35,397.69 L547.65,397.92 L547.95,398.1 L548.25,398.23 L548.56,398.31 L548.86,398.36 L549.16,398.38 L549.46,398.4 L549.76,398.43 L550.06,398.47 L550.36,398.54 L550.66,398.62 L550.96,398.71 L551.26,398.79 L551.56,398.85 L551.86,398.86 L552.16,398.81 L552.46,398.68 L552.76,398.46 L553.06,398.13 L553.36,397.68 L553.66,397.09 L553.96,396.36 L554.26,395.47 L554.56,394.42 L554.86,393.22 L555.16,391.89 L555.46,390.47 L555.76,389.01 L556.06,387.62 L556.36,386.43 L556.66,385.57 L556.96,385.16 L557.26,385.23 L557.57,385.76 L557.87,386.64 L558.17,387.76 L558.47,389.02 L558.77,390.34 L559.07,391.65 L559.37,392.91 L559.67,394.08 L559.97,395.13 L560.27,396.04 L560.57,396.81 L560.87,397.42 L561.17,397.89 L561.47,398.22 L561.77,398.44 L562.07,398.56 L562.37,398.62 L562.67,398.63 L562.97,398.63 L563.27,398.62 L563.57,398.61 L563.87,398.62 L564.17,398.62 L564.47,398.62 L564.77,398.6 L565.07,398.57 L565.37,398.53 L565.67,398.5 L565.97,398.49 L566.27,398.5 L566.58,398.5 L566.88,398.48 L567.18,398.42 L567.48,398.29 L567.78,398.1 L568.08,397.86 L568.38,397.58 L568.68,397.28 L568.98,396.98 L569.28,396.69 L569.58,396.43 L569.88,396.22 L570.18,396.08 L570.48,396.02 L570.78,396.03 L571.08,396.12 L571.38,396.28 L571.68,396.49 L571.98,396.73 L572.28,397 L572.58,397.27 L572.88,397.53 L573.18,397.78 L573.48,398.01 L573.78,398.21 L574.08,398.39 L574.38,398.54 L574.68,398.67 L574.98,398.76 L575.28,398.83 L575.59,398.86 L575.89,398.87 L576.19,398.84 L576.49,398.77 L576.79,398.67 L577.09,398.52 L577.39,398.33 L577.69,398.09 L577.99,397.8 L578.29,397.47 L578.59,397.11 L578.89,396.74 L579.19,396.36 L579.49,395.99 L579.79,395.66 L580.09,395.35 L580.39,395.07 L580.69,394.82 L580.99,394.56 L581.29,394.27 L581.59,393.92 L581.89,393.47 L582.19,392.89 L582.49,392.15 L582.79,391.21 L583.09,390.04 L583.39,388.6 L583.69,386.85 L583.99,384.79 L584.29,382.37 L584.6,379.6 L584.9,376.48 L585.2,373.04 L585.5,369.37 L585.8,365.56 L586.1,361.8 L586.4,358.32 L586.7,355.41 L587,353.4 L587.3,352.52 L587.6,352.88 L587.9,354.39 L588.2,356.84 L588.5,359.94 L588.8,363.42 L589.1,367.04 L589.4,370.64 L589.7,374.08 L590,377.27 L590.3,380.13 L590.6,382.61 L590.9,384.71 L591.2,386.42 L591.5,387.78 L591.8,388.84 L592.1,389.63 L592.4,390.23 L592.7,390.66 L593,390.98 L593.3,391.21 L593.61,391.37 L593.91,391.48 L594.21,391.55 L594.51,391.6 L594.81,391.65 L595.11,391.74 L595.41,391.91 L595.71,392.19 L596.01,392.58 L596.31,393.08 L596.61,393.67 L596.91,394.31 L597.21,394.97 L597.51,395.62 L597.81,396.25 L598.11,396.83 L598.41,397.37 L598.71,397.85 L599.01,398.28 L599.31,398.66 L599.61,398.99 L599.91,399.27 L600.21,399.52 L600.51,399.74 L600.81,399.92 L601.11,400.08 L601.41,400.22 L601.71,400.34" stroke="#444" stroke-width="0.6" fill="none" stroke-linejoin="round" />
<path d="M414.86,413.99 L415.16,413.79 L415.46,413.53 L415.76,413.2 L416.06,412.79 L416.36,412.33 L416.66,411.86 L416.96,411.43 L417.26,411.09 L417.56,410.88 L417.86,410.83 L418.16,410.93 L418.46,411.14 L418.76,411.4 L419.06,411.67 L419.36,411.87 L419.66,411.98 L419.96,411.99 L420.26,411.89 L420.56,411.72 L420.86,411.5 L421.16,411.25 L421.46,410.97 L421.76,410.65 L422.07,410.28 L422.37,409.81 L422.67,409.22 L422.97,408.5 L423.27,407.63 L423.57,406.63 L423.87,405.54 L424.17,404.41 L424.47,403.36 L424.77,402.49 L425.07,401.93 L425.37,401.73 L425.67,401.85 L425.97,402.2 L426.27,402.67 L426.57,403.16 L426.87,403.62 L427.17,404.01 L427.47,404.3 L427.77,404.46 L428.07,404.47 L428.37,404.32 L428.67,404 L428.97,403.51 L429.27,402.87 L429.57,402.14 L429.87,401.38 L430.17,400.74 L430.47,400.33 L430.77,400.2 L431.08,400.29 L431.38,400.45 L431.68,400.54 L431.98,400.43 L432.28,400.06 L432.58,399.38 L432.88,398.36 L433.18,396.97 L433.48,395.21 L433.78,393.08 L434.08,390.58 L434.38,387.74 L434.68,384.6 L434.98,381.24 L435.28,377.77 L435.58,374.36 L435.88,371.23 L436.18,368.65 L436.48,366.91 L436.78,366.21 L437.08,366.62 L437.38,368.03 L437.68,370.24 L437.98,372.98 L438.28,376.02 L438.58,379.16 L438.88,382.25 L439.18,385.17 L439.48,387.85 L439.78,390.23 L440.09,392.27 L440.39,393.98 L440.69,395.36 L440.99,396.46 L441.29,397.31 L441.59,397.97 L441.89,398.5 L442.19,398.92 L442.49,399.29 L442.79,399.62 L443.09,399.94 L443.39,400.23 L443.69,400.51 L443.99,400.75 L444.29,400.94 L444.59,401.08 L444.89,401.13 L445.19,401.08 L445.49,400.92 L445.79,400.64 L446.09,400.25 L446.39,399.77 L446.69,399.23 L446.99,398.68 L447.29,398.16 L447.59,397.7 L447.89,397.32 L448.19,396.98 L448.49,396.67 L448.79,396.33 L449.1,395.89 L449.4,395.3 L449.7,394.51 L450,393.48 L450.3,392.15 L450.6,390.5 L450.9,388.47 L451.2,386 L451.5,383.03 L451.8,379.48 L452.1,375.27 L452.4,370.33 L452.7,364.62 L453,358.11 L453.3,350.83 L453.6,342.85 L453.9,334.33 L454.2,325.55 L454.5,316.93 L454.8,309.02 L455.1,302.55 L455.4,298.25 L455.7,296.72 L456,298.17 L456.3,302.38 L456.6,308.77 L456.9,316.58 L457.2,325.11 L457.5,333.79 L457.8,342.19 L458.11,350.04 L458.41,357.19 L458.71,363.53 L459.01,369.06 L459.31,373.77 L459.61,377.72 L459.91,380.97 L460.21,383.57 L460.51,385.61 L460.81,387.17 L461.11,388.31 L461.41,389.14 L461.71,389.75 L462.01,390.21 L462.31,390.63 L462.61,391.05 L462.91,391.52 L463.21,392.07 L463.51,392.67 L463.81,393.33 L464.11,394.03 L464.41,394.73 L464.71,395.44 L465.01,396.13 L465.31,396.8 L465.61,397.44 L465.91,398.05 L466.21,398.61 L466.51,399.12 L466.81,399.58 L467.12,399.98 L467.42,400.3 L467.72,400.55 L468.02,400.72 L468.32,400.79 L468.62,400.77 L468.92,400.64 L469.22,400.41 L469.52,400.06 L469.82,399.61 L470.12,399.05 L470.42,398.38 L470.72,397.62 L471.02,396.74 L471.32,395.77 L471.62,394.67 L471.92,393.42 L472.22,391.99 L472.52,390.34 L472.82,388.41 L473.12,386.18 L473.42,383.58 L473.72,380.62 L474.02,377.31 L474.32,373.69 L474.62,369.88 L474.92,366.07 L475.22,362.52 L475.52,359.57 L475.82,357.57 L476.13,356.82 L476.43,357.43 L476.73,359.33 L477.03,362.27 L477.33,365.92 L477.63,369.94 L477.93,374.07 L478.23,378.1 L478.53,381.89 L478.83,385.35 L479.13,388.44 L479.43,391.13 L479.73,393.43 L480.03,395.38 L480.33,397.01 L480.63,398.36 L480.93,399.48 L481.23,400.41 L481.53,401.18 L481.83,401.82 L482.13,402.36 L482.43,402.82 L482.73,403.2 L483.03,403.53 L483.33,403.81 L483.63,404.04 L483.93,404.23 L484.23,404.39 L484.53,404.5 L484.83,404.57 L485.14,404.59 L485.44,404.55 L485.74,404.45 L486.04,404.28 L486.34,404.02 L486.64,403.65 L486.94,403.16 L487.24,402.54 L487.54,401.76 L487.84,400.82 L488.14,399.71 L488.44,398.45 L488.74,397.05 L489.04,395.56 L489.34,394.06 L489.64,392.65 L489.94,391.46 L490.24,390.65 L490.54,390.34 L490.84,390.57 L491.14,391.3 L491.44,392.41 L491.74,393.75 L492.04,395.16 L492.34,396.56 L492.64,397.87 L492.94,399.03 L493.24,400.04 L493.54,400.87 L493.84,401.53 L494.15,402.02 L494.45,402.36 L494.75,402.56 L495.05,402.63 L495.35,402.58 L495.65,402.43 L495.95,402.18 L496.25,401.82 L496.55,401.37 L496.85,400.79 L497.15,400.1 L497.45,399.26 L497.75,398.27 L498.05,397.08 L498.35,395.69 L498.65,394.07 L498.95,392.18 L499.25,390.02 L499.55,387.58 L499.85,384.86 L500.15,381.89 L500.45,378.72 L500.75,375.44 L501.05,372.18 L501.35,369.15 L501.65,366.6 L501.95,364.79 L502.25,363.96 L502.55,364.21 L502.85,365.5 L503.16,367.62 L503.46,370.3 L503.76,373.28 L504.06,376.32 L504.36,379.27 L504.66,382.04 L504.96,384.55 L505.26,386.78 L505.56,388.72 L505.86,390.37 L506.16,391.76 L506.46,392.9 L506.76,393.83 L507.06,394.56 L507.36,395.13 L507.66,395.58 L507.96,395.92 L508.26,396.21 L508.56,396.46 L508.86,396.72 L509.16,396.99 L509.46,397.3 L509.76,397.65 L510.06,398.02 L510.36,398.41 L510.66,398.8 L510.96,399.16 L511.26,399.48 L511.56,399.75 L511.86,399.95 L512.17,400.09 L512.47,400.15 L512.77,400.12 L513.07,400.02 L513.37,399.82 L513.67,399.53 L513.97,399.15 L514.27,398.67 L514.57,398.1 L514.87,397.44 L515.17,396.71 L515.47,395.95 L515.77,395.2 L516.07,394.5 L516.37,393.92 L516.67,393.49 L516.97,393.24 L517.27,393.16 L517.57,393.21 L517.87,393.31 L518.17,393.39 L518.47,393.34 L518.77,393.08 L519.07,392.52 L519.37,391.57 L519.67,390.17 L519.97,388.24 L520.27,385.74 L520.57,382.61 L520.87,378.8 L521.18,374.29 L521.48,369.09 L521.78,363.21 L522.08,356.75 L522.38,349.86 L522.68,342.77 L522.98,335.83 L523.28,329.54 L523.58,324.43 L523.88,321.09 L524.18,319.96 L524.48,321.22 L524.78,324.68 L525.08,329.92 L525.38,336.36 L525.68,343.43 L525.98,350.67 L526.28,357.73 L526.58,364.38 L526.88,370.46 L527.18,375.91 L527.48,380.7 L527.78,384.83 L528.08,388.34 L528.38,391.29 L528.68,393.73 L528.98,395.73 L529.28,397.35 L529.58,398.67 L529.88,399.72 L530.19,400.55 L530.49,401.21 L530.79,401.71 L531.09,402.09 L531.39,402.36 L531.69,402.54 L531.99,402.65 L532.29,402.71 L532.59,402.74 L532.89,402.74 L533.19,402.74 L533.49,402.72 L533.79,402.7 L534.09,402.67 L534.39,402.61 L534.69,402.53 L534.99,402.42 L535.29,402.28 L535.59,402.11 L535.89,401.93 L536.19,401.74 L536.49,401.57 L536.79,401.45 L537.09,401.4 L537.39,401.43 L537.69,401.55 L537.99,401.77 L538.29,402.06 L538.59,402.41 L538.89,402.8 L539.2,403.21 L539.5,403.63 L539.8,404.04 L540.1,404.44 L540.4,404.81 L540.7,405.15 L541,405.46 L541.3,405.73 L541.6,405.97 L541.9,406.17 L542.2,406.34 L542.5,406.48 L542.8,406.59 L543.1,406.66 L543.4,406.71 L543.7,406.72 L544,406.71 L544.3,406.66 L544.6,406.57 L544.9,406.44 L545.2,406.25 L545.5,406 L545.8,405.66 L546.1,405.23 L546.4,404.67 L546.7,403.98 L547,403.12 L547.3,402.09 L547.6,400.87 L547.9,399.46 L548.21,397.87 L548.51,396.14 L548.81,394.32 L549.11,392.51 L549.41,390.85 L549.71,389.51 L550.01,388.67 L550.31,388.47 L550.61,388.93 L550.91,389.98 L551.21,391.46 L551.51,393.19 L551.81,395 L552.11,396.77 L552.41,398.43 L552.71,399.93 L553.01,401.24 L553.31,402.36 L553.61,403.3 L553.91,404.06 L554.21,404.67 L554.51,405.16 L554.81,405.54 L555.11,405.83 L555.41,406.05 L555.71,406.23 L556.01,406.37 L556.31,406.47 L556.61,406.56 L556.91,406.62 L557.22,406.67 L557.52,406.69 L557.82,406.7 L558.12,406.69 L558.42,406.66 L558.72,406.6 L559.02,406.52 L559.32,406.4 L559.62,406.25 L559.92,406.06 L560.22,405.84 L560.52,405.58 L560.82,405.28 L561.12,404.94 L561.42,404.57 L561.72,404.16 L562.02,403.71 L562.32,403.24 L562.62,402.78 L562.92,402.36 L563.22,402.02 L563.52,401.81 L563.82,401.76 L564.12,401.86 L564.42,402.09 L564.72,402.42 L565.02,402.79 L565.32,403.19 L565.62,403.59 L565.92,403.97 L566.23,404.32 L566.53,404.66 L566.83,404.96 L567.13,405.24 L567.43,405.48 L567.73,405.69 L568.03,405.86 L568.33,406 L568.63,406.11 L568.93,406.18 L569.23,406.23 L569.53,406.25 L569.83,406.24 L570.13,406.21 L570.43,406.15 L570.73,406.07 L571.03,405.97 L571.33,405.85 L571.63,405.71 L571.93,405.55 L572.23,405.36 L572.53,405.16 L572.83,404.92 L573.13,404.66 L573.43,404.37 L573.73,404.04 L574.03,403.67 L574.33,403.25 L574.63,402.77 L574.93,402.21 L575.24,401.56 L575.54,400.8 L575.84,399.89 L576.14,398.81 L576.44,397.53 L576.74,396 L577.04,394.19 L577.34,392.08 L577.64,389.64 L577.94,386.86 L578.24,383.74 L578.54,380.33 L578.84,376.7 L579.14,372.95 L579.44,369.26 L579.74,365.89 L580.04,363.12 L580.34,361.28 L580.64,360.63 L580.94,361.24 L581.24,363.04 L581.54,365.76 L581.84,369.09 L582.14,372.72 L582.44,376.4 L582.74,379.96 L583.04,383.27 L583.34,386.27 L583.64,388.89 L583.94,391.13 L584.25,392.97 L584.55,394.42 L584.85,395.49 L585.15,396.2 L585.45,396.59 L585.75,396.69 L586.05,396.59 L586.35,396.33 L586.65,396.01 L586.95,395.67 L587.25,395.38 L587.55,395.15 L587.85,394.99 L588.15,394.92 L588.45,394.94 L588.75,395.08 L589.05,395.37 L589.35,395.82 L589.65,396.43 L589.95,397.18 L590.25,398.03 L590.55,398.94 L590.85,399.88 L591.15,400.82 L591.45,401.73 L591.75,402.6 L592.05,403.41 L592.35,404.15 L592.65,404.81 L592.95,405.4 L593.26,405.91 L593.56,406.35 L593.86,406.72 L594.16,407.04 L594.46,407.3 L594.76,407.52 L595.06,407.71 L595.06,419.29 L414.86,419.29" stroke="none" stroke-width="0" fill="#f7f7f7" stroke-linejoin="round" />
<line x1="595.06" y1="407.71" x2="595.06" y2="419.29" stroke="#777" stroke-width="0.5" />
<path d="M414.86,413.99 L415.16,413.79 L415.46,413.53 L415.76,413.2 L416.06,412.79 L416.36,412.33 L416.66,411.86 L416.96,411.43 L417.26,411.09 L417.56,410.88 L417.86,410.83 L418.16,410.93 L418.46,411.14 L418.76,411.4 L419.06,411.67 L419.36,411.87 L419.66,411.98 L419.96,411.99 L420.26,411.89 L420.56,411.72 L420.86,411.5 L421.16,411.25 L421.46,410.97 L421.76,410.65 L422.07,410.28 L422.37,409.81 L422.67,409.22 L422.97,408.5 L423.27,407.63 L423.57,406.63 L423.87,405.54 L424.17,404.41 L424.47,403.36 L424.77,402.49 L425.07,401.93 L425.37,401.73 L425.67,401.85 L425.97,402.2 L426.27,402.67 L426.57,403.16 L426.87,403.62 L427.17,404.01 L427.47,404.3 L427.77,404.46 L428.07,404.47 L428.37,404.32 L428.67,404 L428.97,403.51 L429.27,402.87 L429.57,402.14 L429.87,401.38 L430.17,400.74 L430.47,400.33 L430.77,400.2 L431.08,400.29 L431.38,400.45 L431.68,400.54 L431.98,400.43 L432.28,400.06 L432.58,399.38 L432.88,398.36 L433.18,396.97 L433.48,395.21 L433.78,393.08 L434.08,390.58 L434.38,387.74 L434.68,384.6 L434.98,381.24 L435.28,377.77 L435.58,374.36 L435.88,371.23 L436.18,368.65 L436.48,366.91 L436.78,366.21 L437.08,366.62 L437.38,368.03 L437.68,370.24 L437.98,372.98 L438.28,376.02 L438.58,379.16 L438.88,382.25 L439.18,385.17 L439.48,387.85 L439.78,390.23 L440.09,392.27 L440.39,393.98 L440.69,395.36 L440.99,396.46 L441.29,397.31 L441.59,397.97 L441.89,398.5 L442.19,398.92 L442.49,399.29 L442.79,399.62 L443.09,399.94 L443.39,400.23 L443.69,400.51 L443.99,400.75 L444.29,400.94 L444.59,401.08 L444.89,401.13 L445.19,401.08 L445.49,400.92 L445.79,400.64 L446.09,400.25 L446.39,399.77 L446.69,399.23 L446.99,398.68 L447.29,398.16 L447.59,397.7 L447.89,397.32 L448.19,396.98 L448.49,396.67 L448.79,396.33 L449.1,395.89 L449.4,395.3 L449.7,394.51 L450,393.48 L450.3,392.15 L450.6,390.5 L450.9,388.47 L451.2,386 L451.5,383.03 L451.8,379.48 L452.1,375.27 L452.4,370.33 L452.7,364.62 L453,358.11 L453.3,350.83 L453.6,342.85 L453.9,334.33 L454.2,325.55 L454.5,316.93 L454.8,309.02 L455.1,302.55 L455.4,298.25 L455.7,296.72 L456,298.17 L456.3,302.38 L456.6,308.77 L456.9,316.58 L457.2,325.11 L457.5,333.79 L457.8,342.19 L458.11,350.04 L458.41,357.19 L458.71,363.53 L459.01,369.06 L459.31,373.77 L459.61,377.72 L459.91,380.97 L460.21,383.57 L460.51,385.61 L460.81,387.17 L461.11,388.31 L461.41,389.14 L461.71,389.75 L462.01,390.21 L462.31,390.63 L462.61,391.05 L462.91,391.52 L463.21,392.07 L463.51,392.67 L463.81,393.33 L464.11,394.03 L464.41,394.73 L464.71,395.44 L465.01,396.13 L465.31,396.8 L465.61,397.44 L465.91,398.05 L466.21,398.61 L466.51,399.12 L466.81,399.58 L467.12,399.98 L467.42,400.3 L467.72,400.55 L468.02,400.72 L468.32,400.79 L468.62,400.77 L468.92,400.64 L469.22,400.41 L469.52,400.06 L469.82,399.61 L470.12,399.05 L470.42,398.38 L470.72,397.62 L471.02,396.74 L471.32,395.77 L471.62,394.67 L471.92,393.42 L472.22,391.99 L472.52,390.34 L472.82,388.41 L473.12,386.18 L473.42,383.58 L473.72,380.62 L474.02,377.31 L474.32,373.69 L474.62,369.88 L474.92,366.07 L475.22,362.52 L475.52,359.57 L475.82,357.57 L476.13,356.82 L476.43,357.43 L476.73,359.33 L477.03,362.27 L477.33,365.92 L477.63,369.94 L477.93,374.07 L478.23,378.1 L478.53,381.89 L478.83,385.35 L479.13,388.44 L479.43,391.13 L479.73,393.43 L480.03,395.38 L480.33,397.01 L480.63,398.36 L480.93,399.48 L481.23,400.41 L481.53,401.18 L481.83,401.82 L482.13,402.36 L482.43,402.82 L482.73,403.2 L483.03,403.53 L483.33,403.81 L483.63,404.04 L483.93,404.23 L484.23,404.39 L484.53,404.5 L484.83,404.57 L485.14,404.59 L485.44,404.55 L485.74,404.45 L486.04,404.28 L486.34,404.02 L486.64,403.65 L486.94,403.16 L487.24,402.54 L487.54,401.76 L487.84,400.82 L488.14,399.71 L488.44,398.45 L488.74,397.05 L489.04,395.56 L489.34,394.06 L489.64,392.65 L489.94,391.46 L490.24,390.65 L490.54,390.34 L490.84,390.57 L491.14,391.3 L491.44,392.41 L491.74,393.75 L492.04,395.16 L492.34,396.56 L492.64,397.87 L492.94,399.03 L493.24,400.04 L493.54,400.87 L493.84,401.53 L494.15,402.02 L494.45,402.36 L494.75,402.56 L495.05,402.63 L495.35,402.58 L495.65,402.43 L495.95,402.18 L496.25,401.82 L496.55,401.37 L496.85,400.79 L497.15,400.1 L497.45,399.26 L497.75,398.27 L498.05,397.08 L498.35,395.69 L498.65,394.07 L498.95,392.18 L499.25,390.02 L499.55,387.58 L499.85,384.86 L500.15,381.89 L500.45,378.72 L500.75,375.44 L501.05,372.18 L501.35,369.15 L501.65,366.6 L501.95,364.79 L502.25,363.96 L502.55,364.21 L502.85,365.5 L503.16,367.62 L503.46,370.3 L503.76,373.28 L504.06,376.32 L504.36,379.27 L504.66,382.04 L504.96,384.55 L505.26,386.78 L505.56,388.72 L505.86,390.37 L506.16,391.76 L506.46,392.9 L506.76,393.83 L507.06,394.56 L507.36,395.13 L507.66,395.58 L507.96,395.92 L508.26,396.21 L508.56,396.46 L508.86,396.72 L509.16,396.99 L509.46,397.3 L509.76,397.65 L510.06,398.02 L510.36,398.41 L510.66,398.8 L510.96,399.16 L511.26,399.48 L511.56,399.75 L511.86,399.95 L512.17,400.09 L512.47,400.15 L512.77,400.12 L513.07,400.02 L513.37,399.82 L513.67,399.53 L513.97,399.15 L514.27,398.67 L514.57,398.1 L514.87,397.44 L515.17,396.71 L515.47,395.95 L515.77,395.2 L516.07,394.5 L516.37,393.92 L516.67,393.49 L516.97,393.24 L517.27,393.16 L517.57,393.21 L517.87,393.31 L518.17,393.39 L518.47,393.34 L518.77,393.08 L519.07,392.52 L519.37,391.57 L519.67,390.17 L519.97,388.24 L520.27,385.74 L520.57,382.61 L520.87,378.8 L521.18,374.29 L521.48,369.09 L521.78,363.21 L522.08,356.75 L522.38,349.86 L522.68,342.77 L522.98,335.83 L523.28,329.54 L523.58,324.43 L523.88,321.09 L524.18,319.96 L524.48,321.22 L524.78,324.68 L525.08,329.92 L525.38,336.36 L525.68,343.43 L525.98,350.67 L526.28,357.73 L526.58,364.38 L526.88,370.46 L527.18,375.91 L527.48,380.7 L527.78,384.83 L528.08,388.34 L528.38,391.29 L528.68,393.73 L528.98,395.73 L529.28,397.35 L529.58,398.67 L529.88,399.72 L530.19,400.55 L530.49,401.21 L530.79,401.71 L531.09,402.09 L531.39,402.36 L531.69,402.54 L531.99,402.65 L532.29,402.71 L532.59,402.74 L532.89,402.74 L533.19,402.74 L533.49,402.72 L533.79,402.7 L534.09,402.67 L534.39,402.61 L534.69,402.53 L534.99,402.42 L535.29,402.28 L535.59,402.11 L535.89,401.93 L536.19,401.74 L536.49,401.57 L536.79,401.45 L537.09,401.4 L537.39,401.43 L537.69,401.55 L537.99,401.77 L538.29,402.06 L538.59,402.41 L538.89,402.8 L539.2,403.21 L539.5,403.63 L539.8,404.04 L540.1,404.44 L540.4,404.81 L540.7,405.15 L541,405.46 L541.3,405.73 L541.6,405.97 L541.9,406.17 L542.2,406.34 L542.5,406.48 L542.8,406.59 L543.1,406.66 L543.4,406.71 L543.7,406.72 L544,406.71 L544.3,406.66 L544.6,406.57 L544.9,406.44 L545.2,406.25 L545.5,406 L545.8,405.66 L546.1,405.23 L546.4,404.67 L546.7,403.98 L547,403.12 L547.3,402.09 L547.6,400.87 L547.9,399.46 L548.21,397.87 L548.51,396.14 L548.81,394.32 L549.11,392.51 L549.41,390.85 L549.71,389.51 L550.01,388.67 L550.31,388.47 L550.61,388.93 L550.91,389.98 L551.21,391.46 L551.51,393.19 L551.81,395 L552.11,396.77 L552.41,398.43 L552.71,399.93 L553.01,401.24 L553.31,402.36 L553.61,403.3 L553.91,404.06 L554.21,404.67 L554.51,405.16 L554.81,405.54 L555.11,405.83 L555.41,406.05 L555.71,406.23 L556.01,406.37 L556.31,406.47 L556.61,406.56 L556.91,406.62 L557.22,406.67 L557.52,406.69 L557.82,406.7 L558.12,406.69 L558.42,406.66 L558.72,406.6 L559.02,406.52 L559.32,406.4 L559.62,406.25 L559.92,406.06 L560.22,405.84 L560.52,405.58 L560.82,405.28 L561.12,404.94 L561.42,404.57 L561.72,404.16 L562.02,403.71 L562.32,403.24 L562.62,402.78 L562.92,402.36 L563.22,402.02 L563.52,401.81 L563.82,401.76 L564.12,401.86 L564.42,402.09 L564.72,402.42 L565.02,402.79 L565.32,403.19 L565.62,403.59 L565.92,403.97 L566.23,404.32 L566.53,404.66 L566.83,404.96 L567.13,405.24 L567.43,405.48 L567.73,405.69 L568.03,405.86 L568.33,406 L568.63,406.11 L568.93,406.18 L569.23,406.23 L569.53,406.25 L569.83,406.24 L570.13,406.21 L570.43,406.15 L570.73,406.07 L571.03,405.97 L571.33,405.85 L571.63,405.71 L571.93,405.55 L572.23,405.36 L572.53,405.16 L572.83,404.92 L573.13,404.66 L573.43,404.37 L573.73,404.04 L574.03,403.67 L574.33,403.25 L574.63,402.77 L574.93,402.21 L575.24,401.56 L575.54,400.8 L575.84,399.89 L576.14,398.81 L576.44,397.53 L576.74,396 L577.04,394.19 L577.34,392.08 L577.64,389.64 L577.94,386.86 L578.24,383.74 L578.54,380.33 L578.84,376.7 L579.14,372.95 L579.44,369.26 L579.74,365.89 L580.04,363.12 L580.34,361.28 L580.64,360.63 L580.94,361.24 L581.24,363.04 L581.54,365.76 L581.84,369.09 L582.14,372.72 L582.44,376.4 L582.74,379.96 L583.04,383.27 L583.34,386.27 L583.64,388.89 L583.94,391.13 L584.25,392.97 L584.55,394.42 L584.85,395.49 L585.15,396.2 L585.45,396.59 L585.75,396.69 L586.05,396.59 L586.35,396.33 L586.65,396.01 L586.95,395.67 L587.25,395.38 L587.55,395.15 L587.85,394.99 L588.15,394.92 L588.45,394.94 L588.75,395.08 L589.05,395.37 L589.35,395.82 L589.65,396.43 L589.95,397.18 L590.25,398.03 L590.55,398.94 L590.85,399.88 L591.15,400.82 L591.45,401.73 L591.75,402.6 L592.05,403.41 L592.35,404.15 L592.65,404.81 L592.95,405.4 L593.26,405.91 L593.56,406.35 L593.86,406.72 L594.16,407.04 L594.46,407.3 L594.76,407.52 L595.06,407.71" stroke="#444" stroke-width="0.6" fill="none" stroke-linejoin="round" />
<path d="M408.2,410.37 L408.5,410.1 L408.8,409.85 L409.1,409.63 L409.4,409.42 L409.7,409.24 L410,409.08 L410.3,408.95 L410.6,408.84 L410.9,408.76 L411.2,408.7 L411.5,408.67 L411.8,408.65 L412.1,408.65 L412.4,408.67 L412.7,408.7 L413.01,408.73 L413.31,408.76 L413.61,408.77 L413.91,408.77 L414.21,408.73 L414.51,408.63 L414.81,408.45 L415.11,408.15 L415.41,407.69 L415.71,407.03 L416.01,406.14 L416.31,404.98 L416.61,403.54 L416.91,401.84 L417.21,399.94 L417.51,397.97 L417.81,396.16 L418.11,394.81 L418.41,394.22 L418.71,394.5 L419.01,395.55 L419.31,397.08 L419.61,398.78 L419.91,400.42 L420.21,401.85 L420.51,402.99 L420.81,403.79 L421.11,404.21 L421.41,404.24 L421.71,403.89 L422.02,403.16 L422.32,402.1 L422.62,400.77 L422.92,399.27 L423.22,397.76 L423.52,396.48 L423.82,395.63 L424.12,395.32 L424.42,395.43 L424.72,395.74 L425.02,396 L425.32,396.01 L425.62,395.63 L425.92,394.78 L426.22,393.39 L426.52,391.39 L426.82,388.77 L427.12,385.52 L427.42,381.65 L427.72,377.2 L428.02,372.25 L428.32,366.95 L428.62,361.48 L428.92,356.14 L429.22,351.32 L429.52,347.5 L429.82,345.13 L430.12,344.55 L430.42,345.87 L430.72,348.87 L431.03,353.16 L431.33,358.25 L431.63,363.73 L431.93,369.23 L432.23,374.52 L432.53,379.45 L432.83,383.91 L433.13,387.87 L433.43,391.32 L433.73,394.28 L434.03,396.78 L434.33,398.87 L434.63,400.61 L434.93,402.04 L435.23,403.21 L435.53,404.17 L435.83,404.95 L436.13,405.58 L436.43,406.09 L436.73,406.5 L437.03,406.81 L437.33,407.05 L437.63,407.22 L437.93,407.32 L438.23,407.36 L438.53,407.35 L438.83,407.3 L439.13,407.19 L439.43,407.05 L439.73,406.87 L440.04,406.65 L440.34,406.4 L440.64,406.12 L440.94,405.8 L441.24,405.44 L441.54,405.04 L441.84,404.59 L442.14,404.07 L442.44,403.47 L442.74,402.76 L443.04,401.92 L443.34,400.89 L443.64,399.63 L443.94,398.08 L444.24,396.19 L444.54,393.88 L444.84,391.09 L445.14,387.79 L445.44,383.92 L445.74,379.48 L446.04,374.45 L446.34,368.87 L446.64,362.75 L446.94,356.19 L447.24,349.29 L447.54,342.25 L447.84,335.37 L448.14,329.11 L448.44,324.01 L448.74,320.69 L449.05,319.64 L449.35,321.03 L449.65,324.69 L449.95,330.13 L450.25,336.73 L450.55,343.9 L450.85,351.16 L451.15,358.16 L451.45,364.67 L451.75,370.56 L452.05,375.75 L452.35,380.23 L452.65,384.03 L452.95,387.19 L453.25,389.79 L453.55,391.91 L453.85,393.62 L454.15,395.02 L454.45,396.16 L454.75,397.1 L455.05,397.88 L455.35,398.53 L455.65,399.07 L455.95,399.53 L456.25,399.93 L456.55,400.3 L456.85,400.65 L457.15,401.01 L457.45,401.4 L457.75,401.83 L458.06,402.3 L458.36,402.81 L458.66,403.33 L458.96,403.85 L459.26,404.35 L459.56,404.82 L459.86,405.25 L460.16,405.63 L460.46,405.95 L460.76,406.2 L461.06,406.39 L461.36,406.51 L461.66,406.55 L461.96,406.52 L462.26,406.41 L462.56,406.21 L462.86,405.92 L463.16,405.53 L463.46,405.02 L463.76,404.37 L464.06,403.55 L464.36,402.54 L464.66,401.29 L464.96,399.77 L465.26,397.92 L465.56,395.69 L465.86,393.05 L466.16,389.95 L466.46,386.38 L466.76,382.33 L467.07,377.82 L467.37,372.92 L467.67,367.74 L467.97,362.44 L468.27,357.28 L468.57,352.61 L468.87,348.85 L469.17,346.45 L469.47,345.74 L469.77,346.86 L470.07,349.64 L470.37,353.74 L470.67,358.69 L470.97,364.04 L471.27,369.46 L471.57,374.69 L471.87,379.56 L472.17,383.97 L472.47,387.87 L472.77,391.26 L473.07,394.15 L473.37,396.58 L473.67,398.58 L473.97,400.21 L474.27,401.53 L474.57,402.6 L474.87,403.46 L475.17,404.16 L475.47,404.74 L475.77,405.23 L476.08,405.67 L476.38,406.07 L476.68,406.45 L476.98,406.82 L477.28,407.18 L477.58,407.53 L477.88,407.87 L478.18,408.18 L478.48,408.46 L478.78,408.68 L479.08,408.84 L479.38,408.9 L479.68,408.86 L479.98,408.68 L480.28,408.34 L480.58,407.84 L480.88,407.14 L481.18,406.26 L481.48,405.17 L481.78,403.9 L482.08,402.48 L482.38,400.94 L482.68,399.38 L482.98,397.91 L483.28,396.67 L483.58,395.83 L483.88,395.52 L484.18,395.8 L484.48,396.6 L484.78,397.81 L485.09,399.26 L485.39,400.8 L485.69,402.32 L485.99,403.73 L486.29,405 L486.59,406.1 L486.89,407.01 L487.19,407.74 L487.49,408.3 L487.79,408.7 L488.09,408.95 L488.39,409.08 L488.69,409.09 L488.99,409 L489.29,408.81 L489.59,408.52 L489.89,408.14 L490.19,407.64 L490.49,407.01 L490.79,406.24 L491.09,405.29 L491.39,404.14 L491.69,402.75 L491.99,401.09 L492.29,399.13 L492.59,396.84 L492.89,394.22 L493.19,391.26 L493.49,388 L493.79,384.5 L494.1,380.85 L494.4,377.22 L494.7,373.84 L495,370.98 L495.3,368.95 L495.6,368.03 L495.9,368.34 L496.2,369.82 L496.5,372.24 L496.8,375.31 L497.1,378.7 L497.4,382.17 L497.7,385.53 L498,388.65 L498.3,391.45 L498.6,393.89 L498.9,395.97 L499.2,397.67 L499.5,399.03 L499.8,400.06 L500.1,400.78 L500.4,401.22 L500.7,401.39 L501,401.36 L501.3,401.19 L501.6,401 L501.9,400.91 L502.2,401.03 L502.5,401.42 L502.8,402.05 L503.11,402.87 L503.41,403.77 L503.71,404.64 L504.01,405.43 L504.31,406.1 L504.61,406.64 L504.91,407.06 L505.21,407.39 L505.51,407.61 L505.81,407.74 L506.11,407.78 L506.41,407.72 L506.71,407.56 L507.01,407.31 L507.31,406.97 L507.61,406.54 L507.91,406.05 L508.21,405.52 L508.51,404.97 L508.81,404.44 L509.11,403.95 L509.41,403.53 L509.71,403.2 L510.01,402.94 L510.31,402.74 L510.61,402.58 L510.91,402.41 L511.21,402.19 L511.51,401.88 L511.81,401.43 L512.12,400.8 L512.42,399.92 L512.72,398.74 L513.02,397.2 L513.32,395.24 L513.62,392.79 L513.92,389.79 L514.22,386.18 L514.52,381.93 L514.82,377.04 L515.12,371.52 L515.42,365.46 L515.72,358.98 L516.02,352.32 L516.32,345.79 L516.62,339.87 L516.92,335.09 L517.22,331.98 L517.52,330.99 L517.82,332.26 L518.12,335.64 L518.42,340.72 L518.72,346.93 L519.02,353.74 L519.32,360.71 L519.62,367.5 L519.92,373.89 L520.22,379.74 L520.52,384.98 L520.82,389.58 L521.13,393.55 L521.43,396.92 L521.73,399.74 L522.03,402.08 L522.33,404 L522.63,405.55 L522.93,406.8 L523.23,407.79 L523.53,408.56 L523.83,409.16 L524.13,409.59 L524.43,409.9 L524.73,410.11 L525.03,410.25 L525.33,410.33 L525.63,410.39 L525.93,410.45 L526.23,410.51 L526.53,410.57 L526.83,410.64 L527.13,410.69 L527.43,410.72 L527.73,410.71 L528.03,410.65 L528.33,410.54 L528.63,410.39 L528.93,410.19 L529.23,409.97 L529.53,409.76 L529.83,409.57 L530.14,409.43 L530.44,409.36 L530.74,409.39 L531.04,409.51 L531.34,409.72 L531.64,410.01 L531.94,410.37 L532.24,410.76 L532.54,411.18 L532.84,411.61 L533.14,412.03 L533.44,412.43 L533.74,412.81 L534.04,413.16 L534.34,413.47 L534.64,413.76 L534.94,414.01 L535.24,414.23 L535.54,414.41 L535.84,414.57 L536.14,414.69 L536.44,414.79 L536.74,414.86 L537.04,414.9 L537.34,414.92 L537.64,414.9 L537.94,414.86 L538.24,414.77 L538.54,414.65 L538.84,414.47 L539.15,414.23 L539.45,413.91 L539.75,413.5 L540.05,412.98 L540.35,412.34 L540.65,411.56 L540.95,410.64 L541.25,409.57 L541.55,408.36 L541.85,407.05 L542.15,405.67 L542.45,404.3 L542.75,403.05 L543.05,402.04 L543.35,401.41 L543.65,401.27 L543.95,401.64 L544.25,402.47 L544.55,403.62 L544.85,404.97 L545.15,406.38 L545.45,407.77 L545.75,409.07 L546.05,410.26 L546.35,411.3 L546.65,412.2 L546.95,412.95 L547.25,413.58 L547.55,414.09 L547.85,414.5 L548.16,414.82 L548.46,415.07 L548.76,415.26 L549.06,415.4 L549.36,415.49 L549.66,415.54 L549.96,415.56 L550.26,415.52 L550.56,415.45 L550.86,415.32 L551.16,415.15 L551.46,414.92 L551.76,414.66 L552.06,414.35 L552.36,414.02 L552.66,413.68 L552.96,413.34 L553.26,413.02 L553.56,412.74 L553.86,412.5 L554.16,412.3 L554.46,412.15 L554.76,412.03 L555.06,411.94 L555.36,411.87 L555.66,411.82 L555.96,411.77 L556.26,411.75 L556.56,411.75 L556.86,411.79 L557.17,411.87 L557.47,412.01 L557.77,412.2 L558.07,412.44 L558.37,412.71 L558.67,413.01 L558.97,413.33 L559.27,413.64 L559.57,413.95 L559.87,414.25 L560.17,414.52 L560.47,414.78 L560.77,415.01 L561.07,415.21 L561.37,415.39 L561.67,415.55 L561.97,415.68 L562.27,415.79 L562.57,415.88 L562.87,415.95 L563.17,416 L563.47,416.04 L563.77,416.06 L564.07,416.07 L564.37,416.07 L564.67,416.05 L564.97,416.02 L565.27,415.99 L565.57,415.94 L565.87,415.88 L566.18,415.8 L566.48,415.71 L566.78,415.61 L567.08,415.49 L567.38,415.34 L567.68,415.17 L567.98,414.96 L568.28,414.7 L568.58,414.38 L568.88,413.99 L569.18,413.5 L569.48,412.9 L569.78,412.16 L570.08,411.24 L570.38,410.13 L570.68,408.81 L570.98,407.24 L571.28,405.43 L571.58,403.37 L571.88,401.08 L572.18,398.62 L572.48,396.06 L572.78,393.53 L573.08,391.19 L573.38,389.27 L573.68,387.99 L573.98,387.54 L574.28,387.97 L574.58,389.22 L574.88,391.12 L575.19,393.43 L575.49,395.93 L575.79,398.45 L576.09,400.87 L576.39,403.1 L576.69,405.09 L576.99,406.82 L577.29,408.27 L577.59,409.45 L577.89,410.36 L578.19,411.02 L578.49,411.45 L578.79,411.65 L579.09,411.65 L579.39,411.47 L579.69,411.14 L579.99,410.69 L580.29,410.15 L580.59,409.57 L580.89,409 L581.19,408.49 L581.49,408.09 L581.79,407.84 L582.09,407.79 L582.39,407.95 L582.69,408.32 L582.99,408.85 L583.29,409.5 L583.59,410.19 L583.89,410.88 L584.2,411.49 L584.5,412 L584.8,412.38 L585.1,412.6 L585.4,412.65 L585.7,412.54 L586,412.31 L586.3,412.04 L586.6,411.8 L586.9,411.69 L587.2,411.77 L587.5,412.03 L587.8,412.44 L588.1,412.93 L588.4,413.43 L588.4,427 L408.2,427" stroke="none" stroke-width="0" fill="#f7f7f7" stroke-linejoin="round" />
<line x1="588.4" y1="413.43" x2="588.4" y2="427" stroke="#777" stroke-width="0.5" />
<path d="M408.2,410.37 L408.5,410.1 L408.8,409.85 L409.1,409.63 L409.4,409.42 L409.7,409.24 L410,409.08 L410.3,408.95 L410.6,408.84 L410.9,408.76 L411.2,408.7 L411.5,408.67 L411.8,408.65 L412.1,408.65 L412.4,408.67 L412.7,408.7 L413.01,408.73 L413.31,408.76 L413.61,408.77 L413.91,408.77 L414.21,408.73 L414.51,408.63 L414.81,408.45 L415.11,408.15 L415.41,407.69 L415.71,407.03 L416.01,406.14 L416.31,404.98 L416.61,403.54 L416.91,401.84 L417.21,399.94 L417.51,397.97 L417.81,396.16 L418.11,394.81 L418.41,394.22 L418.71,394.5 L419.01,395.55 L419.31,397.08 L419.61,398.78 L419.91,400.42 L420.21,401.85 L420.51,402.99 L420.81,403.79 L421.11,404.21 L421.41,404.24 L421.71,403.89 L422.02,403.16 L422.32,402.1 L422.62,400.77 L422.92,399.27 L423.22,397.76 L423.52,396.48 L423.82,395.63 L424.12,395.32 L424.42,395.43 L424.72,395.74 L425.02,396 L425.32,396.01 L425.62,395.63 L425.92,394.78 L426.22,393.39 L426.52,391.39 L426.82,388.77 L427.12,385.52 L427.42,381.65 L427.72,377.2 L428.02,372.25 L428.32,366.95 L428.62,361.48 L428.92,356.14 L429.22,351.32 L429.52,347.5 L429.82,345.13 L430.12,344.55 L430.42,345.87 L430.72,348.87 L431.03,353.16 L431.33,358.25 L431.63,363.73 L431.93,369.23 L432.23,374.52 L432.53,379.45 L432.83,383.91 L433.13,387.87 L433.43,391.32 L433.73,394.28 L434.03,396.78 L434.33,398.87 L434.63,400.61 L434.93,402.04 L435.23,403.21 L435.53,404.17 L435.83,404.95 L436.13,405.58 L436.43,406.09 L436.73,406.5 L437.03,406.81 L437.33,407.05 L437.63,407.22 L437.93,407.32 L438.23,407.36 L438.53,407.35 L438.83,407.3 L439.13,407.19 L439.43,407.05 L439.73,406.87 L440.04,406.65 L440.34,406.4 L440.64,406.12 L440.94,405.8 L441.24,405.44 L441.54,405.04 L441.84,404.59 L442.14,404.07 L442.44,403.47 L442.74,402.76 L443.04,401.92 L443.34,400.89 L443.64,399.63 L443.94,398.08 L444.24,396.19 L444.54,393.88 L444.84,391.09 L445.14,387.79 L445.44,383.92 L445.74,379.48 L446.04,374.45 L446.34,368.87 L446.64,362.75 L446.94,356.19 L447.24,349.29 L447.54,342.25 L447.84,335.37 L448.14,329.11 L448.44,324.01 L448.74,320.69 L449.05,319.64 L449.35,321.03 L449.65,324.69 L449.95,330.13 L450.25,336.73 L450.55,343.9 L450.85,351.16 L451.15,358.16 L451.45,364.67 L451.75,370.56 L452.05,375.75 L452.35,380.23 L452.65,384.03 L452.95,387.19 L453.25,389.79 L453.55,391.91 L453.85,393.62 L454.15,395.02 L454.45,396.16 L454.75,397.1 L455.05,397.88 L455.35,398.53 L455.65,399.07 L455.95,399.53 L456.25,399.93 L456.55,400.3 L456.85,400.65 L457.15,401.01 L457.45,401.4 L457.75,401.83 L458.06,402.3 L458.36,402.81 L458.66,403.33 L458.96,403.85 L459.26,404.35 L459.56,404.82 L459.86,405.25 L460.16,405.63 L460.46,405.95 L460.76,406.2 L461.06,406.39 L461.36,406.51 L461.66,406.55 L461.96,406.52 L462.26,406.41 L462.56,406.21 L462.86,405.92 L463.16,405.53 L463.46,405.02 L463.76,404.37 L464.06,403.55 L464.36,402.54 L464.66,401.29 L464.96,399.77 L465.26,397.92 L465.56,395.69 L465.86,393.05 L466.16,389.95 L466.46,386.38 L466.76,382.33 L467.07,377.82 L467.37,372.92 L467.67,367.74 L467.97,362.44 L468.27,357.28 L468.57,352.61 L468.87,348.85 L469.17,346.45 L469.47,345.74 L469.77,346.86 L470.07,349.64 L470.37,353.74 L470.67,358.69 L470.97,364.04 L471.27,369.46 L471.57,374.69 L471.87,379.56 L472.17,383.97 L472.47,387.87 L472.77,391.26 L473.07,394.15 L473.37,396.58 L473.67,398.58 L473.97,400.21 L474.27,401.53 L474.57,402.6 L474.87,403.46 L475.17,404.16 L475.47,404.74 L475.77,405.23 L476.08,405.67 L476.38,406.07 L476.68,406.45 L476.98,406.82 L477.28,407.18 L477.58,407.53 L477.88,407.87 L478.18,408.18 L478.48,408.46 L478.78,408.68 L479.08,408.84 L479.38,408.9 L479.68,408.86 L479.98,408.68 L480.28,408.34 L480.58,407.84 L480.88,407.14 L481.18,406.26 L481.48,405.17 L481.78,403.9 L482.08,402.48 L482.38,400.94 L482.68,399.38 L482.98,397.91 L483.28,396.67 L483.58,395.83 L483.88,395.52 L484.18,395.8 L484.48,396.6 L484.78,397.81 L485.09,399.26 L485.39,400.8 L485.69,402.32 L485.99,403.73 L486.29,405 L486.59,406.1 L486.89,407.01 L487.19,407.74 L487.49,408.3 L487.79,408.7 L488.09,408.95 L488.39,409.08 L488.69,409.09 L488.99,409 L489.29,408.81 L489.59,408.52 L489.89,408.14 L490.19,407.64 L490.49,407.01 L490.79,406.24 L491.09,405.29 L491.39,404.14 L491.69,402.75 L491.99,401.09 L492.29,399.13 L492.59,396.84 L492.89,394.22 L493.19,391.26 L493.49,388 L493.79,384.5 L494.1,380.85 L494.4,377.22 L494.7,373.84 L495,370.98 L495.3,368.95 L495.6,368.03 L495.9,368.34 L496.2,369.82 L496.5,372.24 L496.8,375.31 L497.1,378.7 L497.4,382.17 L497.7,385.53 L498,388.65 L498.3,391.45 L498.6,393.89 L498.9,395.97 L499.2,397.67 L499.5,399.03 L499.8,400.06 L500.1,400.78 L500.4,401.22 L500.7,401.39 L501,401.36 L501.3,401.19 L501.6,401 L501.9,400.91 L502.2,401.03 L502.5,401.42 L502.8,402.05 L503.11,402.87 L503.41,403.77 L503.71,404.64 L504.01,405.43 L504.31,406.1 L504.61,406.64 L504.91,407.06 L505.21,407.39 L505.51,407.61 L505.81,407.74 L506.11,407.78 L506.41,407.72 L506.71,407.56 L507.01,407.31 L507.31,406.97 L507.61,406.54 L507.91,406.05 L508.21,405.52 L508.51,404.97 L508.81,404.44 L509.11,403.95 L509.41,403.53 L509.71,403.2 L510.01,402.94 L510.31,402.74 L510.61,402.58 L510.91,402.41 L511.21,402.19 L511.51,401.88 L511.81,401.43 L512.12,400.8 L512.42,399.92 L512.72,398.74 L513.02,397.2 L513.32,395.24 L513.62,392.79 L513.92,389.79 L514.22,386.18 L514.52,381.93 L514.82,377.04 L515.12,371.52 L515.42,365.46 L515.72,358.98 L516.02,352.32 L516.32,345.79 L516.62,339.87 L516.92,335.09 L517.22,331.98 L517.52,330.99 L517.82,332.26 L518.12,335.64 L518.42,340.72 L518.72,346.93 L519.02,353.74 L519.32,360.71 L519.62,367.5 L519.92,373.89 L520.22,379.74 L520.52,384.98 L520.82,389.58 L521.13,393.55 L521.43,396.92 L521.73,399.74 L522.03,402.08 L522.33,404 L522.63,405.55 L522.93,406.8 L523.23,407.79 L523.53,408.56 L523.83,409.16 L524.13,409.59 L524.43,409.9 L524.73,410.11 L525.03,410.25 L525.33,410.33 L525.63,410.39 L525.93,410.45 L526.23,410.51 L526.53,410.57 L526.83,410.64 L527.13,410.69 L527.43,410.72 L527.73,410.71 L528.03,410.65 L528.33,410.54 L528.63,410.39 L528.93,410.19 L529.23,409.97 L529.53,409.76 L529.83,409.57 L530.14,409.43 L530.44,409.36 L530.74,409.39 L531.04,409.51 L531.34,409.72 L531.64,410.01 L531.94,410.37 L532.24,410.76 L532.54,411.18 L532.84,411.61 L533.14,412.03 L533.44,412.43 L533.74,412.81 L534.04,413.16 L534.34,413.47 L534.64,413.76 L534.94,414.01 L535.24,414.23 L535.54,414.41 L535.84,414.57 L536.14,414.69 L536.44,414.79 L536.74,414.86 L537.04,414.9 L537.34,414.92 L537.64,414.9 L537.94,414.86 L538.24,414.77 L538.54,414.65 L538.84,414.47 L539.15,414.23 L539.45,413.91 L539.75,413.5 L540.05,412.98 L540.35,412.34 L540.65,411.56 L540.95,410.64 L541.25,409.57 L541.55,408.36 L541.85,407.05 L542.15,405.67 L542.45,404.3 L542.75,403.05 L543.05,402.04 L543.35,401.41 L543.65,401.27 L543.95,401.64 L544.25,402.47 L544.55,403.62 L544.85,404.97 L545.15,406.38 L545.45,407.77 L545.75,409.07 L546.05,410.26 L546.35,411.3 L546.65,412.2 L546.95,412.95 L547.25,413.58 L547.55,414.09 L547.85,414.5 L548.16,414.82 L548.46,415.07 L548.76,415.26 L549.06,415.4 L549.36,415.49 L549.66,415.54 L549.96,415.56 L550.26,415.52 L550.56,415.45 L550.86,415.32 L551.16,415.15 L551.46,414.92 L551.76,414.66 L552.06,414.35 L552.36,414.02 L552.66,413.68 L552.96,413.34 L553.26,413.02 L553.56,412.74 L553.86,412.5 L554.16,412.3 L554.46,412.15 L554.76,412.03 L555.06,411.94 L555.36,411.87 L555.66,411.82 L555.96,411.77 L556.26,411.75 L556.56,411.75 L556.86,411.79 L557.17,411.87 L557.47,412.01 L557.77,412.2 L558.07,412.44 L558.37,412.71 L558.67,413.01 L558.97,413.33 L559.27,413.64 L559.57,413.95 L559.87,414.25 L560.17,414.52 L560.47,414.78 L560.77,415.01 L561.07,415.21 L561.37,415.39 L561.67,415.55 L561.97,415.68 L562.27,415.79 L562.57,415.88 L562.87,415.95 L563.17,416 L563.47,416.04 L563.77,416.06 L564.07,416.07 L564.37,416.07 L564.67,416.05 L564.97,416.02 L565.27,415.99 L565.57,415.94 L565.87,415.88 L566.18,415.8 L566.48,415.71 L566.78,415.61 L567.08,415.49 L567.38,415.34 L567.68,415.17 L567.98,414.96 L568.28,414.7 L568.58,414.38 L568.88,413.99 L569.18,413.5 L569.48,412.9 L569.78,412.16 L570.08,411.24 L570.38,410.13 L570.68,408.81 L570.98,407.24 L571.28,405.43 L571.58,403.37 L571.88,401.08 L572.18,398.62 L572.48,396.06 L572.78,393.53 L573.08,391.19 L573.38,389.27 L573.68,387.99 L573.98,387.54 L574.28,387.97 L574.58,389.22 L574.88,391.12 L575.19,393.43 L575.49,395.93 L575.79,398.45 L576.09,400.87 L576.39,403.1 L576.69,405.09 L576.99,406.82 L577.29,408.27 L577.59,409.45 L577.89,410.36 L578.19,411.02 L578.49,411.45 L578.79,411.65 L579.09,411.65 L579.39,411.47 L579.69,411.14 L579.99,410.69 L580.29,410.15 L580.59,409.57 L580.89,409 L581.19,408.49 L581.49,408.09 L581.79,407.84 L582.09,407.79 L582.39,407.95 L582.69,408.32 L582.99,408.85 L583.29,409.5 L583.59,410.19 L583.89,410.88 L584.2,411.49 L584.5,412 L584.8,412.38 L585.1,412.6 L585.4,412.65 L585.7,412.54 L586,412.31 L586.3,412.04 L586.6,411.8 L586.9,411.69 L587.2,411.77 L587.5,412.03 L587.8,412.44 L588.1,412.93 L588.4,413.43" stroke="#444" stroke-width="0.6" fill="none" stroke-linejoin="round" />
<line x1="408.2" y1="427" x2="588.4" y2="427" stroke="#888" stroke-width="0.8" />
<line x1="588.4" y1="427" x2="635" y2="373" stroke="#222" stroke-width="0.9" />
<line x1="591.73" y1="423.14" x2="593.93" y2="425.04" stroke="#222" stroke-width="0.7" />
<line x1="598.39" y1="415.43" x2="600.59" y2="417.33" stroke="#222" stroke-width="0.7" />
<line x1="605.04" y1="407.71" x2="607.24" y2="409.61" stroke="#222" stroke-width="0.7" />
<line x1="611.7" y1="400" x2="613.9" y2="401.9" stroke="#222" stroke-width="0.7" />
<line x1="618.36" y1="392.29" x2="620.56" y2="394.19" stroke="#222" stroke-width="0.7" />
<line x1="625.01" y1="384.57" x2="627.21" y2="386.47" stroke="#222" stroke-width="0.7" />
<line x1="631.67" y1="376.86" x2="633.87" y2="378.76" stroke="#222" stroke-width="0.7" />
<text x="420.21" y="439.3" font-size="8.4" text-anchor="middle" font-weight="bold" fill="#1a1a1a" >276</text>
<text x="444.24" y="439.3" font-size="8.4" text-anchor="middle" font-weight="bold" fill="#1a1a1a" >278</text>
<text x="468.27" y="439.3" font-size="8.4" text-anchor="middle" font-weight="bold" fill="#1a1a1a" >280</text>
<text x="492.29" y="439.3" font-size="8.4" text-anchor="middle" font-weight="bold" fill="#1a1a1a" >282</text>
<text x="516.32" y="439.3" font-size="8.4" text-anchor="middle" font-weight="bold" fill="#1a1a1a" >284</text>
<text x="540.35" y="439.3" font-size="8.4" text-anchor="middle" font-weight="bold" fill="#1a1a1a" >286</text>
<text x="564.37" y="439.3" font-size="8.4" text-anchor="middle" font-weight="bold" fill="#1a1a1a" >288</text>
<text x="588.4" y="439.3" font-size="8.4" text-anchor="middle" font-weight="bold" fill="#1a1a1a" >290</text>
<text x="498.8" y="452.6" font-size="8.3" text-anchor="middle" font-weight="bold" fill="#1a1a1a" >Wavelength (nm)</text>
<line x1="635" y1="343.2" x2="636.8" y2="343.2" stroke="#444" stroke-width="0.7" />
<line x1="635" y1="283.6" x2="636.8" y2="283.6" stroke="#444" stroke-width="0.7" />
<line x1="635" y1="253.8" x2="638" y2="253.8" stroke="#222" stroke-width="0.8" />
<text x="640.2" y="256.8" font-size="8.4" text-anchor="start" font-weight="bold" fill="#1a1a1a" >1.0</text>
<line x1="635" y1="313.4" x2="638" y2="313.4" stroke="#222" stroke-width="0.8" />
<text x="640.2" y="316.4" font-size="8.4" text-anchor="start" font-weight="bold" fill="#1a1a1a" >0.5</text>
<line x1="635" y1="373" x2="638" y2="373" stroke="#222" stroke-width="0.8" />
<text x="640.2" y="376" font-size="8.4" text-anchor="start" font-weight="bold" fill="#1a1a1a" >0.0</text>
<text transform="translate(668.4,314.3) rotate(-90)" font-size="8.3" font-weight="bold" text-anchor="middle" fill="#1a1a1a">Intensity (x10<tspan font-size="5.5" dy="-3">4</tspan><tspan dy="3"> counts)</tspan></text>
<text x="598.7" y="438.3" font-size="8.4" text-anchor="middle" font-weight="bold" fill="#1a1a1a" >1</text>
<text x="604.4" y="428" font-size="8.4" text-anchor="middle" font-weight="bold" fill="#1a1a1a" >2</text>
<text x="610.9" y="419.5" font-size="8.4" text-anchor="middle" font-weight="bold" fill="#1a1a1a" >5</text>
<text x="618.6" y="412.6" font-size="8.4" text-anchor="middle" font-weight="bold" fill="#1a1a1a" >10</text>
<text x="626.3" y="404" font-size="8.4" text-anchor="middle" font-weight="bold" fill="#1a1a1a" >20</text>
<text x="634" y="394.5" font-size="8.4" text-anchor="middle" font-weight="bold" fill="#1a1a1a" >50</text>
<text x="643.2" y="385.5" font-size="8.4" text-anchor="middle" font-weight="bold" fill="#1a1a1a" >100</text>
<text transform="translate(647.2,409.2) rotate(-51)" font-size="8.4" font-weight="bold" text-anchor="middle" fill="#1a1a1a">Pulse number</text>
<rect x="516.3" y="258" width="116" height="59.5" fill="#111"/>
<rect x="513.6" y="255" width="115.2" height="59.1" fill="#fff" stroke="#222" stroke-width="0.8"/>
<text x="521.2" y="272.4" font-size="10.85" text-anchor="start" font-weight="bold" fill="#1a1a1a" >248 nm, 23 ns</text>
<text x="521.2" y="287.3" font-size="10.85" text-anchor="start" font-weight="bold" fill="#1a1a1a" >Distance: 1.02 mm</text>
<text x="521.2" y="304.9" font-size="10.85" text-anchor="start" font-weight="bold" fill="#1a1a1a" >Fluence: 2.6 J/cm<tspan font-size="7.5" dy="-4.6">2</tspan></text>
</svg></body></html>
